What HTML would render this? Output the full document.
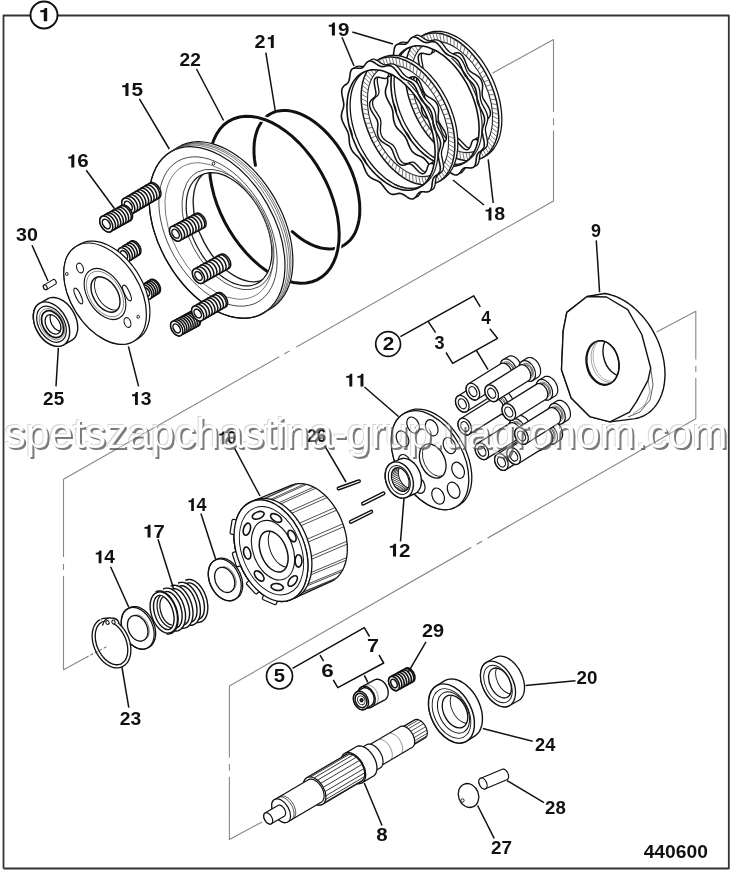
<!DOCTYPE html>
<html><head><meta charset="utf-8"><style>
html,body{margin:0;padding:0;background:#fff;width:736px;height:873px;overflow:hidden}
svg{position:absolute;left:0;top:0;display:block;filter:grayscale(1)}
.lb{font-family:"Liberation Sans",sans-serif;font-weight:bold;fill:#111}
.wm{font-family:"Liberation Sans",sans-serif;font-size:42.5px}
</style></head><body>
<svg width="736" height="873" viewBox="0 0 736 873">
<path d="M398.4,733.3 L398.4,732.5 L398.4,731.8 L398.6,731.1 L398.8,730.5 L399.0,729.9 L399.3,729.4 L399.7,728.9 L400.1,728.5 L400.5,728.1 L414.3,720.0 L414.8,719.8 L415.3,719.6 L415.9,719.4 L416.5,719.4 L417.1,719.4 L417.7,719.5 L418.4,719.7 L419.0,720.0 L419.7,720.3 L420.4,720.7 L421.1,721.1 L421.7,721.7 L422.4,722.2 L423.0,722.9 L423.6,723.5 L424.1,724.3 L424.7,725.0 L425.2,725.8 L425.6,726.6 L426.0,727.4 L426.4,728.3 L426.7,729.1 L426.9,730.0 L427.1,730.8 L427.2,731.6 L427.3,732.4 L427.3,733.2 L427.3,734.0 L427.2,734.7 L427.0,735.3 L426.8,735.9 L426.5,736.5 L426.2,737.0 L425.8,737.4 L425.4,737.8 L424.9,738.1 L411.2,746.2 L410.7,746.5 L410.1,746.6 L409.5,746.7 L408.9,746.7 L408.3,746.6 L407.6,746.5 L407.0,746.3 L406.3,746.0 L405.6,745.6 L405.0,745.2 L404.3,744.7 L403.7,744.2 L403.0,743.6 L402.4,742.9 L401.8,742.2 L401.3,741.5 L400.8,740.7 L400.3,739.9 L399.9,739.1 L399.5,738.3 L399.2,737.4 L398.9,736.6 L398.7,735.7 L398.5,734.9 L398.4,734.1 Z" stroke="#111" stroke-width="1.2" fill="#fff" stroke-linejoin="round"/>
<ellipse cx="406.0" cy="737.1" rx="6.3" ry="10.5" transform="rotate(-30.5 406.0 737.1)" stroke="#111" stroke-width="1.2" fill="#fff" />
<path d="M402.3,727.5 L416.1,719.4 M404.8,727.9 L418.6,719.8 M407.4,729.4 L421.2,721.2 M409.9,731.8 L423.7,723.7 M411.9,734.8 L425.7,726.7 M413.2,738.2 L426.9,730.0 M413.6,741.4 L427.3,733.3 M413.0,744.1 L426.8,735.9 M411.7,745.9 L425.4,737.8 " stroke="#222" stroke-width="0.8" fill="none"/>
<path d="M364.6,752.0 L364.6,751.2 L364.6,750.3 L364.8,749.5 L365.0,748.8 L365.3,748.1 L365.6,747.5 L366.0,747.0 L366.5,746.6 L367.0,746.2 L399.7,726.9 L400.3,726.6 L400.9,726.3 L401.5,726.2 L402.2,726.2 L402.9,726.2 L403.7,726.3 L404.4,726.5 L405.2,726.8 L405.9,727.2 L406.7,727.6 L407.5,728.1 L408.2,728.7 L409.0,729.4 L409.7,730.1 L410.3,730.9 L411.0,731.7 L411.6,732.6 L412.2,733.5 L412.7,734.4 L413.1,735.3 L413.5,736.3 L413.9,737.3 L414.2,738.2 L414.4,739.2 L414.5,740.1 L414.6,741.1 L414.7,742.0 L414.6,742.8 L414.5,743.6 L414.3,744.4 L414.1,745.1 L413.7,745.7 L413.4,746.3 L412.9,746.8 L412.4,747.2 L411.9,747.5 L379.2,766.8 L378.6,767.1 L378.0,767.3 L377.3,767.4 L376.6,767.4 L375.9,767.3 L375.2,767.1 L374.4,766.9 L373.6,766.6 L372.9,766.2 L372.1,765.7 L371.3,765.1 L370.6,764.5 L369.9,763.8 L369.2,763.1 L368.5,762.3 L367.9,761.4 L367.3,760.5 L366.8,759.6 L366.3,758.7 L365.9,757.7 L365.5,756.8 L365.2,755.8 L364.9,754.8 L364.7,753.9 L364.6,752.9 Z" stroke="#111" stroke-width="1.2" fill="#fff" stroke-linejoin="round"/>
<ellipse cx="373.2" cy="756.4" rx="7.2" ry="12.0" transform="rotate(-30.5 373.2 756.4)" stroke="#111" stroke-width="1.2" fill="#fff" />
<path d="M377.5,740.0 L377.8,739.8 L378.2,739.7 L378.5,739.5 L378.9,739.4 L379.3,739.4 L379.7,739.4 L380.2,739.4 L380.6,739.4 L381.0,739.5 L381.5,739.6 L381.9,739.7 L382.4,739.8 L382.8,740.0 L383.3,740.3 L383.8,740.5 L384.2,740.8 L384.7,741.1 L385.1,741.4 L385.6,741.7 L386.0,742.1 L386.5,742.5 L386.9,742.9 L387.3,743.4 L387.8,743.8 L388.2,744.3 L388.5,744.8 L388.9,745.3 L389.3,745.9 L389.6,746.4 L389.9,747.0 L390.2,747.5 L390.5,748.1 L390.8,748.7 L391.0,749.2 L391.3,749.8 L391.5,750.4 L391.7,751.0 L391.8,751.6 L392.0,752.1 L392.1,752.7 L392.2,753.3 L392.2,753.8 L392.3,754.4 L392.3,754.9 L392.3,755.4 L392.2,756.0 L392.2,756.4 L392.1,756.9 L392.0,757.4 L391.8,757.8 L391.7,758.2 L391.5,758.6 L391.3,759.0 L391.1,759.3 L390.8,759.7 L390.6,760.0 L390.3,760.2 L390.0,760.5 L389.7,760.7" stroke="#555" stroke-width="0.7" fill="none" stroke-linecap="round"/>
<path d="M387.8,733.9 L388.2,733.7 L388.5,733.6 L388.9,733.4 L389.3,733.4 L389.7,733.3 L390.1,733.3 L390.5,733.3 L390.9,733.3 L391.4,733.4 L391.8,733.5 L392.3,733.6 L392.7,733.8 L393.2,733.9 L393.6,734.2 L394.1,734.4 L394.6,734.7 L395.0,735.0 L395.5,735.3 L395.9,735.6 L396.4,736.0 L396.8,736.4 L397.3,736.8 L397.7,737.3 L398.1,737.7 L398.5,738.2 L398.9,738.7 L399.2,739.2 L399.6,739.8 L399.9,740.3 L400.3,740.9 L400.6,741.4 L400.9,742.0 L401.1,742.6 L401.4,743.1 L401.6,743.7 L401.8,744.3 L402.0,744.9 L402.1,745.5 L402.3,746.0 L402.4,746.6 L402.5,747.2 L402.5,747.7 L402.6,748.3 L402.6,748.8 L402.6,749.4 L402.6,749.9 L402.5,750.4 L402.4,750.8 L402.3,751.3 L402.2,751.7 L402.0,752.1 L401.8,752.5 L401.6,752.9 L401.4,753.2 L401.2,753.6 L400.9,753.9 L400.6,754.1 L400.3,754.4 L400.0,754.6" stroke="#555" stroke-width="0.7" fill="none" stroke-linecap="round"/>
<path d="M354.9,756.6 L354.9,755.6 L355.0,754.6 L355.1,753.8 L355.4,752.9 L355.7,752.2 L356.1,751.5 L356.5,750.9 L357.1,750.4 L357.6,750.0 L366.2,744.9 L366.9,744.5 L367.5,744.3 L368.3,744.1 L369.0,744.1 L369.8,744.1 L370.7,744.3 L371.5,744.5 L372.4,744.8 L373.2,745.2 L374.1,745.7 L374.9,746.3 L375.8,747.0 L376.6,747.7 L377.4,748.5 L378.2,749.4 L378.9,750.3 L379.6,751.3 L380.2,752.3 L380.8,753.4 L381.3,754.4 L381.8,755.5 L382.2,756.6 L382.5,757.7 L382.7,758.8 L382.9,759.8 L383.0,760.9 L383.0,761.9 L383.0,762.8 L382.8,763.7 L382.6,764.6 L382.3,765.4 L382.0,766.1 L381.6,766.7 L381.1,767.3 L380.5,767.8 L379.9,768.1 L371.3,773.2 L370.7,773.5 L370.0,773.7 L369.2,773.8 L368.4,773.8 L367.6,773.7 L366.8,773.6 L365.9,773.3 L365.1,772.9 L364.2,772.5 L363.4,771.9 L362.5,771.3 L361.7,770.6 L360.9,769.8 L360.1,769.0 L359.3,768.1 L358.6,767.1 L358.0,766.1 L357.4,765.1 L356.8,764.0 L356.3,763.0 L355.9,761.9 L355.5,760.8 L355.3,759.7 L355.0,758.6 L354.9,757.6 Z" stroke="#111" stroke-width="1.2" fill="#fff" stroke-linejoin="round"/>
<ellipse cx="364.6" cy="761.5" rx="8.1" ry="13.5" transform="rotate(-30.5 364.6 761.5)" stroke="#111" stroke-width="1.2" fill="#fff" />
<path d="M341.1,761.9 L341.1,760.6 L341.3,759.5 L341.5,758.4 L341.8,757.3 L342.2,756.4 L342.7,755.5 L343.2,754.8 L343.9,754.1 L344.6,753.6 L355.8,747.0 L356.6,746.5 L357.5,746.2 L358.4,746.0 L359.3,746.0 L360.3,746.0 L361.4,746.2 L362.4,746.5 L363.5,746.9 L364.6,747.4 L365.7,748.0 L366.8,748.8 L367.8,749.6 L368.9,750.6 L369.9,751.6 L370.8,752.7 L371.8,753.8 L372.6,755.1 L373.4,756.3 L374.1,757.6 L374.8,759.0 L375.4,760.4 L375.9,761.7 L376.3,763.1 L376.6,764.5 L376.8,765.8 L376.9,767.1 L376.9,768.4 L376.9,769.6 L376.7,770.7 L376.4,771.8 L376.1,772.8 L375.7,773.7 L375.1,774.5 L374.5,775.2 L373.8,775.8 L373.1,776.3 L361.9,782.9 L361.0,783.2 L360.2,783.5 L359.2,783.6 L358.2,783.6 L357.2,783.5 L356.2,783.3 L355.1,782.9 L354.0,782.5 L352.9,781.9 L351.8,781.2 L350.8,780.4 L349.7,779.5 L348.7,778.6 L347.7,777.5 L346.8,776.4 L345.9,775.2 L345.0,773.9 L344.3,772.6 L343.6,771.3 L343.0,769.9 L342.4,768.6 L342.0,767.2 L341.6,765.8 L341.4,764.5 L341.2,763.2 Z" stroke="#111" stroke-width="1.3" fill="#fff" stroke-linejoin="round"/>
<ellipse cx="353.4" cy="768.1" rx="10.2" ry="17.0" transform="rotate(-30.5 353.4 768.1)" stroke="#111" stroke-width="1.3" fill="#fff" />
<ellipse cx="353.4" cy="768.1" rx="8.4" ry="14.0" transform="rotate(-30.5 353.4 768.1)" stroke="#111" stroke-width="0.8" fill="none" />
<path d="M303.5,785.3 L303.5,784.2 L303.6,783.1 L303.8,782.1 L304.1,781.1 L304.4,780.3 L304.9,779.5 L305.4,778.8 L306.0,778.2 L306.7,777.7 L345.4,754.9 L346.1,754.5 L346.9,754.2 L347.7,754.0 L348.6,753.9 L349.5,754.0 L350.5,754.1 L351.4,754.4 L352.4,754.8 L353.4,755.3 L354.4,755.8 L355.4,756.5 L356.4,757.3 L357.3,758.1 L358.2,759.1 L359.1,760.0 L359.9,761.1 L360.7,762.2 L361.5,763.4 L362.1,764.6 L362.7,765.8 L363.2,767.1 L363.7,768.3 L364.0,769.6 L364.3,770.8 L364.5,772.0 L364.6,773.2 L364.7,774.4 L364.6,775.5 L364.5,776.5 L364.2,777.5 L363.9,778.4 L363.5,779.2 L363.0,779.9 L362.4,780.6 L361.8,781.1 L361.1,781.6 L322.4,804.4 L321.6,804.8 L320.8,805.0 L320.0,805.1 L319.1,805.1 L318.1,805.0 L317.2,804.8 L316.2,804.5 L315.2,804.1 L314.2,803.5 L313.2,802.9 L312.3,802.2 L311.3,801.4 L310.4,800.5 L309.5,799.5 L308.6,798.5 L307.8,797.4 L307.0,796.3 L306.3,795.1 L305.7,793.9 L305.1,792.6 L304.7,791.4 L304.3,790.1 L303.9,788.9 L303.7,787.7 L303.5,786.5 Z" stroke="#111" stroke-width="1.2" fill="#fff" stroke-linejoin="round"/>
<ellipse cx="314.7" cy="791.0" rx="9.3" ry="15.5" transform="rotate(-30.5 314.7 791.0)" stroke="#111" stroke-width="1.2" fill="#fff" />
<path d="M307.9,777.1 L346.6,754.3 M310.8,776.9 L349.6,754.0 M314.2,777.9 L352.9,755.0 M317.6,780.1 L356.3,757.2 M320.7,783.3 L359.4,760.5 M323.3,787.3 L362.0,764.4 M325.1,791.5 L363.8,768.7 M325.9,795.8 L364.6,772.9 M325.7,799.5 L364.4,776.7 M324.4,802.5 L363.2,779.7 M322.3,804.5 L361.1,781.6 " stroke="#222" stroke-width="0.9" fill="none"/>
<path d="M271.7,806.0 L271.7,805.1 L271.8,804.2 L272.0,803.3 L272.2,802.5 L272.5,801.8 L272.9,801.2 L273.3,800.6 L273.8,800.1 L274.4,799.7 L307.9,779.9 L308.6,779.5 L309.2,779.3 L309.9,779.1 L310.6,779.1 L311.4,779.1 L312.2,779.3 L313.0,779.5 L313.8,779.8 L314.7,780.2 L315.5,780.7 L316.3,781.2 L317.1,781.9 L317.9,782.6 L318.7,783.4 L319.4,784.2 L320.1,785.1 L320.8,786.0 L321.4,787.0 L322.0,788.0 L322.5,789.0 L322.9,790.1 L323.3,791.1 L323.6,792.2 L323.8,793.2 L324.0,794.2 L324.1,795.2 L324.1,796.2 L324.1,797.1 L323.9,798.0 L323.7,798.8 L323.5,799.6 L323.1,800.3 L322.7,800.9 L322.2,801.4 L321.7,801.9 L321.1,802.3 L287.6,822.1 L286.9,822.3 L286.3,822.5 L285.5,822.6 L284.8,822.7 L284.0,822.6 L283.2,822.4 L282.4,822.1 L281.5,821.8 L280.7,821.3 L279.9,820.8 L279.1,820.2 L278.3,819.5 L277.5,818.8 L276.7,818.0 L276.0,817.1 L275.3,816.2 L274.7,815.2 L274.1,814.2 L273.6,813.2 L273.1,812.2 L272.7,811.1 L272.4,810.1 L272.1,809.0 L271.9,808.0 L271.8,807.0 Z" stroke="#111" stroke-width="1.2" fill="#fff" stroke-linejoin="round"/>
<ellipse cx="281.1" cy="810.8" rx="7.8" ry="13.0" transform="rotate(-30.5 281.1 810.8)" stroke="#111" stroke-width="1.2" fill="#fff" />
<path d="M278.0,797.5 L278.3,797.4 L278.7,797.2 L279.1,797.1 L279.5,797.0 L280.0,796.9 L280.4,796.9 L280.9,796.9 L281.3,796.9 L281.8,797.0 L282.3,797.1 L282.8,797.2 L283.3,797.4 L283.8,797.6 L284.3,797.8 L284.8,798.1 L285.3,798.4 L285.8,798.7 L286.3,799.1 L286.8,799.5 L287.2,799.9 L287.7,800.3 L288.2,800.7 L288.6,801.2 L289.1,801.7 L289.5,802.2 L289.9,802.8 L290.3,803.3 L290.7,803.9 L291.1,804.5 L291.5,805.1 L291.8,805.7 L292.1,806.3 L292.4,806.9 L292.7,807.6 L292.9,808.2 L293.1,808.8 L293.3,809.5 L293.5,810.1 L293.6,810.7 L293.8,811.3 L293.9,811.9 L293.9,812.6 L294.0,813.1 L294.0,813.7 L294.0,814.3 L293.9,814.8 L293.9,815.4 L293.8,815.9 L293.7,816.4 L293.5,816.9 L293.3,817.3 L293.2,817.7 L292.9,818.1 L292.7,818.5 L292.4,818.9 L292.1,819.2 L291.8,819.5 L291.5,819.7 L291.2,819.9" stroke="#111" stroke-width="0.8" fill="none" stroke-linecap="round"/>
<path d="M279.7,796.5 L280.1,796.3 L280.4,796.2 L280.8,796.0 L281.3,795.9 L281.7,795.9 L282.1,795.9 L282.6,795.9 L283.0,795.9 L283.5,796.0 L284.0,796.1 L284.5,796.2 L285.0,796.4 L285.5,796.6 L286.0,796.8 L286.5,797.1 L287.0,797.4 L287.5,797.7 L288.0,798.1 L288.5,798.4 L289.0,798.8 L289.4,799.3 L289.9,799.7 L290.4,800.2 L290.8,800.7 L291.2,801.2 L291.7,801.8 L292.1,802.3 L292.5,802.9 L292.8,803.5 L293.2,804.1 L293.5,804.7 L293.8,805.3 L294.1,805.9 L294.4,806.5 L294.6,807.2 L294.8,807.8 L295.0,808.4 L295.2,809.1 L295.4,809.7 L295.5,810.3 L295.6,810.9 L295.6,811.5 L295.7,812.1 L295.7,812.7 L295.7,813.3 L295.6,813.8 L295.6,814.4 L295.5,814.9 L295.4,815.4 L295.2,815.8 L295.1,816.3 L294.9,816.7 L294.7,817.1 L294.4,817.5 L294.2,817.8 L293.9,818.2 L293.6,818.4 L293.2,818.7 L292.9,818.9" stroke="#111" stroke-width="0.8" fill="none" stroke-linecap="round"/>
<path d="M263.7,816.1 L263.7,815.7 L263.8,815.3 L263.8,814.8 L264.0,814.5 L264.1,814.1 L264.3,813.8 L264.5,813.5 L264.7,813.3 L265.0,813.1 L277.9,805.5 L278.2,805.3 L278.5,805.2 L278.8,805.1 L279.2,805.1 L279.6,805.1 L279.9,805.2 L280.3,805.3 L280.7,805.5 L281.1,805.6 L281.5,805.9 L281.9,806.1 L282.3,806.4 L282.7,806.8 L283.0,807.2 L283.4,807.6 L283.7,808.0 L284.0,808.4 L284.3,808.9 L284.6,809.4 L284.8,809.9 L285.0,810.4 L285.2,810.9 L285.4,811.4 L285.5,811.9 L285.6,812.3 L285.6,812.8 L285.6,813.3 L285.6,813.7 L285.5,814.1 L285.4,814.5 L285.3,814.9 L285.1,815.2 L284.9,815.5 L284.7,815.8 L284.5,816.0 L284.2,816.2 L271.3,823.8 L271.0,823.9 L270.7,824.0 L270.3,824.1 L269.9,824.1 L269.6,824.0 L269.2,823.9 L268.8,823.8 L268.4,823.6 L268.0,823.4 L267.6,823.2 L267.2,822.9 L266.8,822.6 L266.5,822.2 L266.1,821.8 L265.8,821.4 L265.4,821.0 L265.1,820.5 L264.9,820.0 L264.6,819.6 L264.4,819.1 L264.2,818.6 L264.0,818.1 L263.9,817.6 L263.8,817.1 L263.7,816.6 Z" stroke="#111" stroke-width="1.2" fill="#fff" stroke-linejoin="round"/>
<ellipse cx="268.2" cy="818.4" rx="3.7" ry="6.2" transform="rotate(-30.5 268.2 818.4)" stroke="#111" stroke-width="1.2" fill="#fff" />
<path d="M357.8,694.3 L357.8,693.4 L357.9,692.6 L358.1,691.7 L358.3,690.9 L358.6,690.2 L359.0,689.5 L359.4,688.8 L359.9,688.2 L360.4,687.7 L361.0,687.3 L361.6,686.9 L374.6,679.9 L375.3,679.6 L376.0,679.4 L376.7,679.3 L377.4,679.3 L378.2,679.3 L378.9,679.5 L379.7,679.7 L380.5,680.0 L381.2,680.4 L382.0,680.8 L382.7,681.3 L383.4,681.9 L384.1,682.6 L384.7,683.3 L385.3,684.0 L385.9,684.9 L386.4,685.7 L386.8,686.6 L387.2,687.5 L387.5,688.4 L387.8,689.4 L388.0,690.3 L388.1,691.3 L388.2,692.2 L388.2,693.1 L388.1,694.0 L388.0,694.9 L387.8,695.7 L387.5,696.5 L387.2,697.2 L386.8,697.9 L386.4,698.5 L385.9,699.0 L385.3,699.5 L384.7,699.9 L371.7,706.9 L371.1,707.2 L370.4,707.5 L369.7,707.6 L369.0,707.7 L368.2,707.7 L367.5,707.6 L366.7,707.4 L365.9,707.2 L365.2,706.8 L364.4,706.4 L363.7,705.9 L362.9,705.4 L362.3,704.8 L361.6,704.1 L361.0,703.3 L360.4,702.6 L359.9,701.7 L359.4,700.9 L359.0,700.0 L358.6,699.0 L358.3,698.1 L358.1,697.2 L357.9,696.2 L357.8,695.3 Z" stroke="#111" stroke-width="1.4" fill="#fff" stroke-linejoin="round"/>
<ellipse cx="366.5" cy="697.0" rx="8.1" ry="11.2" transform="rotate(-25 366.5 697.0)" stroke="#111" stroke-width="1.4" fill="#fff" />
<path d="M364.8,685.3 L365.2,685.2 L365.6,685.0 L366.0,684.9 L366.4,684.9 L366.9,684.8 L367.3,684.8 L367.8,684.8 L368.2,684.8 L368.7,684.9 L369.1,685.0 L369.6,685.2 L370.1,685.3 L370.5,685.5 L371.0,685.7 L371.4,686.0 L371.9,686.3 L372.3,686.6 L372.8,686.9 L373.2,687.2 L373.6,687.6 L374.0,688.0 L374.4,688.4 L374.8,688.9 L375.1,689.3 L375.5,689.8 L375.8,690.3 L376.1,690.8 L376.4,691.3 L376.7,691.8 L376.9,692.4 L377.2,692.9 L377.4,693.5 L377.6,694.0 L377.7,694.6 L377.9,695.2 L378.0,695.7 L378.1,696.3 L378.1,696.9 L378.2,697.4 L378.2,698.0 L378.2,698.5 L378.2,699.1 L378.1,699.6 L378.0,700.1 L377.9,700.6 L377.8,701.1 L377.7,701.6 L377.5,702.1 L377.3,702.5 L377.1,702.9 L376.8,703.3 L376.6,703.7 L376.3,704.1 L376.0,704.4 L375.7,704.7 L375.3,705.0 L375.0,705.2 L374.6,705.5 L374.2,705.7" stroke="#555" stroke-width="0.7" fill="none" stroke-linecap="round"/>
<path d="M353.4,698.3 L353.4,697.5 L353.5,696.7 L353.7,696.0 L353.9,695.3 L354.2,694.7 L354.5,694.1 L354.9,693.5 L355.3,693.0 L355.7,692.6 L356.3,692.2 L361.8,688.7 L362.3,688.4 L362.9,688.1 L363.5,687.9 L364.1,687.8 L364.8,687.8 L365.4,687.8 L366.1,687.9 L366.8,688.1 L367.4,688.4 L368.1,688.7 L368.8,689.1 L369.4,689.5 L370.0,690.0 L370.6,690.6 L371.1,691.2 L371.6,691.8 L372.1,692.5 L372.6,693.2 L372.9,694.0 L373.3,694.8 L373.6,695.6 L373.8,696.4 L373.9,697.2 L374.1,698.0 L374.1,698.8 L374.1,699.6 L374.0,700.4 L373.9,701.1 L373.7,701.8 L373.5,702.5 L373.2,703.1 L372.8,703.7 L372.4,704.2 L372.0,704.7 L371.5,705.1 L371.0,705.5 L365.5,709.0 L364.9,709.3 L364.3,709.5 L363.7,709.6 L363.1,709.7 L362.4,709.7 L361.7,709.6 L361.1,709.5 L360.4,709.3 L359.7,709.0 L359.1,708.6 L358.4,708.2 L357.8,707.8 L357.2,707.2 L356.6,706.6 L356.1,706.0 L355.6,705.3 L355.2,704.6 L354.7,703.9 L354.4,703.1 L354.1,702.3 L353.8,701.5 L353.6,700.7 L353.5,699.9 L353.4,699.1 Z" stroke="#111" stroke-width="1.4" fill="#fff" stroke-linejoin="round"/>
<ellipse cx="361.0" cy="700.5" rx="7.1" ry="9.6" transform="rotate(-25 361.0 700.5)" stroke="#111" stroke-width="1.4" fill="#fff" />
<ellipse cx="361.0" cy="700.5" rx="5.6" ry="7.4" transform="rotate(-25 361.0 700.5)" stroke="#111" stroke-width="1.5" fill="none" />
<ellipse cx="361.3" cy="700.3" rx="3.6" ry="4.6" transform="rotate(-25 361.3 700.3)" stroke="#111" stroke-width="0.9" fill="none" />
<ellipse cx="361.5" cy="700.2" rx="1.4" ry="1.6" transform="rotate(-25 361.5 700.2)" stroke="#111" stroke-width="1.3" fill="#333" />
<path d="M388.6,681.0 L388.6,680.4 L388.6,679.9 L388.7,679.4 L388.9,678.9 L389.0,678.4 L389.2,678.0 L389.5,677.6 L389.8,677.3 L390.1,677.0 L390.5,676.8 L406.0,668.3 L406.3,668.1 L406.7,668.0 L407.2,667.9 L407.6,667.9 L408.1,667.9 L408.5,668.0 L409.0,668.2 L409.5,668.4 L410.0,668.7 L410.4,669.0 L410.9,669.3 L411.4,669.7 L411.8,670.2 L412.2,670.6 L412.6,671.2 L413.0,671.7 L413.4,672.3 L413.7,672.9 L414.0,673.5 L414.2,674.1 L414.5,674.7 L414.6,675.3 L414.8,676.0 L414.9,676.6 L414.9,677.2 L414.9,677.8 L414.9,678.3 L414.8,678.9 L414.7,679.4 L414.6,679.9 L414.4,680.3 L414.1,680.7 L413.9,681.1 L413.6,681.4 L413.2,681.6 L412.9,681.8 L397.4,690.3 L397.0,690.5 L396.6,690.6 L396.1,690.6 L395.7,690.6 L395.2,690.5 L394.7,690.4 L394.3,690.2 L393.8,690.0 L393.3,689.7 L392.8,689.4 L392.4,689.0 L391.9,688.6 L391.5,688.1 L391.1,687.6 L390.7,687.1 L390.3,686.5 L390.0,685.9 L389.7,685.3 L389.4,684.7 L389.1,684.1 L388.9,683.5 L388.8,682.8 L388.7,682.2 L388.6,681.6 Z" stroke="#111" stroke-width="1.6" fill="#fff" stroke-linejoin="round"/>
<path d="M392.9,675.4 L393.4,675.2 L393.9,675.1 L394.5,675.1 L395.0,675.1 L395.6,675.3 L396.2,675.5 L396.8,675.8 L397.4,676.2 L397.9,676.6 L398.5,677.1 L399.0,677.7 L399.5,678.3 L400.0,679.0 L400.4,679.7 L400.8,680.4 L401.1,681.2 L401.4,681.9 L401.6,682.7 L401.7,683.5 L401.8,684.2 L401.8,684.9 L401.8,685.6 L401.7,686.3 L401.5,686.9 L401.3,687.4 L401.0,687.9 L400.7,688.3 L400.3,688.7 L399.8,689.0" stroke="#111" stroke-width="1.6" fill="none"/>
<path d="M395.3,674.1 L395.8,673.9 L396.3,673.8 L396.8,673.8 L397.4,673.8 L398.0,674.0 L398.6,674.2 L399.2,674.5 L399.7,674.9 L400.3,675.3 L400.9,675.8 L401.4,676.4 L401.9,677.0 L402.4,677.7 L402.8,678.4 L403.1,679.1 L403.5,679.9 L403.7,680.6 L403.9,681.4 L404.1,682.2 L404.2,682.9 L404.2,683.6 L404.2,684.3 L404.1,685.0 L403.9,685.6 L403.7,686.1 L403.4,686.6 L403.0,687.0 L402.7,687.4 L402.2,687.7" stroke="#111" stroke-width="1.6" fill="none"/>
<path d="M397.7,672.8 L398.2,672.6 L398.7,672.5 L399.2,672.5 L399.8,672.5 L400.4,672.7 L400.9,672.9 L401.5,673.2 L402.1,673.6 L402.7,674.0 L403.2,674.5 L403.8,675.1 L404.3,675.7 L404.7,676.4 L405.2,677.1 L405.5,677.8 L405.9,678.6 L406.1,679.3 L406.3,680.1 L406.5,680.9 L406.6,681.6 L406.6,682.3 L406.5,683.0 L406.4,683.7 L406.3,684.3 L406.0,684.8 L405.8,685.3 L405.4,685.7 L405.0,686.1 L404.6,686.3" stroke="#111" stroke-width="1.6" fill="none"/>
<path d="M400.1,671.5 L400.6,671.3 L401.1,671.2 L401.6,671.2 L402.2,671.2 L402.7,671.4 L403.3,671.6 L403.9,671.9 L404.5,672.3 L405.1,672.7 L405.6,673.2 L406.2,673.8 L406.7,674.4 L407.1,675.1 L407.5,675.8 L407.9,676.5 L408.2,677.3 L408.5,678.0 L408.7,678.8 L408.9,679.6 L408.9,680.3 L409.0,681.0 L408.9,681.7 L408.8,682.4 L408.7,683.0 L408.4,683.5 L408.1,684.0 L407.8,684.4 L407.4,684.8 L407.0,685.0" stroke="#111" stroke-width="1.6" fill="none"/>
<path d="M402.5,670.2 L402.9,670.0 L403.5,669.9 L404.0,669.9 L404.6,669.9 L405.1,670.1 L405.7,670.3 L406.3,670.6 L406.9,670.9 L407.5,671.4 L408.0,671.9 L408.5,672.5 L409.0,673.1 L409.5,673.8 L409.9,674.5 L410.3,675.2 L410.6,675.9 L410.9,676.7 L411.1,677.5 L411.2,678.2 L411.3,679.0 L411.4,679.7 L411.3,680.4 L411.2,681.1 L411.0,681.7 L410.8,682.2 L410.5,682.7 L410.2,683.1 L409.8,683.5 L409.4,683.7" stroke="#111" stroke-width="1.6" fill="none"/>
<path d="M404.9,668.9 L405.3,668.7 L405.8,668.6 L406.4,668.6 L406.9,668.6 L407.5,668.7 L408.1,669.0 L408.7,669.3 L409.3,669.6 L409.8,670.1 L410.4,670.6 L410.9,671.2 L411.4,671.8 L411.9,672.4 L412.3,673.2 L412.7,673.9 L413.0,674.6 L413.3,675.4 L413.5,676.2 L413.6,676.9 L413.7,677.7 L413.7,678.4 L413.7,679.1 L413.6,679.8 L413.4,680.4 L413.2,680.9 L412.9,681.4 L412.6,681.8 L412.2,682.2 L411.8,682.4" stroke="#111" stroke-width="1.6" fill="none"/>
<ellipse cx="394.0" cy="683.5" rx="4.7" ry="7.6" transform="rotate(-27 394.0 683.5)" stroke="#111" stroke-width="1.6" fill="#fff" />
<ellipse cx="394.0" cy="683.5" rx="2.8" ry="4.6" transform="rotate(-27 394.0 683.5)" stroke="#111" stroke-width="1.6" fill="none" />
<path d="M428.5,703.4 L428.6,701.0 L428.9,698.7 L429.3,696.5 L429.9,694.4 L430.7,692.5 L431.6,690.8 L432.7,689.2 L433.9,687.8 L435.3,686.6 L436.8,685.6 L444.8,680.6 L446.4,679.9 L448.1,679.4 L449.9,679.1 L451.8,679.0 L453.8,679.1 L455.8,679.5 L457.8,680.1 L459.8,681.0 L461.8,682.0 L463.8,683.3 L465.8,684.8 L467.7,686.4 L469.6,688.2 L471.4,690.2 L473.1,692.3 L474.7,694.5 L476.1,696.9 L477.5,699.3 L478.7,701.9 L479.7,704.4 L480.6,707.0 L481.3,709.6 L481.9,712.2 L482.2,714.8 L482.4,717.3 L482.4,719.8 L482.3,722.2 L481.9,724.4 L481.4,726.6 L480.7,728.6 L479.9,730.4 L478.9,732.1 L477.7,733.5 L476.4,734.8 L475.0,735.9 L467.0,740.9 L465.4,741.8 L463.7,742.4 L462.0,742.8 L460.1,743.0 L458.2,743.0 L456.2,742.7 L454.2,742.2 L452.2,741.5 L450.2,740.5 L448.2,739.4 L446.2,738.0 L444.2,736.4 L442.3,734.7 L440.5,732.8 L438.8,730.8 L437.1,728.6 L435.6,726.3 L434.2,723.9 L432.9,721.4 L431.8,718.9 L430.8,716.3 L430.0,713.7 L429.4,711.1 L428.9,708.5 L428.6,705.9 Z" stroke="#111" stroke-width="1.4" fill="#fff" stroke-linejoin="round"/>
<ellipse cx="451.5" cy="713.5" rx="20.2" ry="31.5" transform="rotate(-27 451.5 713.5)" stroke="#111" stroke-width="1.4" fill="#fff" />
<ellipse cx="451.5" cy="713.5" rx="17.0" ry="26.5" transform="rotate(-27 451.5 713.5)" stroke="#111" stroke-width="0.9" fill="none" />
<ellipse cx="453.5" cy="712.5" rx="14.1" ry="22.0" transform="rotate(-27 453.5 712.5)" stroke="#111" stroke-width="1.0" fill="none" />
<clipPath id="c1"><ellipse cx="455.0" cy="711.5" rx="11.2" ry="17.5" transform="rotate(-27 455.0 711.5)"/></clipPath>
<g clip-path="url(#c1)">
<ellipse cx="463.0" cy="707.0" rx="11.2" ry="17.5" transform="rotate(-27 463.0 707.0)" stroke="#111" stroke-width="0.9" fill="none" />
</g>
<ellipse cx="455.0" cy="711.5" rx="11.2" ry="17.5" transform="rotate(-27 455.0 711.5)" stroke="#111" stroke-width="1.3" fill="none" />
<path d="M480.5,676.0 L480.5,674.1 L480.7,672.3 L481.0,670.6 L481.4,669.0 L482.0,667.6 L482.7,666.2 L483.5,665.0 L484.4,664.0 L485.5,663.1 L486.6,662.3 L495.6,657.3 L496.8,656.8 L498.1,656.4 L499.5,656.2 L500.9,656.1 L502.4,656.3 L503.9,656.6 L505.4,657.1 L507.0,657.7 L508.5,658.6 L510.0,659.6 L511.6,660.7 L513.0,662.0 L514.5,663.4 L515.8,665.0 L517.1,666.6 L518.4,668.4 L519.5,670.2 L520.5,672.1 L521.5,674.1 L522.3,676.1 L523.0,678.1 L523.6,680.1 L524.0,682.1 L524.3,684.1 L524.5,686.1 L524.5,688.0 L524.4,689.8 L524.2,691.5 L523.8,693.2 L523.3,694.7 L522.7,696.1 L521.9,697.4 L521.1,698.5 L520.1,699.5 L519.0,700.3 L510.0,705.3 L508.8,706.0 L507.6,706.5 L506.2,706.8 L504.8,706.9 L503.4,706.8 L501.9,706.6 L500.4,706.2 L498.8,705.6 L497.3,704.9 L495.7,704.0 L494.2,702.9 L492.7,701.7 L491.2,700.3 L489.8,698.8 L488.5,697.2 L487.2,695.5 L486.1,693.7 L485.0,691.9 L484.0,689.9 L483.1,687.9 L482.4,685.9 L481.7,683.9 L481.2,681.9 L480.8,679.9 L480.6,677.9 Z" stroke="#111" stroke-width="1.3" fill="#fff" stroke-linejoin="round"/>
<ellipse cx="498.0" cy="684.0" rx="15.2" ry="24.5" transform="rotate(-27 498.0 684.0)" stroke="#111" stroke-width="1.3" fill="#fff" />
<ellipse cx="498.0" cy="684.0" rx="12.4" ry="20.0" transform="rotate(-27 498.0 684.0)" stroke="#111" stroke-width="0.9" fill="none" />
<clipPath id="c2"><ellipse cx="500.0" cy="683.0" rx="9.9" ry="16.0" transform="rotate(-27 500.0 683.0)"/></clipPath>
<g clip-path="url(#c2)">
<ellipse cx="507.0" cy="679.0" rx="9.9" ry="16.0" transform="rotate(-27 507.0 679.0)" stroke="#111" stroke-width="0.9" fill="none" />
</g>
<ellipse cx="500.0" cy="683.0" rx="9.9" ry="16.0" transform="rotate(-27 500.0 683.0)" stroke="#111" stroke-width="1.3" fill="none" />
<ellipse cx="468.5" cy="795.5" rx="10.0" ry="12.2" transform="rotate(-20 468.5 795.5)" stroke="#111" stroke-width="1.3" fill="#fff" />
<ellipse cx="462.5" cy="800.5" rx="1.6" ry="1.8" transform="rotate(0 462.5 800.5)" stroke="#111" stroke-width="0.9" fill="none" />
<path d="M478.9,781.5 L478.9,781.0 L479.0,780.6 L479.1,780.2 L479.2,779.8 L479.3,779.5 L479.5,779.2 L479.7,778.9 L480.0,778.6 L480.2,778.4 L480.5,778.3 L480.8,778.2 L502.3,769.2 L502.6,769.1 L502.9,769.0 L503.2,769.0 L503.6,769.1 L503.9,769.2 L504.3,769.3 L504.7,769.5 L505.0,769.7 L505.4,769.9 L505.7,770.2 L506.1,770.5 L506.4,770.9 L506.7,771.3 L507.0,771.7 L507.3,772.1 L507.5,772.5 L507.8,773.0 L508.0,773.5 L508.1,773.9 L508.3,774.4 L508.4,774.9 L508.5,775.4 L508.6,775.9 L508.6,776.3 L508.6,776.8 L508.5,777.2 L508.5,777.6 L508.4,778.0 L508.2,778.4 L508.1,778.7 L507.9,779.0 L507.7,779.2 L507.4,779.5 L507.2,779.6 L506.9,779.8 L485.4,788.8 L485.1,788.9 L484.8,789.0 L484.4,789.0 L484.1,788.9 L483.7,788.9 L483.4,788.8 L483.0,788.6 L482.7,788.4 L482.3,788.2 L481.9,787.9 L481.6,787.6 L481.3,787.3 L480.9,786.9 L480.6,786.5 L480.4,786.1 L480.1,785.7 L479.9,785.3 L479.6,784.8 L479.4,784.3 L479.3,783.8 L479.1,783.3 L479.0,782.9 L479.0,782.4 L478.9,781.9 Z" stroke="#111" stroke-width="1.2" fill="#fff" stroke-linejoin="round"/>
<ellipse cx="483.0" cy="783.5" rx="3.6" ry="5.8" transform="rotate(-25 483.0 783.5)" stroke="#111" stroke-width="1.2" fill="#fff" />
<path d="M208.3,573.8 L208.3,572.5 L208.4,571.3 L208.6,570.1 L208.8,569.0 L209.1,567.9 L209.4,566.8 L209.9,565.8 L210.3,564.8 L210.9,564.0 L211.5,563.1 L212.1,562.4 L212.8,561.7 L213.6,561.1 L214.4,560.5 L215.2,560.1 L216.7,559.3 L217.6,558.9 L218.5,558.6 L219.4,558.4 L220.4,558.2 L221.3,558.2 L222.4,558.2 L223.4,558.3 L224.4,558.5 L225.4,558.8 L226.5,559.2 L227.5,559.6 L228.6,560.2 L229.6,560.8 L230.6,561.4 L231.6,562.2 L232.6,563.0 L233.5,563.9 L234.4,564.8 L235.3,565.8 L236.2,566.9 L237.0,568.0 L237.8,569.1 L238.5,570.3 L239.1,571.5 L239.8,572.8 L240.3,574.1 L240.8,575.4 L241.3,576.7 L241.7,578.0 L242.0,579.3 L242.2,580.6 L242.4,582.0 L242.6,583.3 L242.6,584.6 L242.6,585.8 L242.6,587.1 L242.4,588.3 L242.2,589.5 L242.0,590.6 L241.6,591.7 L241.2,592.7 L240.8,593.7 L240.3,594.6 L239.7,595.5 L239.1,596.3 L238.4,597.0 L237.7,597.6 L236.9,598.2 L236.1,598.7 L234.6,599.5 L233.8,599.9 L232.9,600.3 L232.0,600.5 L231.0,600.7 L230.0,600.8 L229.1,600.8 L228.0,600.7 L227.0,600.6 L226.0,600.3 L224.9,600.0 L223.9,599.6 L222.8,599.1 L221.8,598.5 L220.8,597.9 L219.8,597.2 L218.8,596.4 L217.8,595.6 L216.9,594.7 L216.0,593.7 L215.1,592.7 L214.3,591.6 L213.5,590.5 L212.8,589.3 L212.1,588.1 L211.4,586.9 L210.9,585.6 L210.3,584.3 L209.8,583.0 L209.4,581.7 L209.1,580.3 L208.8,579.0 L208.6,577.7 L208.4,576.4 L208.3,575.1 Z M233.1,576.0 L233.4,576.8 L233.7,577.5 L234.0,578.3 L234.2,579.1 L234.4,579.9 L234.6,580.7 L234.7,581.5 L234.7,582.3 L234.8,583.1 L234.8,583.8 L234.7,584.6 L234.6,585.3 L234.5,586.0 L234.3,586.7 L234.1,587.4 L233.9,588.0 L233.6,588.6 L233.3,589.2 L232.9,589.7 L232.5,590.2 L232.1,590.6 L231.6,591.0 L231.2,591.4 L230.7,591.7 L230.1,591.9 L229.6,592.1 L229.0,592.3 L228.4,592.4 L227.8,592.5 L227.2,592.5 L226.6,592.4 L226.0,592.4 L225.3,592.2 L224.7,592.0 L224.1,591.8 L223.4,591.5 L222.8,591.2 L222.2,590.8 L221.6,590.4 L221.0,589.9 L220.4,589.4 L219.8,588.9 L219.3,588.3 L218.7,587.7 L218.2,587.0 L217.8,586.3 L217.3,585.6 L216.9,584.9 L216.5,584.2 L216.1,583.4 L215.8,582.7 L215.5,581.9 L215.3,581.1 L215.1,580.3 L214.9,579.5 L214.8,578.7 L214.7,577.9 L214.6,577.1 L214.6,576.3 L214.7,575.6 L214.7,574.8 L214.8,574.1 L215.0,573.4 L215.2,572.7 L215.4,572.1 L215.7,571.5 L216.0,570.9 L216.3,570.4 L216.7,569.9 L217.1,569.4 L217.5,569.0 L218.0,568.6 L218.5,568.3 L219.0,568.0 L219.5,567.8 L220.1,567.6 L220.7,567.4 L221.3,567.4 L221.9,567.3 L222.5,567.3 L223.1,567.4 L223.7,567.5 L224.4,567.7 L225.0,567.9 L225.7,568.2 L226.3,568.5 L226.9,568.8 L227.5,569.2 L228.1,569.7 L228.7,570.1 L229.3,570.7 L229.9,571.2 L230.4,571.8 L230.9,572.5 L231.4,573.1 L231.9,573.8 L232.3,574.5 L232.7,575.2 L233.1,576.0 Z" fill="#fff" fill-rule="evenodd" stroke="#111" stroke-width="1.3"/>
<ellipse cx="224.7" cy="579.9" rx="15.0" ry="22.0" transform="rotate(-25 224.7 579.9)" stroke="#111" stroke-width="1.2" fill="none" />
<path d="M223.7,566.7 L224.2,566.8 L224.6,566.8 L225.0,566.9 L225.4,567.0 L225.9,567.2 L226.3,567.3 L226.7,567.5 L227.1,567.7 L227.6,567.9 L228.0,568.1 L228.4,568.4 L228.8,568.7 L229.2,569.0 L229.6,569.3 L230.0,569.6 L230.4,569.9 L230.8,570.3 L231.1,570.7 L231.5,571.1 L231.8,571.5 L232.2,571.9 L232.5,572.4 L232.8,572.8 L233.1,573.3 L233.4,573.8 L233.7,574.2 L234.0,574.7 L234.2,575.2 L234.4,575.7 L234.7,576.3 L234.9,576.8 L235.0,577.3 L235.2,577.8 L235.4,578.4 L235.5,578.9 L235.6,579.4 L235.7,580.0 L235.8,580.5 L235.9,581.0 L235.9,581.5 L236.0,582.1 L236.0,582.6 L236.0,583.1 L235.9,583.6 L235.9,584.1 L235.8,584.6 L235.8,585.1 L235.7,585.5 L235.5,586.0 L235.4,586.4 L235.3,586.9 L235.1,587.3 L234.9,587.7 L234.7,588.1 L234.5,588.5 L234.3,588.8 L234.0,589.2 L233.8,589.5 L233.5,589.8" stroke="#333" stroke-width="0.8" fill="none" stroke-linecap="round"/>
<path d="M186.1,582.0 L186.9,581.6 L187.7,581.4 L188.5,581.2 L189.3,581.2 L190.2,581.2 L191.1,581.4 L192.0,581.7 L192.9,582.1 L193.8,582.5 L194.7,583.1 L195.6,583.8 L196.5,584.5 L197.4,585.3 L198.3,586.3 L199.1,587.3 L199.9,588.3 L200.7,589.5 L201.4,590.6 L202.1,591.9 L202.7,593.2 L203.3,594.5 L203.9,595.9 L204.4,597.3 L204.8,598.7 L205.2,600.1 L205.5,601.6 L205.7,603.0 L205.9,604.4 L206.1,605.8 L206.1,607.2 L206.1,608.5 L206.0,609.8 L205.9,611.1 L205.7,612.3 L205.4,613.4 L205.1,614.5 L204.7,615.5 L204.3,616.5 L203.8,617.3 L203.2,618.1 L202.6,618.8 L201.9,619.4 L201.2,619.8 L200.5,620.2 L199.7,620.5 L198.9,620.7 L198.1,620.8 L197.2,620.8 L196.3,620.7" stroke="#111" stroke-width="4.8" fill="none"/>
<path d="M186.1,582.0 L186.9,581.6 L187.7,581.4 L188.5,581.2 L189.3,581.2 L190.2,581.2 L191.1,581.4 L192.0,581.7 L192.9,582.1 L193.8,582.5 L194.7,583.1 L195.6,583.8 L196.5,584.5 L197.4,585.3 L198.3,586.3 L199.1,587.3 L199.9,588.3 L200.7,589.5 L201.4,590.6 L202.1,591.9 L202.7,593.2 L203.3,594.5 L203.9,595.9 L204.4,597.3 L204.8,598.7 L205.2,600.1 L205.5,601.6 L205.7,603.0 L205.9,604.4 L206.1,605.8 L206.1,607.2 L206.1,608.5 L206.0,609.8 L205.9,611.1 L205.7,612.3 L205.4,613.4 L205.1,614.5 L204.7,615.5 L204.3,616.5 L203.8,617.3 L203.2,618.1 L202.6,618.8 L201.9,619.4 L201.2,619.8 L200.5,620.2 L199.7,620.5 L198.9,620.7 L198.1,620.8 L197.2,620.8 L196.3,620.7" stroke="#fff" stroke-width="2.0" fill="none"/>
<path d="M178.7,584.8 L179.4,584.5 L180.2,584.2 L181.1,584.1 L181.9,584.1 L182.8,584.1 L183.7,584.3 L184.6,584.6 L185.5,584.9 L186.4,585.4 L187.3,586.0 L188.2,586.6 L189.1,587.4 L190.0,588.2 L190.8,589.1 L191.7,590.1 L192.5,591.2 L193.2,592.3 L194.0,593.5 L194.7,594.8 L195.3,596.1 L195.9,597.4 L196.4,598.8 L196.9,600.2 L197.4,601.6 L197.8,603.0 L198.1,604.4 L198.3,605.9 L198.5,607.3 L198.6,608.7 L198.7,610.1 L198.7,611.4 L198.6,612.7 L198.5,614.0 L198.3,615.2 L198.0,616.3 L197.7,617.4 L197.3,618.4 L196.8,619.3 L196.3,620.2 L195.8,621.0 L195.2,621.6 L194.5,622.2 L193.8,622.7 L193.1,623.1 L192.3,623.4 L191.5,623.6 L190.6,623.7 L189.8,623.7 L188.9,623.5" stroke="#111" stroke-width="4.8" fill="none"/>
<path d="M178.7,584.8 L179.4,584.5 L180.2,584.2 L181.1,584.1 L181.9,584.1 L182.8,584.1 L183.7,584.3 L184.6,584.6 L185.5,584.9 L186.4,585.4 L187.3,586.0 L188.2,586.6 L189.1,587.4 L190.0,588.2 L190.8,589.1 L191.7,590.1 L192.5,591.2 L193.2,592.3 L194.0,593.5 L194.7,594.8 L195.3,596.1 L195.9,597.4 L196.4,598.8 L196.9,600.2 L197.4,601.6 L197.8,603.0 L198.1,604.4 L198.3,605.9 L198.5,607.3 L198.6,608.7 L198.7,610.1 L198.7,611.4 L198.6,612.7 L198.5,614.0 L198.3,615.2 L198.0,616.3 L197.7,617.4 L197.3,618.4 L196.8,619.3 L196.3,620.2 L195.8,621.0 L195.2,621.6 L194.5,622.2 L193.8,622.7 L193.1,623.1 L192.3,623.4 L191.5,623.6 L190.6,623.7 L189.8,623.7 L188.9,623.5" stroke="#fff" stroke-width="2.0" fill="none"/>
<path d="M171.3,587.7 L172.0,587.4 L172.8,587.1 L173.6,587.0 L174.5,586.9 L175.4,587.0 L176.2,587.2 L177.1,587.4 L178.1,587.8 L179.0,588.3 L179.9,588.8 L180.8,589.5 L181.7,590.3 L182.5,591.1 L183.4,592.0 L184.2,593.0 L185.0,594.1 L185.8,595.2 L186.5,596.4 L187.2,597.6 L187.9,598.9 L188.5,600.3 L189.0,601.6 L189.5,603.0 L190.0,604.5 L190.3,605.9 L190.6,607.3 L190.9,608.7 L191.1,610.2 L191.2,611.6 L191.3,612.9 L191.3,614.3 L191.2,615.6 L191.0,616.8 L190.8,618.0 L190.6,619.2 L190.2,620.3 L189.9,621.3 L189.4,622.2 L188.9,623.1 L188.3,623.8 L187.7,624.5 L187.1,625.1 L186.4,625.6 L185.6,626.0 L184.9,626.3 L184.1,626.5 L183.2,626.6 L182.4,626.5 L181.5,626.4" stroke="#111" stroke-width="4.8" fill="none"/>
<path d="M171.3,587.7 L172.0,587.4 L172.8,587.1 L173.6,587.0 L174.5,586.9 L175.4,587.0 L176.2,587.2 L177.1,587.4 L178.1,587.8 L179.0,588.3 L179.9,588.8 L180.8,589.5 L181.7,590.3 L182.5,591.1 L183.4,592.0 L184.2,593.0 L185.0,594.1 L185.8,595.2 L186.5,596.4 L187.2,597.6 L187.9,598.9 L188.5,600.3 L189.0,601.6 L189.5,603.0 L190.0,604.5 L190.3,605.9 L190.6,607.3 L190.9,608.7 L191.1,610.2 L191.2,611.6 L191.3,612.9 L191.3,614.3 L191.2,615.6 L191.0,616.8 L190.8,618.0 L190.6,619.2 L190.2,620.3 L189.9,621.3 L189.4,622.2 L188.9,623.1 L188.3,623.8 L187.7,624.5 L187.1,625.1 L186.4,625.6 L185.6,626.0 L184.9,626.3 L184.1,626.5 L183.2,626.6 L182.4,626.5 L181.5,626.4" stroke="#fff" stroke-width="2.0" fill="none"/>
<path d="M163.8,590.6 L164.6,590.2 L165.4,590.0 L166.2,589.8 L167.1,589.8 L167.9,589.9 L168.8,590.0 L169.7,590.3 L170.6,590.7 L171.5,591.2 L172.4,591.7 L173.4,592.4 L174.2,593.1 L175.1,594.0 L176.0,594.9 L176.8,595.9 L177.6,596.9 L178.4,598.1 L179.1,599.3 L179.8,600.5 L180.5,601.8 L181.1,603.1 L181.6,604.5 L182.1,605.9 L182.5,607.3 L182.9,608.8 L183.2,610.2 L183.5,611.6 L183.7,613.0 L183.8,614.4 L183.8,615.8 L183.8,617.2 L183.8,618.5 L183.6,619.7 L183.4,620.9 L183.2,622.1 L182.8,623.2 L182.4,624.2 L182.0,625.1 L181.5,625.9 L180.9,626.7 L180.3,627.4 L179.7,628.0 L179.0,628.5 L178.2,628.9 L177.4,629.2 L176.6,629.3 L175.8,629.4 L174.9,629.4 L174.1,629.3" stroke="#111" stroke-width="4.8" fill="none"/>
<path d="M163.8,590.6 L164.6,590.2 L165.4,590.0 L166.2,589.8 L167.1,589.8 L167.9,589.9 L168.8,590.0 L169.7,590.3 L170.6,590.7 L171.5,591.2 L172.4,591.7 L173.4,592.4 L174.2,593.1 L175.1,594.0 L176.0,594.9 L176.8,595.9 L177.6,596.9 L178.4,598.1 L179.1,599.3 L179.8,600.5 L180.5,601.8 L181.1,603.1 L181.6,604.5 L182.1,605.9 L182.5,607.3 L182.9,608.8 L183.2,610.2 L183.5,611.6 L183.7,613.0 L183.8,614.4 L183.8,615.8 L183.8,617.2 L183.8,618.5 L183.6,619.7 L183.4,620.9 L183.2,622.1 L182.8,623.2 L182.4,624.2 L182.0,625.1 L181.5,625.9 L180.9,626.7 L180.3,627.4 L179.7,628.0 L179.0,628.5 L178.2,628.9 L177.4,629.2 L176.6,629.3 L175.8,629.4 L174.9,629.4 L174.1,629.3" stroke="#fff" stroke-width="2.0" fill="none"/>
<path d="M156.4,593.5 L157.2,593.1 L158.0,592.9 L158.8,592.7 L159.6,592.7 L160.5,592.7 L161.4,592.9 L162.3,593.2 L163.2,593.6 L164.1,594.0 L165.0,594.6 L165.9,595.3 L166.8,596.0 L167.7,596.8 L168.6,597.8 L169.4,598.8 L170.2,599.8 L171.0,601.0 L171.7,602.1 L172.4,603.4 L173.0,604.7 L173.6,606.0 L174.2,607.4 L174.7,608.8 L175.1,610.2 L175.5,611.6 L175.8,613.1 L176.0,614.5 L176.2,615.9 L176.4,617.3 L176.4,618.7 L176.4,620.0 L176.3,621.3 L176.2,622.6 L176.0,623.8 L175.7,624.9 L175.4,626.0 L175.0,627.0 L174.6,628.0 L174.1,628.8 L173.5,629.6 L172.9,630.3 L172.2,630.9 L171.5,631.3 L170.8,631.7 L170.0,632.0 L169.2,632.2 L168.4,632.3 L167.5,632.3 L166.6,632.2" stroke="#111" stroke-width="4.8" fill="none"/>
<path d="M156.4,593.5 L157.2,593.1 L158.0,592.9 L158.8,592.7 L159.6,592.7 L160.5,592.7 L161.4,592.9 L162.3,593.2 L163.2,593.6 L164.1,594.0 L165.0,594.6 L165.9,595.3 L166.8,596.0 L167.7,596.8 L168.6,597.8 L169.4,598.8 L170.2,599.8 L171.0,601.0 L171.7,602.1 L172.4,603.4 L173.0,604.7 L173.6,606.0 L174.2,607.4 L174.7,608.8 L175.1,610.2 L175.5,611.6 L175.8,613.1 L176.0,614.5 L176.2,615.9 L176.4,617.3 L176.4,618.7 L176.4,620.0 L176.3,621.3 L176.2,622.6 L176.0,623.8 L175.7,624.9 L175.4,626.0 L175.0,627.0 L174.6,628.0 L174.1,628.8 L173.5,629.6 L172.9,630.3 L172.2,630.9 L171.5,631.3 L170.8,631.7 L170.0,632.0 L169.2,632.2 L168.4,632.3 L167.5,632.3 L166.6,632.2" stroke="#fff" stroke-width="2.0" fill="none"/>
<ellipse cx="163.8" cy="612.5" rx="10.9" ry="19.5" transform="rotate(-18 163.8 612.5)" stroke="#111" stroke-width="4.8" fill="none"/>
<ellipse cx="163.8" cy="612.5" rx="10.9" ry="19.5" transform="rotate(-18 163.8 612.5)" stroke="#fff" stroke-width="2.0" fill="none"/>
<path d="M171.5,626.2 L170.8,626.1 L170.1,626.0 L169.4,625.7 L168.7,625.5 L168.0,625.1 L167.4,624.7 L166.7,624.2 L166.0,623.6 L165.3,623.0 L164.7,622.3 L164.0,621.5 L163.4,620.7 L162.8,619.9 L162.3,619.0 L161.7,618.1 L161.2,617.1 L160.8,616.1 L160.4,615.1 L160.0,614.0 L159.6,612.9 L159.3,611.9 L159.1,610.8 L158.8,609.7 L158.7,608.6 L158.5,607.5 L158.5,606.5 L158.5,605.4 L158.5,604.4 L158.6,603.5 L158.7,602.5 L158.8,601.6 L159.1,600.8 L159.3,600.0 L159.6,599.2 L160.0,598.5 L160.4,597.9 L160.8,597.3 L161.3,596.8 L161.8,596.3" stroke="#111" stroke-width="4.0" fill="none"/>
<path d="M171.5,626.2 L170.8,626.1 L170.1,626.0 L169.4,625.7 L168.7,625.5 L168.0,625.1 L167.4,624.7 L166.7,624.2 L166.0,623.6 L165.3,623.0 L164.7,622.3 L164.0,621.5 L163.4,620.7 L162.8,619.9 L162.3,619.0 L161.7,618.1 L161.2,617.1 L160.8,616.1 L160.4,615.1 L160.0,614.0 L159.6,612.9 L159.3,611.9 L159.1,610.8 L158.8,609.7 L158.7,608.6 L158.5,607.5 L158.5,606.5 L158.5,605.4 L158.5,604.4 L158.6,603.5 L158.7,602.5 L158.8,601.6 L159.1,600.8 L159.3,600.0 L159.6,599.2 L160.0,598.5 L160.4,597.9 L160.8,597.3 L161.3,596.8 L161.8,596.3" stroke="#fff" stroke-width="1.6" fill="none"/>
<path d="M121.3,622.2 L121.3,620.9 L121.4,619.7 L121.6,618.5 L121.8,617.4 L122.1,616.3 L122.4,615.2 L122.9,614.2 L123.3,613.2 L123.9,612.4 L124.5,611.5 L125.1,610.8 L125.8,610.1 L126.6,609.5 L127.4,608.9 L128.2,608.5 L129.7,607.7 L130.6,607.3 L131.5,607.0 L132.4,606.8 L133.4,606.6 L134.3,606.6 L135.4,606.6 L136.4,606.7 L137.4,606.9 L138.4,607.2 L139.5,607.6 L140.5,608.0 L141.6,608.6 L142.6,609.2 L143.6,609.8 L144.6,610.6 L145.6,611.4 L146.5,612.3 L147.4,613.2 L148.3,614.2 L149.2,615.3 L150.0,616.4 L150.8,617.5 L151.5,618.7 L152.1,619.9 L152.8,621.2 L153.3,622.5 L153.8,623.8 L154.3,625.1 L154.7,626.4 L155.0,627.7 L155.2,629.0 L155.4,630.4 L155.6,631.7 L155.6,633.0 L155.6,634.2 L155.6,635.5 L155.4,636.7 L155.2,637.9 L155.0,639.0 L154.6,640.1 L154.2,641.1 L153.8,642.1 L153.3,643.0 L152.7,643.9 L152.1,644.7 L151.4,645.4 L150.7,646.0 L149.9,646.6 L149.1,647.1 L147.6,647.9 L146.8,648.3 L145.9,648.7 L145.0,648.9 L144.0,649.1 L143.0,649.2 L142.1,649.2 L141.0,649.1 L140.0,649.0 L139.0,648.7 L137.9,648.4 L136.9,648.0 L135.8,647.5 L134.8,646.9 L133.8,646.3 L132.8,645.6 L131.8,644.8 L130.8,644.0 L129.9,643.1 L129.0,642.1 L128.1,641.1 L127.3,640.0 L126.5,638.9 L125.8,637.7 L125.1,636.5 L124.4,635.3 L123.9,634.0 L123.3,632.7 L122.8,631.4 L122.4,630.1 L122.1,628.7 L121.8,627.4 L121.6,626.1 L121.4,624.8 L121.3,623.5 Z M146.2,624.3 L146.5,625.1 L146.9,625.9 L147.1,626.7 L147.4,627.5 L147.5,628.3 L147.7,629.1 L147.8,629.9 L147.9,630.7 L147.9,631.5 L147.9,632.3 L147.9,633.1 L147.8,633.8 L147.6,634.5 L147.5,635.2 L147.2,635.9 L147.0,636.5 L146.7,637.1 L146.4,637.7 L146.0,638.2 L145.6,638.7 L145.2,639.2 L144.8,639.6 L144.3,639.9 L143.8,640.2 L143.2,640.5 L142.7,640.7 L142.1,640.9 L141.5,641.0 L140.9,641.1 L140.3,641.1 L139.6,641.0 L139.0,640.9 L138.4,640.8 L137.7,640.6 L137.1,640.4 L136.4,640.1 L135.8,639.7 L135.1,639.4 L134.5,638.9 L133.9,638.5 L133.3,637.9 L132.7,637.4 L132.2,636.8 L131.6,636.2 L131.1,635.5 L130.7,634.8 L130.2,634.1 L129.8,633.4 L129.4,632.6 L129.0,631.9 L128.7,631.1 L128.4,630.3 L128.2,629.5 L127.9,628.7 L127.8,627.9 L127.6,627.1 L127.5,626.3 L127.5,625.5 L127.5,624.7 L127.5,623.9 L127.6,623.2 L127.7,622.4 L127.8,621.7 L128.0,621.0 L128.3,620.4 L128.5,619.8 L128.8,619.2 L129.2,618.6 L129.6,618.1 L130.0,617.7 L130.4,617.2 L130.9,616.8 L131.4,616.5 L131.9,616.2 L132.4,616.0 L133.0,615.8 L133.6,615.7 L134.2,615.6 L134.8,615.5 L135.4,615.5 L136.1,615.6 L136.7,615.7 L137.4,615.9 L138.0,616.1 L138.7,616.4 L139.3,616.7 L139.9,617.0 L140.6,617.5 L141.2,617.9 L141.8,618.4 L142.4,618.9 L142.9,619.5 L143.5,620.1 L144.0,620.7 L144.5,621.4 L145.0,622.1 L145.4,622.8 L145.8,623.6 L146.2,624.3 Z" fill="#fff" fill-rule="evenodd" stroke="#111" stroke-width="1.3"/>
<ellipse cx="137.7" cy="628.3" rx="15.0" ry="22.0" transform="rotate(-25 137.7 628.3)" stroke="#111" stroke-width="1.2" fill="none" />
<path d="M136.7,614.9 L137.1,615.0 L137.6,615.0 L138.0,615.1 L138.4,615.2 L138.9,615.4 L139.3,615.5 L139.7,615.7 L140.1,615.9 L140.6,616.1 L141.0,616.4 L141.4,616.6 L141.8,616.9 L142.3,617.2 L142.7,617.5 L143.1,617.9 L143.4,618.2 L143.8,618.6 L144.2,619.0 L144.6,619.4 L144.9,619.8 L145.3,620.2 L145.6,620.7 L145.9,621.1 L146.2,621.6 L146.5,622.1 L146.8,622.6 L147.1,623.1 L147.3,623.6 L147.6,624.1 L147.8,624.6 L148.0,625.1 L148.2,625.7 L148.4,626.2 L148.5,626.7 L148.6,627.3 L148.8,627.8 L148.9,628.4 L149.0,628.9 L149.0,629.4 L149.1,630.0 L149.1,630.5 L149.1,631.0 L149.1,631.6 L149.1,632.1 L149.0,632.6 L149.0,633.1 L148.9,633.6 L148.8,634.0 L148.7,634.5 L148.6,634.9 L148.4,635.4 L148.2,635.8 L148.1,636.2 L147.9,636.6 L147.6,637.0 L147.4,637.4 L147.2,637.7 L146.9,638.0 L146.6,638.3" stroke="#333" stroke-width="0.8" fill="none" stroke-linecap="round"/>
<path d="M101.8,620.5 L102.6,620.2 L103.5,620.0 L104.3,619.8 L105.2,619.7 L106.0,619.7 L106.9,619.7 L107.9,619.8 L108.8,619.9 L109.7,620.2 L110.6,620.4 L111.6,620.8 L112.5,621.2 L113.4,621.7 L114.4,622.2 L115.3,622.8 L116.2,623.4 L117.1,624.1 L118.0,624.8 L118.8,625.6 L119.7,626.5 L120.5,627.4 L121.3,628.3 L122.0,629.3 L122.8,630.3 L123.5,631.3 L124.2,632.4 L124.8,633.5 L125.4,634.6 L126.0,635.8 L126.5,636.9 L127.0,638.1 L127.4,639.3 L127.8,640.5 L128.2,641.8 L128.5,643.0 L128.7,644.2 L129.0,645.4 L129.1,646.6 L129.2,647.9 L129.3,649.0 L129.3,650.2 L129.3,651.4 L129.2,652.5 L129.1,653.6 L128.9,654.7 L128.7,655.7 L128.4,656.7 L128.1,657.7 L127.7,658.6 L127.3,659.5 L126.9,660.4 L126.4,661.1 L125.8,661.9 L125.3,662.6 L124.6,663.2 L124.0,663.8 L123.3,664.3 L122.6,664.8 L121.8,665.2 L121.1,665.5 L120.3,665.8 L119.4,666.0 L118.6,666.2 L117.7,666.3 L116.8,666.3 L116.0,666.3 L115.0,666.2 L114.1,666.0 L113.2,665.8 L112.3,665.5 L111.3,665.2 L110.4,664.7 L109.5,664.3 L108.5,663.7 L107.6,663.2 L106.7,662.5 L105.8,661.8 L104.9,661.1 L104.1,660.3 L103.2,659.4 L102.4,658.5 L101.6,657.6 L100.9,656.6 L100.1,655.6 L99.4,654.6 L98.8,653.5 L98.1,652.4 L97.5,651.2 L97.0,650.1 L96.4,648.9 L96.0,647.7 L95.5,646.5 L95.1,645.3 L94.8,644.1 L94.5,642.9 L94.2,641.6 L94.0,640.4 L93.9,639.2 L93.8,638.0 L93.7,636.8 L93.7,635.6 L93.7,634.5 L93.8,633.4 L93.9,632.3 L94.1,631.2 L94.4,630.2 L94.6,629.2 L95.0,628.2 L95.3,627.3 L95.7,626.4 L96.2,625.5 L96.7,624.8 L97.2,624.0 L97.8,623.3 L98.4,622.7 L99.1,622.1 L99.8,621.6 L100.5,621.2 L101.2,620.8" stroke="#111" stroke-width="4.4" fill="none"/>
<path d="M101.8,620.5 L102.6,620.2 L103.5,620.0 L104.3,619.8 L105.2,619.7 L106.0,619.7 L106.9,619.7 L107.9,619.8 L108.8,619.9 L109.7,620.2 L110.6,620.4 L111.6,620.8 L112.5,621.2 L113.4,621.7 L114.4,622.2 L115.3,622.8 L116.2,623.4 L117.1,624.1 L118.0,624.8 L118.8,625.6 L119.7,626.5 L120.5,627.4 L121.3,628.3 L122.0,629.3 L122.8,630.3 L123.5,631.3 L124.2,632.4 L124.8,633.5 L125.4,634.6 L126.0,635.8 L126.5,636.9 L127.0,638.1 L127.4,639.3 L127.8,640.5 L128.2,641.8 L128.5,643.0 L128.7,644.2 L129.0,645.4 L129.1,646.6 L129.2,647.9 L129.3,649.0 L129.3,650.2 L129.3,651.4 L129.2,652.5 L129.1,653.6 L128.9,654.7 L128.7,655.7 L128.4,656.7 L128.1,657.7 L127.7,658.6 L127.3,659.5 L126.9,660.4 L126.4,661.1 L125.8,661.9 L125.3,662.6 L124.6,663.2 L124.0,663.8 L123.3,664.3 L122.6,664.8 L121.8,665.2 L121.1,665.5 L120.3,665.8 L119.4,666.0 L118.6,666.2 L117.7,666.3 L116.8,666.3 L116.0,666.3 L115.0,666.2 L114.1,666.0 L113.2,665.8 L112.3,665.5 L111.3,665.2 L110.4,664.7 L109.5,664.3 L108.5,663.7 L107.6,663.2 L106.7,662.5 L105.8,661.8 L104.9,661.1 L104.1,660.3 L103.2,659.4 L102.4,658.5 L101.6,657.6 L100.9,656.6 L100.1,655.6 L99.4,654.6 L98.8,653.5 L98.1,652.4 L97.5,651.2 L97.0,650.1 L96.4,648.9 L96.0,647.7 L95.5,646.5 L95.1,645.3 L94.8,644.1 L94.5,642.9 L94.2,641.6 L94.0,640.4 L93.9,639.2 L93.8,638.0 L93.7,636.8 L93.7,635.6 L93.7,634.5 L93.8,633.4 L93.9,632.3 L94.1,631.2 L94.4,630.2 L94.6,629.2 L95.0,628.2 L95.3,627.3 L95.7,626.4 L96.2,625.5 L96.7,624.8 L97.2,624.0 L97.8,623.3 L98.4,622.7 L99.1,622.1 L99.8,621.6 L100.5,621.2 L101.2,620.8" stroke="#fff" stroke-width="1.8" fill="none"/>
<path d="M102.5,625.5 Q105,617 111,618 Q117.5,618 119,623" stroke="#111" stroke-width="1.3" fill="#fff"/>
<ellipse cx="107.5" cy="622.5" rx="1.6" ry="2.0" transform="rotate(-24 107.5 622.5)" stroke="#111" stroke-width="1.1" fill="#fff" />
<ellipse cx="113.5" cy="622.0" rx="1.6" ry="2.0" transform="rotate(-24 113.5 622.0)" stroke="#111" stroke-width="1.1" fill="#fff" />
<path d="M86,657.5 L107,646.5" stroke="#444" stroke-width="0.9" stroke-dasharray="3,2" fill="none"/>
<line x1="200.9" y1="513.5" x2="215.7" y2="559.2" stroke="#111" stroke-width="1.5"/>
<line x1="158.0" y1="539.3" x2="173.4" y2="588.0" stroke="#111" stroke-width="1.5"/>
<line x1="110.6" y1="566.8" x2="128.8" y2="607.3" stroke="#111" stroke-width="1.5"/>
<line x1="128.8" y1="707.6" x2="121.9" y2="667.0" stroke="#111" stroke-width="1.5"/>
<path d="M234.1,535.3 L234.2,532.8 L234.3,530.3 L234.6,527.9 L235.0,525.5 L235.4,523.2 L236.0,521.0 L236.7,518.9 L237.4,516.9 L238.3,514.9 L239.2,513.1 L240.3,511.3 L241.4,509.7 L242.6,508.2 L243.9,506.8 L245.2,505.5 L246.6,504.4 L248.1,503.3 L249.7,502.5 L251.3,501.7 L291.6,485.2 L293.3,484.6 L295.0,484.2 L296.7,483.8 L298.5,483.6 L300.3,483.6 L302.2,483.7 L304.0,483.9 L305.9,484.3 L307.8,484.7 L309.7,485.4 L311.7,486.1 L313.6,487.0 L315.5,488.1 L317.4,489.2 L319.3,490.5 L321.1,491.9 L322.9,493.4 L324.7,495.0 L326.5,496.8 L328.2,498.6 L329.9,500.6 L331.5,502.6 L333.0,504.7 L334.5,506.9 L336.0,509.1 L337.3,511.5 L338.6,513.9 L339.8,516.3 L340.9,518.8 L342.0,521.4 L342.9,523.9 L343.8,526.5 L344.6,529.1 L345.3,531.8 L345.9,534.4 L346.4,537.0 L346.7,539.7 L347.0,542.3 L347.2,544.9 L347.3,547.4 L347.3,549.9 L347.2,552.4 L347.0,554.8 L346.7,557.1 L346.3,559.4 L345.8,561.6 L345.2,563.8 L344.5,565.8 L343.7,567.8 L342.8,569.7 L341.8,571.4 L340.7,573.1 L339.6,574.6 L338.4,576.1 L337.1,577.4 L335.7,578.6 L334.3,579.6 L332.8,580.6 L331.2,581.4 L291.5,599.3 L289.8,600.0 L288.1,600.6 L286.4,601.0 L284.6,601.2 L282.8,601.4 L280.9,601.4 L279.0,601.2 L277.1,600.9 L275.2,600.5 L273.3,599.9 L271.3,599.2 L269.4,598.3 L267.4,597.4 L265.5,596.3 L263.6,595.0 L261.7,593.7 L259.8,592.2 L258.0,590.6 L256.2,588.9 L254.4,587.1 L252.7,585.1 L251.0,583.1 L249.4,581.0 L247.9,578.9 L246.4,576.6 L245.0,574.3 L243.6,571.9 L242.3,569.4 L241.2,566.9 L240.1,564.3 L239.0,561.7 L238.1,559.1 L237.3,556.5 L236.5,553.8 L235.9,551.1 L235.3,548.4 L234.9,545.8 L234.5,543.1 L234.3,540.5 L234.2,537.9 Z" fill="#fff" stroke="#111" stroke-width="1.3"/>
<path d="M260.1,500.2 L295.9,484.0 M262.1,500.0 L297.9,483.7 M268.6,500.2 L304.5,484.0 M270.8,500.7 L306.7,484.4 M277.6,503.3 L313.6,487.1 M279.7,504.4 L315.8,488.2 M289.0,511.6 L325.2,495.5 M291.0,513.6 L327.2,497.5 M298.7,523.5 L335.0,507.6 M300.2,526.1 L336.6,510.2 M306.5,539.5 L342.9,523.8 M307.4,542.4 L343.9,526.7 M310.4,556.7 L346.9,541.2 M310.7,559.6 L347.2,544.1 M310.1,572.9 L346.6,557.6 M309.6,575.4 L346.1,560.2 M306.4,584.6 L342.9,569.5 M305.4,586.6 L341.8,571.5 M300.0,593.1 L336.3,578.1 M298.4,594.3 L334.7,579.3 " stroke="#222" stroke-width="0.8" fill="none"/>
<path d="M234.1,534.3 L234.3,530.1 L234.9,526.1 L235.7,522.3 L236.7,518.7 L238.1,515.3 L239.7,512.3 L241.5,509.5 L243.6,507.1 L245.9,505.0 L248.4,503.2 L251.0,501.8 L255.0,500.2 L257.9,499.2 L260.8,498.6 L263.9,498.4 L267.0,498.6 L270.3,499.2 L273.5,500.2 L276.8,501.5 L280.0,503.2 L283.2,505.3 L286.4,507.8 L289.4,510.5 L292.4,513.6 L295.2,516.9 L297.8,520.5 L300.3,524.3 L302.6,528.3 L304.6,532.5 L306.5,536.8 L308.0,541.2 L309.4,545.6 L310.4,550.1 L311.2,554.6 L311.7,559.0 L311.9,563.4 L311.8,567.6 L311.4,571.7 L310.8,575.6 L309.8,579.3 L308.6,582.8 L307.2,586.0 L305.4,588.9 L303.5,591.6 L301.3,593.8 L298.9,595.8 L296.3,597.3 L293.6,598.5 L289.6,600.1 L286.7,600.9 L283.7,601.3 L280.5,601.3 L277.4,601.0 L274.1,600.2 L270.9,599.0 L267.6,597.5 L264.4,595.6 L261.2,593.3 L258.1,590.7 L255.1,587.8 L252.2,584.6 L249.5,581.1 L246.9,577.4 L244.5,573.5 L242.4,569.4 L240.4,565.2 L238.7,560.8 L237.3,556.4 L236.1,551.9 L235.2,547.5 L234.5,543.0 L234.2,538.6 Z" stroke="#111" stroke-width="1.3" fill="#fff" stroke-linejoin="round"/>
<ellipse cx="271.0" cy="550.7" rx="33.8" ry="52.8" transform="rotate(-21.4 271.0 550.7)" stroke="#111" stroke-width="1.3" fill="#fff" />
<rect x="-7.5" y="-4.5" width="15" height="9" rx="1.5" transform="translate(270.6,598.0) rotate(-157.0)" fill="#fff" stroke="#111" stroke-width="1.2"/>
<rect x="-7.5" y="-4.5" width="15" height="9" rx="1.5" transform="translate(254.3,585.9) rotate(-132.5)" fill="#fff" stroke="#111" stroke-width="1.2"/>
<rect x="-7.5" y="-4.5" width="15" height="9" rx="1.5" transform="translate(238.6,558.5) rotate(-108.2)" fill="#fff" stroke="#111" stroke-width="1.2"/>
<rect x="-7.5" y="-4.5" width="15" height="9" rx="1.5" transform="translate(235.5,527.2) rotate(-81.2)" fill="#fff" stroke="#111" stroke-width="1.2"/>
<ellipse cx="271.0" cy="550.7" rx="33.8" ry="52.8" transform="rotate(-21.4 271.0 550.7)" stroke="#111" stroke-width="1.3" fill="#fff" />
<ellipse cx="271.5" cy="550.7" rx="29.4" ry="46.0" transform="rotate(-21.4 271.5 550.7)" stroke="#111" stroke-width="0.9" fill="none" />
<ellipse cx="292.0" cy="536.0" rx="6.2" ry="3.4" transform="rotate(62.33060641053103 292.0 536.0)" stroke="#111" stroke-width="1.6" fill="#fff" />
<ellipse cx="298.5" cy="560.9" rx="6.2" ry="3.4" transform="rotate(89.07474914281639 298.5 560.9)" stroke="#111" stroke-width="1.6" fill="#fff" />
<ellipse cx="292.7" cy="581.0" rx="6.2" ry="3.4" transform="rotate(129.32083906505468 292.7 581.0)" stroke="#111" stroke-width="1.6" fill="#fff" />
<ellipse cx="277.2" cy="587.0" rx="6.2" ry="3.4" transform="rotate(-171.42632709055394 277.2 587.0)" stroke="#111" stroke-width="1.6" fill="#fff" />
<ellipse cx="259.2" cy="576.0" rx="6.2" ry="3.4" transform="rotate(-131.48474446692163 259.2 576.0)" stroke="#111" stroke-width="1.6" fill="#fff" />
<ellipse cx="247.2" cy="553.1" rx="6.2" ry="3.4" transform="rotate(-104.792141039785 247.2 553.1)" stroke="#111" stroke-width="1.6" fill="#fff" />
<ellipse cx="246.9" cy="529.2" rx="6.2" ry="3.4" transform="rotate(-73.81157529009946 246.9 529.2)" stroke="#111" stroke-width="1.6" fill="#fff" />
<ellipse cx="258.2" cy="515.3" rx="6.2" ry="3.4" transform="rotate(-20.994195439374813 258.2 515.3)" stroke="#111" stroke-width="1.6" fill="#fff" />
<ellipse cx="276.1" cy="518.0" rx="6.2" ry="3.4" transform="rotate(31.52025157943393 276.1 518.0)" stroke="#111" stroke-width="1.6" fill="#fff" />
<ellipse cx="273.0" cy="550.2" rx="19.8" ry="31.0" transform="rotate(-21.4 273.0 550.2)" stroke="#111" stroke-width="1.1" fill="none" />
<clipPath id="c3"><ellipse cx="273.7" cy="551.5" rx="12.9" ry="21.5" transform="rotate(-22 273.7 551.5)"/></clipPath>
<g clip-path="url(#c3)">
<ellipse cx="282.7" cy="547.0" rx="12.9" ry="21.5" transform="rotate(-22 282.7 547.0)" stroke="#111" stroke-width="1.0" fill="none" />
</g>
<ellipse cx="273.7" cy="551.5" rx="12.9" ry="21.5" transform="rotate(-22 273.7 551.5)" stroke="#111" stroke-width="1.5" fill="none" />
<path d="M561.5,369.8 L563.2,330.9 L566.8,312.4 L587.1,296.5 L604.6,293.5 L606.5,293.8 L608.5,294.2 L610.4,294.7 L612.4,295.3 L614.4,296.0 L616.4,296.7 L618.3,297.6 L620.3,298.5 L622.2,299.6 L624.2,300.7 L626.1,301.9 L628.0,303.2 L629.9,304.5 L631.8,305.9 L633.6,307.4 L635.4,309.0 L637.2,310.7 L638.9,312.4 L640.6,314.2 L642.3,316.0 L643.9,317.9 L645.5,319.9 L647.0,321.9 L648.5,323.9 L649.9,326.0 L651.3,328.2 L652.6,330.4 L653.8,332.6 L655.0,334.9 L656.2,337.2 L657.3,339.5 L658.3,341.9 L659.2,344.3 L660.1,346.7 L660.9,349.1 L661.6,351.5 L662.3,353.9 L662.9,356.3 L663.4,358.8 L663.9,361.2 L664.2,363.6 L664.5,366.0 L664.8,368.4 L664.9,370.8 L665.0,373.1 L665.0,375.5 L664.9,377.8 L664.7,380.0 L664.5,382.3 L664.2,384.5 L663.8,386.6 L663.4,388.7 L662.8,390.8 L662.2,392.8 L661.6,394.7 L660.8,396.6 L660.0,398.5 L659.1,400.2 L658.2,401.9 L657.1,403.6 L656.1,405.1 L654.9,406.6 L653.7,408.1 L652.5,409.4 L651.1,410.7 L649.8,411.9 L648.3,413.0 L646.8,414.0 L645.3,414.9 L643.7,415.8 L642.1,416.5 L640.4,417.2 L638.7,417.8 L637.0,418.2 L635.2,418.6 L633.4,418.9 L610.0,421.9 L589.7,416.6 L571.2,398.0 Z" fill="#fff" stroke="#111" stroke-width="1.4" stroke-linejoin="round"/>
<path d="M587.1,296.5 L606.5,297.0 L627.7,309.7 L641.8,334.5 L650.7,368.0 L648.0,380.4 L636.5,401.6 L629.5,412.2 L610.0,421.9 L589.7,416.6 L571.2,398.0 L561.5,369.8 L563.2,330.9 L566.8,312.4 Z" stroke="#111" stroke-width="1.4" fill="#fff" stroke-linejoin="round"/>
<path d="M650.7,368.0 L653.0,385.0 L650.0,400.0 L640.0,412.0 L628.0,417.0" stroke="#333" stroke-width="0.8" fill="none" stroke-linejoin="round"/>
<path d="M648.0,380.4 L650.0,392.0 L645.0,405.0 L633.0,414.0" stroke="#555" stroke-width="0.6" fill="none" stroke-linejoin="round"/>
<ellipse cx="603.0" cy="362.7" rx="15.8" ry="22.0" transform="rotate(-12 603.0 362.7)" stroke="#111" stroke-width="1.4" fill="#fff" />
<clipPath id="c4"><ellipse cx="602.5" cy="362.9" rx="16.2" ry="22.5" transform="rotate(-12 602.5 362.9)"/></clipPath>
<g clip-path="url(#c4)">
<ellipse cx="619.5" cy="353.9" rx="16.2" ry="22.5" transform="rotate(-12 619.5 353.9)" stroke="#111" stroke-width="1.4" fill="none" />
<ellipse cx="607.6" cy="360.2" rx="16.2" ry="22.5" transform="rotate(-12 607.6 360.2)" stroke="#888" stroke-width="0.7" fill="none" />
<ellipse cx="609.6" cy="359.1" rx="16.2" ry="22.5" transform="rotate(-12 609.6 359.1)" stroke="#999" stroke-width="0.7" fill="none" />
</g>
<ellipse cx="602.5" cy="362.9" rx="16.2" ry="22.5" transform="rotate(-12 602.5 362.9)" stroke="#111" stroke-width="1.4" fill="none" />
<path d="M492.2,401.0 L492.2,400.2 L492.3,399.4 L492.4,398.6 L492.7,397.9 L492.9,397.2 L493.3,396.6 L493.6,396.0 L494.1,395.5 L494.6,395.1 L495.1,394.7 L500.2,391.5 L500.8,391.2 L501.4,391.0 L502.0,390.9 L502.7,390.9 L503.4,390.9 L504.1,391.0 L504.8,391.2 L505.6,391.5 L506.3,391.8 L507.0,392.3 L507.7,392.7 L508.4,393.3 L509.1,393.9 L509.7,394.6 L510.3,395.3 L510.9,396.1 L511.4,396.9 L511.9,397.8 L512.3,398.6 L512.7,399.5 L513.0,400.4 L513.3,401.3 L513.5,402.2 L513.6,403.1 L513.7,404.0 L513.7,404.9 L513.7,405.7 L513.6,406.5 L513.4,407.3 L513.1,408.0 L512.8,408.6 L512.5,409.2 L512.1,409.8 L511.6,410.2 L511.1,410.6 L506.0,413.8 L505.4,414.1 L504.8,414.4 L504.2,414.5 L503.5,414.6 L502.9,414.6 L502.2,414.6 L501.4,414.4 L500.7,414.2 L500.0,413.9 L499.3,413.5 L498.5,413.0 L497.8,412.5 L497.2,411.9 L496.5,411.2 L495.9,410.5 L495.3,409.8 L494.7,409.0 L494.2,408.2 L493.8,407.3 L493.4,406.4 L493.0,405.5 L492.7,404.6 L492.5,403.7 L492.3,402.8 L492.2,401.9 Z" stroke="#111" stroke-width="1.2" fill="#fff" stroke-linejoin="round"/>
<ellipse cx="500.4" cy="404.3" rx="7.3" ry="11.0" transform="rotate(-28 500.4 404.3)" stroke="#111" stroke-width="1.2" fill="#fff" />
<ellipse cx="500.4" cy="404.3" rx="5.4" ry="8.2" transform="rotate(-28 500.4 404.3)" stroke="#444" stroke-width="0.7" fill="none" />
<path d="M491.3,405.0 L491.3,404.5 L491.4,404.1 L491.5,403.6 L491.6,403.2 L491.8,402.8 L491.9,402.4 L492.2,402.1 L492.4,401.8 L492.7,401.5 L493.0,401.3 L497.3,398.6 L497.6,398.5 L498.0,398.4 L498.4,398.3 L498.8,398.3 L499.2,398.3 L499.6,398.3 L500.0,398.5 L500.5,398.6 L500.9,398.8 L501.3,399.1 L501.7,399.4 L502.1,399.7 L502.5,400.1 L502.9,400.5 L503.3,400.9 L503.6,401.3 L503.9,401.8 L504.2,402.3 L504.5,402.8 L504.7,403.4 L504.9,403.9 L505.0,404.4 L505.1,405.0 L505.2,405.5 L505.3,406.0 L505.3,406.5 L505.2,407.0 L505.2,407.5 L505.1,408.0 L504.9,408.4 L504.7,408.8 L504.5,409.1 L504.3,409.4 L504.0,409.7 L503.7,409.9 L499.5,412.6 L499.1,412.8 L498.8,412.9 L498.4,413.0 L498.0,413.1 L497.6,413.1 L497.2,413.0 L496.8,412.9 L496.4,412.8 L495.9,412.6 L495.5,412.4 L495.1,412.1 L494.7,411.8 L494.3,411.5 L493.9,411.1 L493.5,410.7 L493.2,410.2 L492.8,409.7 L492.5,409.3 L492.3,408.7 L492.0,408.2 L491.8,407.7 L491.6,407.2 L491.5,406.6 L491.4,406.1 L491.3,405.6 Z" stroke="#111" stroke-width="1.0" fill="#fff" stroke-linejoin="round"/>
<ellipse cx="496.2" cy="407.0" rx="4.3" ry="6.5" transform="rotate(-28 496.2 407.0)" stroke="#111" stroke-width="1.0" fill="#fff" />
<path d="M458.0,424.0 L458.0,423.3 L458.1,422.6 L458.3,422.0 L458.4,421.4 L458.7,420.8 L459.0,420.3 L459.3,419.9 L459.6,419.5 L460.1,419.1 L460.5,418.8 L492.7,398.7 L493.2,398.4 L493.7,398.3 L494.3,398.1 L494.8,398.1 L495.4,398.1 L496.0,398.2 L496.6,398.4 L497.2,398.6 L497.8,398.9 L498.4,399.2 L498.9,399.6 L499.5,400.0 L500.1,400.5 L500.6,401.1 L501.1,401.7 L501.5,402.3 L502.0,402.9 L502.4,403.6 L502.7,404.3 L503.0,405.0 L503.3,405.8 L503.5,406.5 L503.6,407.3 L503.7,408.0 L503.8,408.7 L503.8,409.4 L503.7,410.1 L503.6,410.7 L503.5,411.4 L503.3,411.9 L503.0,412.5 L502.7,413.0 L502.4,413.4 L502.0,413.8 L501.5,414.1 L469.3,434.3 L468.9,434.5 L468.4,434.7 L467.8,434.9 L467.3,434.9 L466.7,435.0 L466.1,434.9 L465.5,434.8 L464.9,434.6 L464.3,434.4 L463.8,434.0 L463.2,433.7 L462.6,433.3 L462.0,432.8 L461.5,432.3 L461.0,431.7 L460.5,431.1 L460.1,430.5 L459.6,429.8 L459.3,429.1 L459.0,428.4 L458.7,427.6 L458.4,426.9 L458.3,426.2 L458.1,425.4 L458.0,424.7 Z" stroke="#111" stroke-width="1.3" fill="#fff" stroke-linejoin="round"/>
<ellipse cx="464.8" cy="426.6" rx="6.1" ry="8.9" transform="rotate(-28 464.8 426.6)" stroke="#111" stroke-width="1.3" fill="#fff" />
<ellipse cx="464.8" cy="426.6" rx="3.6" ry="5.3" transform="rotate(-28 464.8 426.6)" stroke="#111" stroke-width="1.2" fill="none" />
<path d="M509.3,425.6 L509.3,424.8 L509.4,424.0 L509.5,423.2 L509.8,422.5 L510.0,421.8 L510.4,421.2 L510.7,420.6 L511.2,420.1 L511.7,419.7 L512.2,419.3 L517.3,416.1 L517.9,415.8 L518.5,415.6 L519.1,415.5 L519.8,415.5 L520.5,415.5 L521.2,415.6 L521.9,415.8 L522.7,416.1 L523.4,416.4 L524.1,416.9 L524.8,417.3 L525.5,417.9 L526.2,418.5 L526.8,419.2 L527.4,419.9 L528.0,420.7 L528.5,421.5 L529.0,422.4 L529.4,423.2 L529.8,424.1 L530.1,425.0 L530.4,425.9 L530.6,426.8 L530.7,427.7 L530.8,428.6 L530.8,429.5 L530.8,430.3 L530.7,431.1 L530.5,431.9 L530.2,432.6 L529.9,433.2 L529.6,433.8 L529.2,434.4 L528.7,434.8 L528.2,435.2 L523.1,438.4 L522.5,438.7 L521.9,439.0 L521.3,439.1 L520.6,439.2 L520.0,439.2 L519.3,439.2 L518.5,439.0 L517.8,438.8 L517.1,438.5 L516.4,438.1 L515.6,437.6 L514.9,437.1 L514.3,436.5 L513.6,435.8 L513.0,435.1 L512.4,434.4 L511.8,433.6 L511.3,432.8 L510.9,431.9 L510.5,431.0 L510.1,430.1 L509.8,429.2 L509.6,428.3 L509.4,427.4 L509.3,426.5 Z" stroke="#111" stroke-width="1.2" fill="#fff" stroke-linejoin="round"/>
<ellipse cx="517.5" cy="428.9" rx="7.3" ry="11.0" transform="rotate(-28 517.5 428.9)" stroke="#111" stroke-width="1.2" fill="#fff" />
<ellipse cx="517.5" cy="428.9" rx="5.4" ry="8.2" transform="rotate(-28 517.5 428.9)" stroke="#444" stroke-width="0.7" fill="none" />
<path d="M508.4,429.6 L508.4,429.1 L508.5,428.7 L508.6,428.2 L508.7,427.8 L508.9,427.4 L509.0,427.0 L509.3,426.7 L509.5,426.4 L509.8,426.1 L510.1,425.9 L514.4,423.2 L514.7,423.1 L515.1,423.0 L515.5,422.9 L515.9,422.9 L516.3,422.9 L516.7,422.9 L517.1,423.1 L517.6,423.2 L518.0,423.4 L518.4,423.7 L518.8,424.0 L519.2,424.3 L519.6,424.7 L520.0,425.1 L520.4,425.5 L520.7,425.9 L521.0,426.4 L521.3,426.9 L521.6,427.4 L521.8,428.0 L522.0,428.5 L522.1,429.0 L522.2,429.6 L522.3,430.1 L522.4,430.6 L522.4,431.1 L522.3,431.6 L522.3,432.1 L522.2,432.6 L522.0,433.0 L521.8,433.4 L521.6,433.7 L521.4,434.0 L521.1,434.3 L520.8,434.5 L516.6,437.2 L516.2,437.4 L515.9,437.5 L515.5,437.6 L515.1,437.7 L514.7,437.7 L514.3,437.6 L513.9,437.5 L513.5,437.4 L513.0,437.2 L512.6,437.0 L512.2,436.7 L511.8,436.4 L511.4,436.1 L511.0,435.7 L510.6,435.3 L510.3,434.8 L509.9,434.3 L509.6,433.9 L509.4,433.3 L509.1,432.8 L508.9,432.3 L508.7,431.8 L508.6,431.2 L508.5,430.7 L508.4,430.2 Z" stroke="#111" stroke-width="1.0" fill="#fff" stroke-linejoin="round"/>
<ellipse cx="513.3" cy="431.6" rx="4.3" ry="6.5" transform="rotate(-28 513.3 431.6)" stroke="#111" stroke-width="1.0" fill="#fff" />
<path d="M475.1,448.6 L475.1,447.9 L475.2,447.2 L475.4,446.6 L475.5,446.0 L475.8,445.4 L476.1,444.9 L476.4,444.5 L476.7,444.1 L477.2,443.7 L477.6,443.4 L509.8,423.3 L510.3,423.0 L510.8,422.9 L511.4,422.7 L511.9,422.7 L512.5,422.7 L513.1,422.8 L513.7,423.0 L514.3,423.2 L514.9,423.5 L515.5,423.8 L516.0,424.2 L516.6,424.6 L517.2,425.1 L517.7,425.7 L518.2,426.3 L518.6,426.9 L519.1,427.5 L519.5,428.2 L519.8,428.9 L520.1,429.6 L520.4,430.4 L520.6,431.1 L520.7,431.9 L520.8,432.6 L520.9,433.3 L520.9,434.0 L520.8,434.7 L520.7,435.3 L520.6,436.0 L520.4,436.5 L520.1,437.1 L519.8,437.6 L519.5,438.0 L519.1,438.4 L518.6,438.7 L486.4,458.9 L486.0,459.1 L485.5,459.3 L484.9,459.5 L484.4,459.5 L483.8,459.6 L483.2,459.5 L482.6,459.4 L482.0,459.2 L481.4,459.0 L480.9,458.6 L480.3,458.3 L479.7,457.9 L479.1,457.4 L478.6,456.9 L478.1,456.3 L477.6,455.7 L477.2,455.1 L476.7,454.4 L476.4,453.7 L476.1,453.0 L475.8,452.2 L475.5,451.5 L475.4,450.8 L475.2,450.0 L475.1,449.3 Z" stroke="#111" stroke-width="1.3" fill="#fff" stroke-linejoin="round"/>
<ellipse cx="481.9" cy="451.2" rx="6.1" ry="8.9" transform="rotate(-28 481.9 451.2)" stroke="#111" stroke-width="1.3" fill="#fff" />
<ellipse cx="481.9" cy="451.2" rx="3.6" ry="5.3" transform="rotate(-28 481.9 451.2)" stroke="#111" stroke-width="1.2" fill="none" />
<path d="M489.7,378.2 L489.7,377.4 L489.8,376.6 L489.9,375.8 L490.2,375.1 L490.4,374.4 L490.8,373.8 L491.1,373.2 L491.6,372.7 L492.1,372.3 L492.6,371.9 L497.7,368.7 L498.3,368.4 L498.9,368.2 L499.5,368.1 L500.2,368.1 L500.9,368.1 L501.6,368.2 L502.3,368.4 L503.1,368.7 L503.8,369.0 L504.5,369.5 L505.2,369.9 L505.9,370.5 L506.6,371.1 L507.2,371.8 L507.8,372.5 L508.4,373.3 L508.9,374.1 L509.4,375.0 L509.8,375.8 L510.2,376.7 L510.5,377.6 L510.8,378.5 L511.0,379.4 L511.1,380.3 L511.2,381.2 L511.2,382.1 L511.2,382.9 L511.1,383.7 L510.9,384.5 L510.6,385.2 L510.3,385.8 L510.0,386.4 L509.6,387.0 L509.1,387.4 L508.6,387.8 L503.5,391.0 L502.9,391.3 L502.3,391.6 L501.7,391.7 L501.0,391.8 L500.4,391.8 L499.7,391.8 L498.9,391.6 L498.2,391.4 L497.5,391.1 L496.8,390.7 L496.0,390.2 L495.3,389.7 L494.7,389.1 L494.0,388.4 L493.4,387.7 L492.8,387.0 L492.2,386.2 L491.7,385.4 L491.3,384.5 L490.9,383.6 L490.5,382.7 L490.2,381.8 L490.0,380.9 L489.8,380.0 L489.7,379.1 Z" stroke="#111" stroke-width="1.2" fill="#fff" stroke-linejoin="round"/>
<ellipse cx="497.9" cy="381.5" rx="7.3" ry="11.0" transform="rotate(-28 497.9 381.5)" stroke="#111" stroke-width="1.2" fill="#fff" />
<ellipse cx="497.9" cy="381.5" rx="5.4" ry="8.2" transform="rotate(-28 497.9 381.5)" stroke="#444" stroke-width="0.7" fill="none" />
<path d="M488.8,382.2 L488.8,381.7 L488.9,381.3 L489.0,380.8 L489.1,380.4 L489.3,380.0 L489.4,379.6 L489.7,379.3 L489.9,379.0 L490.2,378.7 L490.5,378.5 L494.8,375.8 L495.1,375.7 L495.5,375.6 L495.9,375.5 L496.3,375.5 L496.7,375.5 L497.1,375.5 L497.5,375.7 L498.0,375.8 L498.4,376.0 L498.8,376.3 L499.2,376.6 L499.6,376.9 L500.0,377.3 L500.4,377.7 L500.8,378.1 L501.1,378.5 L501.4,379.0 L501.7,379.5 L502.0,380.0 L502.2,380.6 L502.4,381.1 L502.5,381.6 L502.6,382.2 L502.7,382.7 L502.8,383.2 L502.8,383.7 L502.7,384.2 L502.7,384.7 L502.6,385.2 L502.4,385.6 L502.2,386.0 L502.0,386.3 L501.8,386.6 L501.5,386.9 L501.2,387.1 L497.0,389.8 L496.6,390.0 L496.3,390.1 L495.9,390.2 L495.5,390.3 L495.1,390.3 L494.7,390.2 L494.3,390.1 L493.9,390.0 L493.4,389.8 L493.0,389.6 L492.6,389.3 L492.2,389.0 L491.8,388.7 L491.4,388.3 L491.0,387.9 L490.7,387.4 L490.3,386.9 L490.0,386.5 L489.8,385.9 L489.5,385.4 L489.3,384.9 L489.1,384.4 L489.0,383.8 L488.9,383.3 L488.8,382.8 Z" stroke="#111" stroke-width="1.0" fill="#fff" stroke-linejoin="round"/>
<ellipse cx="493.7" cy="384.2" rx="4.3" ry="6.5" transform="rotate(-28 493.7 384.2)" stroke="#111" stroke-width="1.0" fill="#fff" />
<path d="M455.5,401.2 L455.5,400.5 L455.6,399.8 L455.8,399.2 L455.9,398.6 L456.2,398.0 L456.5,397.5 L456.8,397.1 L457.1,396.7 L457.6,396.3 L458.0,396.0 L490.2,375.9 L490.7,375.6 L491.2,375.5 L491.8,375.3 L492.3,375.3 L492.9,375.3 L493.5,375.4 L494.1,375.6 L494.7,375.8 L495.3,376.1 L495.9,376.4 L496.4,376.8 L497.0,377.2 L497.6,377.7 L498.1,378.3 L498.6,378.9 L499.0,379.5 L499.5,380.1 L499.9,380.8 L500.2,381.5 L500.5,382.2 L500.8,383.0 L501.0,383.7 L501.1,384.5 L501.2,385.2 L501.3,385.9 L501.3,386.6 L501.2,387.3 L501.1,387.9 L501.0,388.6 L500.8,389.1 L500.5,389.7 L500.2,390.2 L499.9,390.6 L499.5,391.0 L499.0,391.3 L466.8,411.5 L466.4,411.7 L465.9,411.9 L465.3,412.1 L464.8,412.1 L464.2,412.2 L463.6,412.1 L463.0,412.0 L462.4,411.8 L461.8,411.6 L461.3,411.2 L460.7,410.9 L460.1,410.5 L459.5,410.0 L459.0,409.5 L458.5,408.9 L458.0,408.3 L457.6,407.7 L457.1,407.0 L456.8,406.3 L456.5,405.6 L456.2,404.8 L455.9,404.1 L455.8,403.4 L455.6,402.6 L455.5,401.9 Z" stroke="#111" stroke-width="1.3" fill="#fff" stroke-linejoin="round"/>
<ellipse cx="462.3" cy="403.8" rx="6.1" ry="8.9" transform="rotate(-28 462.3 403.8)" stroke="#111" stroke-width="1.3" fill="#fff" />
<ellipse cx="462.3" cy="403.8" rx="3.6" ry="5.3" transform="rotate(-28 462.3 403.8)" stroke="#111" stroke-width="1.2" fill="none" />
<path d="M528.8,436.4 L528.8,435.6 L528.9,434.8 L529.0,434.0 L529.3,433.3 L529.5,432.6 L529.9,432.0 L530.2,431.4 L530.7,430.9 L531.2,430.5 L531.7,430.1 L536.8,426.9 L537.4,426.6 L538.0,426.4 L538.6,426.3 L539.3,426.3 L540.0,426.3 L540.7,426.4 L541.4,426.6 L542.2,426.9 L542.9,427.2 L543.6,427.7 L544.3,428.1 L545.0,428.7 L545.7,429.3 L546.3,430.0 L546.9,430.7 L547.5,431.5 L548.0,432.3 L548.5,433.2 L548.9,434.0 L549.3,434.9 L549.6,435.8 L549.9,436.7 L550.1,437.6 L550.2,438.5 L550.3,439.4 L550.3,440.3 L550.3,441.1 L550.2,441.9 L550.0,442.7 L549.7,443.4 L549.4,444.0 L549.1,444.6 L548.7,445.2 L548.2,445.6 L547.7,446.0 L542.6,449.2 L542.0,449.5 L541.4,449.8 L540.8,449.9 L540.1,450.0 L539.5,450.0 L538.8,450.0 L538.0,449.8 L537.3,449.6 L536.6,449.3 L535.9,448.9 L535.1,448.4 L534.4,447.9 L533.8,447.3 L533.1,446.6 L532.5,445.9 L531.9,445.2 L531.3,444.4 L530.8,443.6 L530.4,442.7 L530.0,441.8 L529.6,440.9 L529.3,440.0 L529.1,439.1 L528.9,438.2 L528.8,437.3 Z" stroke="#111" stroke-width="1.2" fill="#fff" stroke-linejoin="round"/>
<ellipse cx="537.0" cy="439.7" rx="7.3" ry="11.0" transform="rotate(-28 537.0 439.7)" stroke="#111" stroke-width="1.2" fill="#fff" />
<ellipse cx="537.0" cy="439.7" rx="5.4" ry="8.2" transform="rotate(-28 537.0 439.7)" stroke="#444" stroke-width="0.7" fill="none" />
<path d="M527.9,440.4 L527.9,439.9 L528.0,439.5 L528.1,439.0 L528.2,438.6 L528.4,438.2 L528.5,437.8 L528.8,437.5 L529.0,437.2 L529.3,436.9 L529.6,436.7 L533.9,434.0 L534.2,433.9 L534.6,433.8 L535.0,433.7 L535.4,433.7 L535.8,433.7 L536.2,433.7 L536.6,433.9 L537.1,434.0 L537.5,434.2 L537.9,434.5 L538.3,434.8 L538.7,435.1 L539.1,435.5 L539.5,435.9 L539.9,436.3 L540.2,436.7 L540.5,437.2 L540.8,437.7 L541.1,438.2 L541.3,438.8 L541.5,439.3 L541.6,439.8 L541.7,440.4 L541.8,440.9 L541.9,441.4 L541.9,441.9 L541.8,442.4 L541.8,442.9 L541.7,443.4 L541.5,443.8 L541.3,444.2 L541.1,444.5 L540.9,444.8 L540.6,445.1 L540.3,445.3 L536.1,448.0 L535.7,448.2 L535.4,448.3 L535.0,448.4 L534.6,448.5 L534.2,448.5 L533.8,448.4 L533.4,448.3 L533.0,448.2 L532.5,448.0 L532.1,447.8 L531.7,447.5 L531.3,447.2 L530.9,446.9 L530.5,446.5 L530.1,446.1 L529.8,445.6 L529.4,445.1 L529.1,444.7 L528.9,444.1 L528.6,443.6 L528.4,443.1 L528.2,442.6 L528.1,442.0 L528.0,441.5 L527.9,441.0 Z" stroke="#111" stroke-width="1.0" fill="#fff" stroke-linejoin="round"/>
<ellipse cx="532.8" cy="442.4" rx="4.3" ry="6.5" transform="rotate(-28 532.8 442.4)" stroke="#111" stroke-width="1.0" fill="#fff" />
<path d="M494.6,459.4 L494.6,458.7 L494.7,458.0 L494.9,457.4 L495.0,456.8 L495.3,456.2 L495.6,455.7 L495.9,455.3 L496.2,454.9 L496.7,454.5 L497.1,454.2 L529.3,434.1 L529.8,433.8 L530.3,433.7 L530.9,433.5 L531.4,433.5 L532.0,433.5 L532.6,433.6 L533.2,433.8 L533.8,434.0 L534.4,434.3 L535.0,434.6 L535.5,435.0 L536.1,435.4 L536.7,435.9 L537.2,436.5 L537.7,437.1 L538.1,437.7 L538.6,438.3 L539.0,439.0 L539.3,439.7 L539.6,440.4 L539.9,441.2 L540.1,441.9 L540.2,442.7 L540.3,443.4 L540.4,444.1 L540.4,444.8 L540.3,445.5 L540.2,446.1 L540.1,446.8 L539.9,447.3 L539.6,447.9 L539.3,448.4 L539.0,448.8 L538.6,449.2 L538.1,449.5 L505.9,469.7 L505.5,469.9 L505.0,470.1 L504.4,470.3 L503.9,470.3 L503.3,470.4 L502.7,470.3 L502.1,470.2 L501.5,470.0 L500.9,469.8 L500.4,469.4 L499.8,469.1 L499.2,468.7 L498.6,468.2 L498.1,467.7 L497.6,467.1 L497.1,466.5 L496.7,465.9 L496.2,465.2 L495.9,464.5 L495.6,463.8 L495.3,463.0 L495.0,462.3 L494.9,461.6 L494.7,460.8 L494.6,460.1 Z" stroke="#111" stroke-width="1.3" fill="#fff" stroke-linejoin="round"/>
<ellipse cx="501.4" cy="462.0" rx="6.1" ry="8.9" transform="rotate(-28 501.4 462.0)" stroke="#111" stroke-width="1.3" fill="#fff" />
<ellipse cx="501.4" cy="462.0" rx="3.6" ry="5.3" transform="rotate(-28 501.4 462.0)" stroke="#111" stroke-width="1.2" fill="none" />
<path d="M500.3,366.0 L500.3,365.2 L500.4,364.4 L500.5,363.6 L500.8,362.9 L501.0,362.2 L501.4,361.6 L501.7,361.0 L502.2,360.5 L502.7,360.1 L503.2,359.7 L508.3,356.5 L508.9,356.2 L509.5,356.0 L510.1,355.9 L510.8,355.9 L511.5,355.9 L512.2,356.0 L512.9,356.2 L513.7,356.5 L514.4,356.8 L515.1,357.3 L515.8,357.7 L516.5,358.3 L517.2,358.9 L517.8,359.6 L518.4,360.3 L519.0,361.1 L519.5,361.9 L520.0,362.8 L520.4,363.6 L520.8,364.5 L521.1,365.4 L521.4,366.3 L521.6,367.2 L521.7,368.1 L521.8,369.0 L521.8,369.9 L521.8,370.7 L521.7,371.5 L521.5,372.3 L521.2,373.0 L520.9,373.6 L520.6,374.2 L520.2,374.8 L519.7,375.2 L519.2,375.6 L514.1,378.8 L513.5,379.1 L512.9,379.4 L512.3,379.5 L511.6,379.6 L511.0,379.6 L510.3,379.6 L509.5,379.4 L508.8,379.2 L508.1,378.9 L507.4,378.5 L506.6,378.0 L505.9,377.5 L505.3,376.9 L504.6,376.2 L504.0,375.5 L503.4,374.8 L502.8,374.0 L502.3,373.2 L501.9,372.3 L501.5,371.4 L501.1,370.5 L500.8,369.6 L500.6,368.7 L500.4,367.8 L500.3,366.9 Z" stroke="#111" stroke-width="1.2" fill="#fff" stroke-linejoin="round"/>
<ellipse cx="508.5" cy="369.3" rx="7.3" ry="11.0" transform="rotate(-28 508.5 369.3)" stroke="#111" stroke-width="1.2" fill="#fff" />
<ellipse cx="508.5" cy="369.3" rx="5.4" ry="8.2" transform="rotate(-28 508.5 369.3)" stroke="#444" stroke-width="0.7" fill="none" />
<path d="M499.4,370.0 L499.4,369.5 L499.5,369.1 L499.6,368.6 L499.7,368.2 L499.9,367.8 L500.0,367.4 L500.3,367.1 L500.5,366.8 L500.8,366.5 L501.1,366.3 L505.4,363.6 L505.7,363.5 L506.1,363.4 L506.5,363.3 L506.9,363.3 L507.3,363.3 L507.7,363.3 L508.1,363.5 L508.6,363.6 L509.0,363.8 L509.4,364.1 L509.8,364.4 L510.2,364.7 L510.6,365.1 L511.0,365.5 L511.4,365.9 L511.7,366.3 L512.0,366.8 L512.3,367.3 L512.6,367.8 L512.8,368.4 L513.0,368.9 L513.1,369.4 L513.2,370.0 L513.3,370.5 L513.4,371.0 L513.4,371.5 L513.3,372.0 L513.3,372.5 L513.2,373.0 L513.0,373.4 L512.8,373.8 L512.6,374.1 L512.4,374.4 L512.1,374.7 L511.8,374.9 L507.6,377.6 L507.2,377.8 L506.9,377.9 L506.5,378.0 L506.1,378.1 L505.7,378.1 L505.3,378.0 L504.9,377.9 L504.5,377.8 L504.0,377.6 L503.6,377.4 L503.2,377.1 L502.8,376.8 L502.4,376.5 L502.0,376.1 L501.6,375.7 L501.3,375.2 L500.9,374.7 L500.6,374.3 L500.4,373.7 L500.1,373.2 L499.9,372.7 L499.7,372.2 L499.6,371.6 L499.5,371.1 L499.4,370.6 Z" stroke="#111" stroke-width="1.0" fill="#fff" stroke-linejoin="round"/>
<ellipse cx="504.3" cy="372.0" rx="4.3" ry="6.5" transform="rotate(-28 504.3 372.0)" stroke="#111" stroke-width="1.0" fill="#fff" />
<path d="M466.1,389.0 L466.1,388.3 L466.2,387.6 L466.4,387.0 L466.5,386.4 L466.8,385.8 L467.1,385.3 L467.4,384.9 L467.7,384.5 L468.2,384.1 L468.6,383.8 L500.8,363.7 L501.3,363.4 L501.8,363.3 L502.4,363.1 L502.9,363.1 L503.5,363.1 L504.1,363.2 L504.7,363.4 L505.3,363.6 L505.9,363.9 L506.5,364.2 L507.0,364.6 L507.6,365.0 L508.2,365.5 L508.7,366.1 L509.2,366.7 L509.6,367.3 L510.1,367.9 L510.5,368.6 L510.8,369.3 L511.1,370.0 L511.4,370.8 L511.6,371.5 L511.7,372.3 L511.8,373.0 L511.9,373.7 L511.9,374.4 L511.8,375.1 L511.7,375.7 L511.6,376.4 L511.4,376.9 L511.1,377.5 L510.8,378.0 L510.5,378.4 L510.1,378.8 L509.6,379.1 L477.4,399.3 L477.0,399.5 L476.5,399.7 L475.9,399.9 L475.4,399.9 L474.8,400.0 L474.2,399.9 L473.6,399.8 L473.0,399.6 L472.4,399.4 L471.9,399.0 L471.3,398.7 L470.7,398.3 L470.1,397.8 L469.6,397.3 L469.1,396.7 L468.6,396.1 L468.2,395.5 L467.7,394.8 L467.4,394.1 L467.1,393.4 L466.8,392.6 L466.5,391.9 L466.4,391.2 L466.2,390.4 L466.1,389.7 Z" stroke="#111" stroke-width="1.3" fill="#fff" stroke-linejoin="round"/>
<ellipse cx="472.9" cy="391.6" rx="6.1" ry="8.9" transform="rotate(-28 472.9 391.6)" stroke="#111" stroke-width="1.3" fill="#fff" />
<ellipse cx="472.9" cy="391.6" rx="3.6" ry="5.3" transform="rotate(-28 472.9 391.6)" stroke="#111" stroke-width="1.2" fill="none" />
<path d="M541.1,430.5 L541.1,429.7 L541.2,428.9 L541.3,428.1 L541.6,427.4 L541.8,426.7 L542.2,426.1 L542.5,425.5 L543.0,425.0 L543.5,424.6 L544.0,424.2 L549.1,421.0 L549.7,420.7 L550.3,420.5 L550.9,420.4 L551.6,420.4 L552.3,420.4 L553.0,420.5 L553.7,420.7 L554.5,421.0 L555.2,421.3 L555.9,421.8 L556.6,422.2 L557.3,422.8 L558.0,423.4 L558.6,424.1 L559.2,424.8 L559.8,425.6 L560.3,426.4 L560.8,427.3 L561.2,428.1 L561.6,429.0 L561.9,429.9 L562.2,430.8 L562.4,431.7 L562.5,432.6 L562.6,433.5 L562.6,434.4 L562.6,435.2 L562.5,436.0 L562.3,436.8 L562.0,437.5 L561.7,438.1 L561.4,438.7 L561.0,439.3 L560.5,439.7 L560.0,440.1 L554.9,443.3 L554.3,443.6 L553.7,443.9 L553.1,444.0 L552.4,444.1 L551.8,444.1 L551.1,444.1 L550.3,443.9 L549.6,443.7 L548.9,443.4 L548.2,443.0 L547.4,442.5 L546.7,442.0 L546.1,441.4 L545.4,440.7 L544.8,440.0 L544.2,439.3 L543.6,438.5 L543.1,437.7 L542.7,436.8 L542.3,435.9 L541.9,435.0 L541.6,434.1 L541.4,433.2 L541.2,432.3 L541.1,431.4 Z" stroke="#111" stroke-width="1.2" fill="#fff" stroke-linejoin="round"/>
<ellipse cx="549.3" cy="433.8" rx="7.3" ry="11.0" transform="rotate(-28 549.3 433.8)" stroke="#111" stroke-width="1.2" fill="#fff" />
<ellipse cx="549.3" cy="433.8" rx="5.4" ry="8.2" transform="rotate(-28 549.3 433.8)" stroke="#444" stroke-width="0.7" fill="none" />
<path d="M540.2,434.5 L540.2,434.0 L540.3,433.6 L540.4,433.1 L540.5,432.7 L540.7,432.3 L540.8,431.9 L541.1,431.6 L541.3,431.3 L541.6,431.0 L541.9,430.8 L546.2,428.1 L546.5,428.0 L546.9,427.9 L547.3,427.8 L547.7,427.8 L548.1,427.8 L548.5,427.8 L548.9,428.0 L549.4,428.1 L549.8,428.3 L550.2,428.6 L550.6,428.9 L551.0,429.2 L551.4,429.6 L551.8,430.0 L552.2,430.4 L552.5,430.8 L552.8,431.3 L553.1,431.8 L553.4,432.3 L553.6,432.9 L553.8,433.4 L553.9,433.9 L554.0,434.5 L554.1,435.0 L554.2,435.5 L554.2,436.0 L554.1,436.5 L554.1,437.0 L554.0,437.5 L553.8,437.9 L553.6,438.3 L553.4,438.6 L553.2,438.9 L552.9,439.2 L552.6,439.4 L548.4,442.1 L548.0,442.3 L547.7,442.4 L547.3,442.5 L546.9,442.6 L546.5,442.6 L546.1,442.5 L545.7,442.4 L545.3,442.3 L544.8,442.1 L544.4,441.9 L544.0,441.6 L543.6,441.3 L543.2,441.0 L542.8,440.6 L542.4,440.2 L542.1,439.7 L541.7,439.2 L541.4,438.8 L541.2,438.2 L540.9,437.7 L540.7,437.2 L540.5,436.7 L540.4,436.1 L540.3,435.6 L540.2,435.1 Z" stroke="#111" stroke-width="1.0" fill="#fff" stroke-linejoin="round"/>
<ellipse cx="545.1" cy="436.5" rx="4.3" ry="6.5" transform="rotate(-28 545.1 436.5)" stroke="#111" stroke-width="1.0" fill="#fff" />
<path d="M506.9,453.5 L506.9,452.8 L507.0,452.1 L507.2,451.5 L507.3,450.9 L507.6,450.3 L507.9,449.8 L508.2,449.4 L508.5,449.0 L509.0,448.6 L509.4,448.3 L541.6,428.2 L542.1,427.9 L542.6,427.8 L543.2,427.6 L543.7,427.6 L544.3,427.6 L544.9,427.7 L545.5,427.9 L546.1,428.1 L546.7,428.4 L547.3,428.7 L547.8,429.1 L548.4,429.5 L549.0,430.0 L549.5,430.6 L550.0,431.2 L550.4,431.8 L550.9,432.4 L551.3,433.1 L551.6,433.8 L551.9,434.5 L552.2,435.3 L552.4,436.0 L552.5,436.8 L552.6,437.5 L552.7,438.2 L552.7,438.9 L552.6,439.6 L552.5,440.2 L552.4,440.9 L552.2,441.4 L551.9,442.0 L551.6,442.5 L551.3,442.9 L550.9,443.3 L550.4,443.6 L518.2,463.8 L517.8,464.0 L517.3,464.2 L516.7,464.4 L516.2,464.4 L515.6,464.5 L515.0,464.4 L514.4,464.3 L513.8,464.1 L513.2,463.9 L512.7,463.5 L512.1,463.2 L511.5,462.8 L510.9,462.3 L510.4,461.8 L509.9,461.2 L509.4,460.6 L509.0,460.0 L508.5,459.3 L508.2,458.6 L507.9,457.9 L507.6,457.1 L507.3,456.4 L507.2,455.7 L507.0,454.9 L506.9,454.2 Z" stroke="#111" stroke-width="1.3" fill="#fff" stroke-linejoin="round"/>
<ellipse cx="513.7" cy="456.1" rx="6.1" ry="8.9" transform="rotate(-28 513.7 456.1)" stroke="#111" stroke-width="1.3" fill="#fff" />
<ellipse cx="513.7" cy="456.1" rx="3.6" ry="5.3" transform="rotate(-28 513.7 456.1)" stroke="#111" stroke-width="1.2" fill="none" />
<path d="M519.1,367.6 L519.1,366.8 L519.2,366.0 L519.3,365.2 L519.6,364.5 L519.8,363.8 L520.2,363.2 L520.5,362.6 L521.0,362.1 L521.5,361.7 L522.0,361.3 L527.1,358.1 L527.7,357.8 L528.3,357.6 L528.9,357.5 L529.6,357.5 L530.3,357.5 L531.0,357.6 L531.7,357.8 L532.5,358.1 L533.2,358.4 L533.9,358.9 L534.6,359.3 L535.3,359.9 L536.0,360.5 L536.6,361.2 L537.2,361.9 L537.8,362.7 L538.3,363.5 L538.8,364.4 L539.2,365.2 L539.6,366.1 L539.9,367.0 L540.2,367.9 L540.4,368.8 L540.5,369.7 L540.6,370.6 L540.6,371.5 L540.6,372.3 L540.5,373.1 L540.3,373.9 L540.0,374.6 L539.7,375.2 L539.4,375.8 L539.0,376.4 L538.5,376.8 L538.0,377.2 L532.9,380.4 L532.3,380.7 L531.7,381.0 L531.1,381.1 L530.4,381.2 L529.8,381.2 L529.1,381.2 L528.3,381.0 L527.6,380.8 L526.9,380.5 L526.2,380.1 L525.4,379.6 L524.7,379.1 L524.1,378.5 L523.4,377.8 L522.8,377.1 L522.2,376.4 L521.6,375.6 L521.1,374.8 L520.7,373.9 L520.3,373.0 L519.9,372.1 L519.6,371.2 L519.4,370.3 L519.2,369.4 L519.1,368.5 Z" stroke="#111" stroke-width="1.2" fill="#fff" stroke-linejoin="round"/>
<ellipse cx="527.3" cy="370.9" rx="7.3" ry="11.0" transform="rotate(-28 527.3 370.9)" stroke="#111" stroke-width="1.2" fill="#fff" />
<ellipse cx="527.3" cy="370.9" rx="5.4" ry="8.2" transform="rotate(-28 527.3 370.9)" stroke="#444" stroke-width="0.7" fill="none" />
<path d="M518.2,371.6 L518.2,371.1 L518.3,370.7 L518.4,370.2 L518.5,369.8 L518.7,369.4 L518.8,369.0 L519.1,368.7 L519.3,368.4 L519.6,368.1 L519.9,367.9 L524.2,365.2 L524.5,365.1 L524.9,365.0 L525.3,364.9 L525.7,364.9 L526.1,364.9 L526.5,364.9 L526.9,365.1 L527.4,365.2 L527.8,365.4 L528.2,365.7 L528.6,366.0 L529.0,366.3 L529.4,366.7 L529.8,367.1 L530.2,367.5 L530.5,367.9 L530.8,368.4 L531.1,368.9 L531.4,369.4 L531.6,370.0 L531.8,370.5 L531.9,371.0 L532.0,371.6 L532.1,372.1 L532.2,372.6 L532.2,373.1 L532.1,373.6 L532.1,374.1 L532.0,374.6 L531.8,375.0 L531.6,375.4 L531.4,375.7 L531.2,376.0 L530.9,376.3 L530.6,376.5 L526.4,379.2 L526.0,379.4 L525.7,379.5 L525.3,379.6 L524.9,379.7 L524.5,379.7 L524.1,379.6 L523.7,379.5 L523.3,379.4 L522.8,379.2 L522.4,379.0 L522.0,378.7 L521.6,378.4 L521.2,378.1 L520.8,377.7 L520.4,377.3 L520.1,376.8 L519.7,376.3 L519.4,375.9 L519.2,375.3 L518.9,374.8 L518.7,374.3 L518.5,373.8 L518.4,373.2 L518.3,372.7 L518.2,372.2 Z" stroke="#111" stroke-width="1.0" fill="#fff" stroke-linejoin="round"/>
<ellipse cx="523.1" cy="373.6" rx="4.3" ry="6.5" transform="rotate(-28 523.1 373.6)" stroke="#111" stroke-width="1.0" fill="#fff" />
<path d="M484.9,390.6 L484.9,389.9 L485.0,389.2 L485.2,388.6 L485.3,388.0 L485.6,387.4 L485.9,386.9 L486.2,386.5 L486.5,386.1 L487.0,385.7 L487.4,385.4 L519.6,365.3 L520.1,365.0 L520.6,364.9 L521.2,364.7 L521.7,364.7 L522.3,364.7 L522.9,364.8 L523.5,365.0 L524.1,365.2 L524.7,365.5 L525.3,365.8 L525.8,366.2 L526.4,366.6 L527.0,367.1 L527.5,367.7 L528.0,368.3 L528.4,368.9 L528.9,369.5 L529.3,370.2 L529.6,370.9 L529.9,371.6 L530.2,372.4 L530.4,373.1 L530.5,373.9 L530.6,374.6 L530.7,375.3 L530.7,376.0 L530.6,376.7 L530.5,377.3 L530.4,378.0 L530.2,378.5 L529.9,379.1 L529.6,379.6 L529.3,380.0 L528.9,380.4 L528.4,380.7 L496.2,400.9 L495.8,401.1 L495.3,401.3 L494.7,401.5 L494.2,401.5 L493.6,401.6 L493.0,401.5 L492.4,401.4 L491.8,401.2 L491.2,401.0 L490.7,400.6 L490.1,400.3 L489.5,399.9 L488.9,399.4 L488.4,398.9 L487.9,398.3 L487.4,397.7 L487.0,397.1 L486.5,396.4 L486.2,395.7 L485.9,395.0 L485.6,394.2 L485.3,393.5 L485.2,392.8 L485.0,392.0 L484.9,391.3 Z" stroke="#111" stroke-width="1.3" fill="#fff" stroke-linejoin="round"/>
<ellipse cx="491.7" cy="393.2" rx="6.1" ry="8.9" transform="rotate(-28 491.7 393.2)" stroke="#111" stroke-width="1.3" fill="#fff" />
<ellipse cx="491.7" cy="393.2" rx="3.6" ry="5.3" transform="rotate(-28 491.7 393.2)" stroke="#111" stroke-width="1.2" fill="none" />
<path d="M548.9,410.4 L548.9,409.6 L549.0,408.8 L549.1,408.0 L549.4,407.3 L549.6,406.6 L550.0,406.0 L550.3,405.4 L550.8,404.9 L551.3,404.5 L551.8,404.1 L556.9,400.9 L557.5,400.6 L558.1,400.4 L558.7,400.3 L559.4,400.3 L560.1,400.3 L560.8,400.4 L561.5,400.6 L562.3,400.9 L563.0,401.2 L563.7,401.7 L564.4,402.1 L565.1,402.7 L565.8,403.3 L566.4,404.0 L567.0,404.7 L567.6,405.5 L568.1,406.3 L568.6,407.2 L569.0,408.0 L569.4,408.9 L569.7,409.8 L570.0,410.7 L570.2,411.6 L570.3,412.5 L570.4,413.4 L570.4,414.3 L570.4,415.1 L570.3,415.9 L570.1,416.7 L569.8,417.4 L569.5,418.0 L569.2,418.6 L568.8,419.2 L568.3,419.6 L567.8,420.0 L562.7,423.2 L562.1,423.5 L561.5,423.8 L560.9,423.9 L560.2,424.0 L559.6,424.0 L558.9,424.0 L558.1,423.8 L557.4,423.6 L556.7,423.3 L556.0,422.9 L555.2,422.4 L554.5,421.9 L553.9,421.3 L553.2,420.6 L552.6,419.9 L552.0,419.2 L551.4,418.4 L550.9,417.6 L550.5,416.7 L550.1,415.8 L549.7,414.9 L549.4,414.0 L549.2,413.1 L549.0,412.2 L548.9,411.3 Z" stroke="#111" stroke-width="1.2" fill="#fff" stroke-linejoin="round"/>
<ellipse cx="557.1" cy="413.7" rx="7.3" ry="11.0" transform="rotate(-28 557.1 413.7)" stroke="#111" stroke-width="1.2" fill="#fff" />
<ellipse cx="557.1" cy="413.7" rx="5.4" ry="8.2" transform="rotate(-28 557.1 413.7)" stroke="#444" stroke-width="0.7" fill="none" />
<path d="M548.0,414.4 L548.0,413.9 L548.1,413.5 L548.2,413.0 L548.3,412.6 L548.5,412.2 L548.6,411.8 L548.9,411.5 L549.1,411.2 L549.4,410.9 L549.7,410.7 L554.0,408.0 L554.3,407.9 L554.7,407.8 L555.1,407.7 L555.5,407.7 L555.9,407.7 L556.3,407.7 L556.7,407.9 L557.2,408.0 L557.6,408.2 L558.0,408.5 L558.4,408.8 L558.8,409.1 L559.2,409.5 L559.6,409.9 L560.0,410.3 L560.3,410.7 L560.6,411.2 L560.9,411.7 L561.2,412.2 L561.4,412.8 L561.6,413.3 L561.7,413.8 L561.8,414.4 L561.9,414.9 L562.0,415.4 L562.0,415.9 L561.9,416.4 L561.9,416.9 L561.8,417.4 L561.6,417.8 L561.4,418.2 L561.2,418.5 L561.0,418.8 L560.7,419.1 L560.4,419.3 L556.2,422.0 L555.8,422.2 L555.5,422.3 L555.1,422.4 L554.7,422.5 L554.3,422.5 L553.9,422.4 L553.5,422.3 L553.1,422.2 L552.6,422.0 L552.2,421.8 L551.8,421.5 L551.4,421.2 L551.0,420.9 L550.6,420.5 L550.2,420.1 L549.9,419.6 L549.5,419.1 L549.2,418.7 L549.0,418.1 L548.7,417.6 L548.5,417.1 L548.3,416.6 L548.2,416.0 L548.1,415.5 L548.0,415.0 Z" stroke="#111" stroke-width="1.0" fill="#fff" stroke-linejoin="round"/>
<ellipse cx="552.9" cy="416.4" rx="4.3" ry="6.5" transform="rotate(-28 552.9 416.4)" stroke="#111" stroke-width="1.0" fill="#fff" />
<path d="M514.7,433.4 L514.7,432.7 L514.8,432.0 L515.0,431.4 L515.1,430.8 L515.4,430.2 L515.7,429.7 L516.0,429.3 L516.3,428.9 L516.8,428.5 L517.2,428.2 L549.4,408.1 L549.9,407.8 L550.4,407.7 L551.0,407.5 L551.5,407.5 L552.1,407.5 L552.7,407.6 L553.3,407.8 L553.9,408.0 L554.5,408.3 L555.1,408.6 L555.6,409.0 L556.2,409.4 L556.8,409.9 L557.3,410.5 L557.8,411.1 L558.2,411.7 L558.7,412.3 L559.1,413.0 L559.4,413.7 L559.7,414.4 L560.0,415.2 L560.2,415.9 L560.3,416.7 L560.4,417.4 L560.5,418.1 L560.5,418.8 L560.4,419.5 L560.3,420.1 L560.2,420.8 L560.0,421.3 L559.7,421.9 L559.4,422.4 L559.1,422.8 L558.7,423.2 L558.2,423.5 L526.0,443.7 L525.6,443.9 L525.1,444.1 L524.5,444.3 L524.0,444.3 L523.4,444.4 L522.8,444.3 L522.2,444.2 L521.6,444.0 L521.0,443.8 L520.5,443.4 L519.9,443.1 L519.3,442.7 L518.7,442.2 L518.2,441.7 L517.7,441.1 L517.2,440.5 L516.8,439.9 L516.3,439.2 L516.0,438.5 L515.7,437.8 L515.4,437.0 L515.1,436.3 L515.0,435.6 L514.8,434.8 L514.7,434.1 Z" stroke="#111" stroke-width="1.3" fill="#fff" stroke-linejoin="round"/>
<ellipse cx="521.5" cy="436.0" rx="6.1" ry="8.9" transform="rotate(-28 521.5 436.0)" stroke="#111" stroke-width="1.3" fill="#fff" />
<ellipse cx="521.5" cy="436.0" rx="3.6" ry="5.3" transform="rotate(-28 521.5 436.0)" stroke="#111" stroke-width="1.2" fill="none" />
<path d="M536.2,386.4 L536.2,385.6 L536.3,384.8 L536.4,384.0 L536.7,383.3 L536.9,382.6 L537.3,382.0 L537.6,381.4 L538.1,380.9 L538.6,380.5 L539.1,380.1 L544.2,376.9 L544.8,376.6 L545.4,376.4 L546.0,376.3 L546.7,376.3 L547.4,376.3 L548.1,376.4 L548.8,376.6 L549.6,376.9 L550.3,377.2 L551.0,377.7 L551.7,378.1 L552.4,378.7 L553.1,379.3 L553.7,380.0 L554.3,380.7 L554.9,381.5 L555.4,382.3 L555.9,383.2 L556.3,384.0 L556.7,384.9 L557.0,385.8 L557.3,386.7 L557.5,387.6 L557.6,388.5 L557.7,389.4 L557.7,390.3 L557.7,391.1 L557.6,391.9 L557.4,392.7 L557.1,393.4 L556.8,394.0 L556.5,394.6 L556.1,395.2 L555.6,395.6 L555.1,396.0 L550.0,399.2 L549.4,399.5 L548.8,399.8 L548.2,399.9 L547.5,400.0 L546.9,400.0 L546.2,400.0 L545.4,399.8 L544.7,399.6 L544.0,399.3 L543.3,398.9 L542.5,398.4 L541.8,397.9 L541.2,397.3 L540.5,396.6 L539.9,395.9 L539.3,395.2 L538.7,394.4 L538.2,393.6 L537.8,392.7 L537.4,391.8 L537.0,390.9 L536.7,390.0 L536.5,389.1 L536.3,388.2 L536.2,387.3 Z" stroke="#111" stroke-width="1.2" fill="#fff" stroke-linejoin="round"/>
<ellipse cx="544.4" cy="389.7" rx="7.3" ry="11.0" transform="rotate(-28 544.4 389.7)" stroke="#111" stroke-width="1.2" fill="#fff" />
<ellipse cx="544.4" cy="389.7" rx="5.4" ry="8.2" transform="rotate(-28 544.4 389.7)" stroke="#444" stroke-width="0.7" fill="none" />
<path d="M535.3,390.4 L535.3,389.9 L535.4,389.5 L535.5,389.0 L535.6,388.6 L535.8,388.2 L535.9,387.8 L536.2,387.5 L536.4,387.2 L536.7,386.9 L537.0,386.7 L541.3,384.0 L541.6,383.9 L542.0,383.8 L542.4,383.7 L542.8,383.7 L543.2,383.7 L543.6,383.7 L544.0,383.9 L544.5,384.0 L544.9,384.2 L545.3,384.5 L545.7,384.8 L546.1,385.1 L546.5,385.5 L546.9,385.9 L547.3,386.3 L547.6,386.7 L547.9,387.2 L548.2,387.7 L548.5,388.2 L548.7,388.8 L548.9,389.3 L549.0,389.8 L549.1,390.4 L549.2,390.9 L549.3,391.4 L549.3,391.9 L549.2,392.4 L549.2,392.9 L549.1,393.4 L548.9,393.8 L548.7,394.2 L548.5,394.5 L548.3,394.8 L548.0,395.1 L547.7,395.3 L543.5,398.0 L543.1,398.2 L542.8,398.3 L542.4,398.4 L542.0,398.5 L541.6,398.5 L541.2,398.4 L540.8,398.3 L540.4,398.2 L539.9,398.0 L539.5,397.8 L539.1,397.5 L538.7,397.2 L538.3,396.9 L537.9,396.5 L537.5,396.1 L537.2,395.6 L536.8,395.1 L536.5,394.7 L536.3,394.1 L536.0,393.6 L535.8,393.1 L535.6,392.6 L535.5,392.0 L535.4,391.5 L535.3,391.0 Z" stroke="#111" stroke-width="1.0" fill="#fff" stroke-linejoin="round"/>
<ellipse cx="540.2" cy="392.4" rx="4.3" ry="6.5" transform="rotate(-28 540.2 392.4)" stroke="#111" stroke-width="1.0" fill="#fff" />
<path d="M502.0,409.4 L502.0,408.7 L502.1,408.0 L502.3,407.4 L502.4,406.8 L502.7,406.2 L503.0,405.7 L503.3,405.3 L503.6,404.9 L504.1,404.5 L504.5,404.2 L536.7,384.1 L537.2,383.8 L537.7,383.7 L538.3,383.5 L538.8,383.5 L539.4,383.5 L540.0,383.6 L540.6,383.8 L541.2,384.0 L541.8,384.3 L542.4,384.6 L542.9,385.0 L543.5,385.4 L544.1,385.9 L544.6,386.5 L545.1,387.1 L545.5,387.7 L546.0,388.3 L546.4,389.0 L546.7,389.7 L547.0,390.4 L547.3,391.2 L547.5,391.9 L547.6,392.7 L547.7,393.4 L547.8,394.1 L547.8,394.8 L547.7,395.5 L547.6,396.1 L547.5,396.8 L547.3,397.3 L547.0,397.9 L546.7,398.4 L546.4,398.8 L546.0,399.2 L545.5,399.5 L513.3,419.7 L512.9,419.9 L512.4,420.1 L511.8,420.3 L511.3,420.3 L510.7,420.4 L510.1,420.3 L509.5,420.2 L508.9,420.0 L508.3,419.8 L507.8,419.4 L507.2,419.1 L506.6,418.7 L506.0,418.2 L505.5,417.7 L505.0,417.1 L504.5,416.5 L504.1,415.9 L503.6,415.2 L503.3,414.5 L503.0,413.8 L502.7,413.0 L502.4,412.3 L502.3,411.6 L502.1,410.8 L502.0,410.1 Z" stroke="#111" stroke-width="1.3" fill="#fff" stroke-linejoin="round"/>
<ellipse cx="508.8" cy="412.0" rx="6.1" ry="8.9" transform="rotate(-28 508.8 412.0)" stroke="#111" stroke-width="1.3" fill="#fff" />
<ellipse cx="508.8" cy="412.0" rx="3.6" ry="5.3" transform="rotate(-28 508.8 412.0)" stroke="#111" stroke-width="1.2" fill="none" />
<path d="M391.2,439.9 L391.5,436.0 L392.0,432.3 L392.9,428.8 L394.0,425.5 L395.4,422.5 L397.1,419.9 L399.0,417.5 L401.2,415.5 L403.6,413.8 L406.6,412.1 L409.3,410.8 L412.1,409.8 L415.0,409.2 L418.1,409.1 L421.4,409.3 L424.7,409.9 L428.0,410.8 L431.5,412.2 L434.9,413.9 L438.3,416.0 L441.7,418.3 L445.0,421.1 L448.2,424.0 L451.3,427.3 L454.2,430.8 L457.0,434.6 L459.6,438.5 L462.0,442.6 L464.2,446.7 L466.1,451.0 L467.7,455.4 L469.1,459.8 L470.2,464.1 L471.0,468.4 L471.6,472.7 L471.8,476.8 L471.7,480.8 L471.3,484.6 L470.6,488.2 L469.6,491.6 L468.3,494.7 L466.8,497.5 L465.0,500.1 L462.9,502.3 L460.6,504.1 L458.1,505.6 L455.1,507.3 L452.4,508.5 L449.5,509.2 L446.4,509.6 L443.3,509.6 L440.0,509.2 L436.6,508.4 L433.2,507.2 L429.8,505.7 L426.4,503.8 L423.0,501.6 L419.7,499.0 L416.4,496.2 L413.2,493.0 L410.2,489.7 L407.3,486.0 L404.6,482.2 L402.2,478.2 L399.9,474.1 L397.8,469.8 L396.0,465.5 L394.5,461.1 L393.3,456.8 L392.3,452.4 L391.7,448.1 L391.3,443.9 Z" stroke="#111" stroke-width="1.3" fill="#fff" stroke-linejoin="round"/>
<ellipse cx="430.0" cy="460.2" rx="33.1" ry="53.4" transform="rotate(-28.8 430.0 460.2)" stroke="#111" stroke-width="1.3" fill="#fff" />
<clipPath id="c5"><ellipse cx="432.7" cy="461.0" rx="12.1" ry="18.0" transform="rotate(-25 432.7 461.0)"/></clipPath>
<g clip-path="url(#c5)">
<ellipse cx="435.7" cy="459.3" rx="12.1" ry="18.0" transform="rotate(-25 435.7 459.3)" stroke="#111" stroke-width="0.8" fill="none" />
</g>
<ellipse cx="432.7" cy="461.0" rx="12.1" ry="18.0" transform="rotate(-25 432.7 461.0)" stroke="#111" stroke-width="1.3" fill="none" />
<ellipse cx="449.5" cy="445.6" rx="5.8" ry="8.5" transform="rotate(-25 449.5 445.6)" stroke="#111" stroke-width="1.2" fill="#fff" />
<ellipse cx="458.1" cy="470.3" rx="5.8" ry="8.5" transform="rotate(-25 458.1 470.3)" stroke="#111" stroke-width="1.2" fill="#fff" />
<ellipse cx="453.6" cy="490.2" rx="5.8" ry="8.5" transform="rotate(-25 453.6 490.2)" stroke="#111" stroke-width="1.2" fill="#fff" />
<ellipse cx="438.1" cy="496.1" rx="5.8" ry="8.5" transform="rotate(-25 438.1 496.1)" stroke="#111" stroke-width="1.2" fill="#fff" />
<ellipse cx="418.7" cy="485.2" rx="5.8" ry="8.5" transform="rotate(-25 418.7 485.2)" stroke="#111" stroke-width="1.2" fill="#fff" />
<ellipse cx="404.7" cy="462.6" rx="5.8" ry="8.5" transform="rotate(-25 404.7 462.6)" stroke="#111" stroke-width="1.2" fill="#fff" />
<ellipse cx="402.5" cy="438.9" rx="5.8" ry="8.5" transform="rotate(-25 402.5 438.9)" stroke="#111" stroke-width="1.2" fill="#fff" />
<ellipse cx="413.1" cy="425.1" rx="5.8" ry="8.5" transform="rotate(-25 413.1 425.1)" stroke="#111" stroke-width="1.2" fill="#fff" />
<ellipse cx="431.7" cy="427.8" rx="5.8" ry="8.5" transform="rotate(-25 431.7 427.8)" stroke="#111" stroke-width="1.2" fill="#fff" />
<path d="M385.2,476.2 L385.2,474.7 L385.4,473.1 L385.6,471.7 L385.9,470.3 L386.4,469.0 L386.9,467.8 L387.5,466.6 L388.3,465.6 L389.1,464.7 L390.0,463.9 L391.0,463.2 L392.0,462.7 L400.0,459.2 L401.1,458.8 L402.2,458.5 L403.4,458.4 L404.6,458.4 L405.8,458.6 L407.1,458.9 L408.3,459.3 L409.6,459.9 L410.8,460.6 L412.0,461.4 L413.1,462.4 L414.3,463.4 L415.3,464.6 L416.3,465.8 L417.2,467.2 L418.1,468.6 L418.8,470.0 L419.5,471.6 L420.1,473.1 L420.6,474.7 L420.9,476.3 L421.2,477.9 L421.3,479.5 L421.4,481.1 L421.3,482.6 L421.1,484.1 L420.9,485.5 L420.5,486.9 L420.0,488.1 L419.4,489.3 L418.7,490.4 L417.9,491.4 L417.1,492.2 L416.1,493.0 L415.1,493.6 L414.1,494.0 L406.1,497.5 L405.0,497.9 L403.8,498.1 L402.6,498.1 L401.4,498.0 L400.1,497.8 L398.9,497.4 L397.6,496.9 L396.4,496.3 L395.2,495.5 L394.0,494.6 L392.9,493.6 L391.8,492.5 L390.8,491.3 L389.8,490.0 L388.9,488.6 L388.1,487.2 L387.4,485.7 L386.8,484.2 L386.3,482.6 L385.9,481.0 L385.5,479.4 L385.3,477.8 Z" stroke="#111" stroke-width="1.4" fill="#fff" stroke-linejoin="round"/>
<ellipse cx="399.3" cy="480.0" rx="13.2" ry="18.8" transform="rotate(-22 399.3 480.0)" stroke="#111" stroke-width="1.4" fill="#fff" />
<ellipse cx="399.3" cy="480.0" rx="10.2" ry="15.0" transform="rotate(-22 399.3 480.0)" stroke="#111" stroke-width="1.0" fill="none" />
<clipPath id="c6"><ellipse cx="400.3" cy="479.5" rx="8.2" ry="12.5" transform="rotate(-22 400.3 479.5)"/></clipPath>
<g clip-path="url(#c6)">
<ellipse cx="407.3" cy="476.0" rx="8.2" ry="12.5" transform="rotate(-22 407.3 476.0)" stroke="#111" stroke-width="1.0" fill="none" />
<path d="M405.0,491.1 L412.0,487.6 M403.8,491.4 L410.8,487.9 M402.5,491.5 L409.5,488.0 M401.2,491.3 L408.2,487.8 M399.9,490.8 L406.9,487.3 M398.5,490.1 L405.5,486.6 M397.2,489.1 L404.2,485.6 M396.0,488.0 L403.0,484.5 M394.9,486.6 L401.9,483.1 M393.9,485.1 L400.9,481.6 M393.0,483.4 L400.0,479.9 M392.3,481.7 L399.3,478.2 M391.8,479.9 L398.8,476.4 M391.5,478.1 L398.5,474.6 M391.3,476.4 L398.3,472.9 M391.4,474.7 L398.4,471.2 M391.7,473.1 L398.7,469.6 M392.1,471.7 L399.1,468.2 M392.8,470.4 L399.8,466.9 M393.6,469.3 L400.6,465.8 M394.5,468.5 L401.5,465.0 M395.6,467.9 L402.6,464.4 " stroke="#333" stroke-width="0.9" fill="none"/>
</g>
<ellipse cx="400.3" cy="479.5" rx="8.2" ry="12.5" transform="rotate(-22 400.3 479.5)" stroke="#111" stroke-width="1.2" fill="none" />
<line x1="338.6" y1="488.5" x2="359" y2="481.2" stroke="#111" stroke-width="4.0" stroke-linecap="round"/>
<line x1="338.6" y1="488.5" x2="359" y2="481.2" stroke="#fff" stroke-width="1.2" stroke-linecap="round"/>
<line x1="363" y1="503.6" x2="383.5" y2="493.4" stroke="#111" stroke-width="4.0" stroke-linecap="round"/>
<line x1="363" y1="503.6" x2="383.5" y2="493.4" stroke="#fff" stroke-width="1.2" stroke-linecap="round"/>
<line x1="350.8" y1="521.9" x2="371.2" y2="511.7" stroke="#111" stroke-width="4.0" stroke-linecap="round"/>
<line x1="350.8" y1="521.9" x2="371.2" y2="511.7" stroke="#fff" stroke-width="1.2" stroke-linecap="round"/>
<line x1="364.5" y1="387.0" x2="398.5" y2="416.5" stroke="#111" stroke-width="1.5"/>
<line x1="400.5" y1="541.5" x2="404.0" y2="498.5" stroke="#111" stroke-width="1.5"/>
<path d="M492.0,78.1 L493.4,81.3 L494.8,84.6 L496.0,88.0 L497.2,91.4 L498.2,94.7 L499.1,98.1 L499.9,101.5 L500.5,104.8 L501.0,108.2 L501.4,111.5 L501.7,114.7 L501.8,117.9 L501.8,121.0 L501.7,124.1 L501.4,127.1 L501.0,129.9 L500.5,132.7 L499.9,135.4 L499.1,138.0 L498.2,140.5 L497.2,142.8 L496.1,145.0 L494.8,147.0 L493.5,149.0 L492.0,150.7 L490.5,152.3 L488.8,153.8 L487.0,155.1 L485.2,156.2 L483.2,157.2 L481.2,157.9 L479.2,158.5 L477.0,159.0 L474.8,159.2 L472.5,159.3 L470.2,159.2 L467.8,158.9 L465.5,158.4 L463.0,157.8 L460.6,157.0 L458.1,156.0 L455.6,154.9 L453.2,153.6 L450.7,152.1 L448.3,150.4 L445.8,148.6 L443.4,146.7 L441.0,144.6 L438.7,142.4 L436.4,140.1 L434.2,137.6 L432.0,135.0 L429.8,132.3 L427.8,129.5 L425.8,126.6 L423.9,123.6 L422.1,120.5 L420.4,117.4 L418.8,114.2 L417.3,110.9 L415.9,107.6 L414.6,104.3 L413.4,100.9 L412.3,97.6 L411.3,94.2 L410.5,90.8 L409.8,87.4 L409.2,84.1 L408.8,80.8 L408.4,77.5 L408.2,74.3 L408.2,71.1 L408.2,68.0 L408.4,65.0 L408.7,62.1 L409.2,59.3 L409.8,56.5 L410.5,53.9 L411.3,51.4 L412.3,49.0 L413.3,46.7 L414.5,44.6 L415.8,42.6 L417.2,40.7 L418.8,39.1 L420.4,37.5 L422.1,36.1 L423.9,34.9 L425.8,33.9 L427.7,33.0 L429.8,32.3 L431.9,31.8 L434.1,31.5 L436.3,31.3 L438.6,31.3 L441.0,31.5 L443.3,31.9 L445.8,32.4 L448.2,33.2 L450.6,34.1 L453.1,35.1 L455.6,36.4 L458.1,37.8 L460.5,39.3 L463.0,41.0 L465.4,42.9 L467.8,44.9 L470.1,47.1 L472.5,49.4 L474.7,51.8 L476.9,54.3 L479.1,57.0 L481.2,59.7 L483.2,62.6 L485.1,65.5 L487.0,68.6 L488.7,71.7 L490.4,74.8 L492.0,78.1 Z M485.2,81.2 L485.4,82.2 L485.5,83.2 L485.6,84.2 L485.6,85.2 L485.5,86.1 L485.5,87.1 L485.4,88.0 L485.3,89.0 L485.2,89.9 L485.1,90.7 L485.1,91.6 L485.1,92.4 L485.2,93.2 L485.3,94.0 L485.5,94.8 L485.7,95.6 L486.0,96.4 L486.4,97.2 L486.9,98.0 L487.4,98.8 L487.9,99.7 L488.5,100.6 L489.1,101.5 L489.7,102.4 L490.3,103.4 L490.9,104.3 L491.5,105.3 L492.0,106.3 L492.4,107.3 L492.8,108.2 L493.1,109.2 L493.3,110.1 L493.4,111.0 L493.4,111.9 L493.4,112.7 L493.2,113.5 L493.0,114.2 L492.6,114.9 L492.2,115.5 L491.8,116.1 L491.3,116.6 L490.8,117.1 L490.3,117.5 L489.7,118.0 L489.2,118.4 L488.7,118.9 L488.3,119.3 L487.9,119.8 L487.6,120.3 L487.4,120.8 L487.2,121.4 L487.1,122.1 L487.0,122.8 L487.1,123.6 L487.2,124.5 L487.3,125.4 L487.5,126.3 L487.7,127.4 L487.9,128.4 L488.1,129.5 L488.3,130.5 L488.5,131.6 L488.6,132.6 L488.7,133.6 L488.7,134.6 L488.7,135.5 L488.5,136.3 L488.3,137.0 L488.0,137.6 L487.6,138.1 L487.2,138.5 L486.6,138.8 L486.0,139.0 L485.4,139.1 L484.7,139.1 L484.0,139.0 L483.2,138.9 L482.4,138.7 L481.7,138.5 L480.9,138.3 L480.2,138.1 L479.5,138.0 L478.8,137.9 L478.2,137.8 L477.6,137.8 L477.1,137.9 L476.6,138.1 L476.2,138.4 L475.8,138.8 L475.5,139.2 L475.2,139.8 L474.9,140.4 L474.6,141.1 L474.4,141.9 L474.1,142.7 L473.9,143.5 L473.6,144.2 L473.3,145.0 L472.9,145.7 L472.5,146.3 L472.1,146.9 L471.6,147.3 L471.1,147.7 L470.6,147.9 L470.0,148.0 L469.3,148.0 L468.7,147.8 L468.0,147.5 L467.3,147.1 L466.5,146.6 L465.8,146.0 L465.1,145.3 L464.3,144.6 L463.6,143.8 L462.9,143.0 L462.2,142.3 L461.5,141.5 L460.8,140.8 L460.2,140.2 L459.6,139.6 L459.0,139.1 L458.4,138.7 L457.8,138.4 L457.2,138.2 L456.7,138.1 L456.1,138.1 L455.5,138.1 L454.9,138.3 L454.3,138.4 L453.7,138.6 L453.1,138.8 L452.4,139.1 L451.8,139.3 L451.1,139.4 L450.4,139.5 L449.7,139.6 L449.0,139.5 L448.3,139.3 L447.6,139.1 L446.9,138.7 L446.2,138.3 L445.6,137.7 L445.0,137.0 L444.4,136.3 L443.8,135.4 L443.3,134.5 L442.8,133.5 L442.3,132.5 L441.9,131.4 L441.5,130.3 L441.1,129.3 L440.7,128.2 L440.3,127.2 L440.0,126.2 L439.6,125.3 L439.2,124.5 L438.8,123.7 L438.4,122.9 L437.9,122.3 L437.4,121.6 L436.8,121.1 L436.3,120.6 L435.6,120.1 L434.9,119.7 L434.2,119.2 L433.5,118.8 L432.7,118.4 L432.0,118.0 L431.2,117.5 L430.4,117.0 L429.6,116.4 L428.9,115.9 L428.1,115.2 L427.5,114.5 L426.9,113.8 L426.3,113.0 L425.8,112.1 L425.4,111.2 L425.1,110.3 L424.8,109.4 L424.6,108.4 L424.5,107.4 L424.4,106.4 L424.4,105.4 L424.5,104.5 L424.5,103.5 L424.6,102.6 L424.7,101.6 L424.8,100.7 L424.9,99.9 L424.9,99.0 L424.9,98.2 L424.8,97.4 L424.7,96.6 L424.5,95.8 L424.3,95.0 L424.0,94.2 L423.6,93.4 L423.1,92.6 L422.6,91.8 L422.1,90.9 L421.5,90.0 L420.9,89.1 L420.3,88.2 L419.7,87.2 L419.1,86.3 L418.5,85.3 L418.0,84.3 L417.6,83.3 L417.2,82.4 L416.9,81.4 L416.7,80.5 L416.6,79.6 L416.6,78.7 L416.6,77.9 L416.8,77.1 L417.0,76.4 L417.4,75.7 L417.8,75.1 L418.2,74.5 L418.7,74.0 L419.2,73.5 L419.7,73.1 L420.3,72.6 L420.8,72.2 L421.3,71.7 L421.7,71.3 L422.1,70.8 L422.4,70.3 L422.6,69.8 L422.8,69.2 L422.9,68.5 L423.0,67.8 L422.9,67.0 L422.8,66.1 L422.7,65.2 L422.5,64.3 L422.3,63.2 L422.1,62.2 L421.9,61.1 L421.7,60.1 L421.5,59.0 L421.4,58.0 L421.3,57.0 L421.3,56.0 L421.3,55.1 L421.5,54.3 L421.7,53.6 L422.0,53.0 L422.4,52.5 L422.8,52.1 L423.4,51.8 L424.0,51.6 L424.6,51.5 L425.3,51.5 L426.0,51.6 L426.8,51.7 L427.6,51.9 L428.3,52.1 L429.1,52.3 L429.8,52.5 L430.5,52.6 L431.2,52.7 L431.8,52.8 L432.4,52.8 L432.9,52.7 L433.4,52.5 L433.8,52.2 L434.2,51.8 L434.5,51.4 L434.8,50.8 L435.1,50.2 L435.4,49.5 L435.6,48.7 L435.9,47.9 L436.1,47.1 L436.4,46.4 L436.7,45.6 L437.1,44.9 L437.5,44.3 L437.9,43.7 L438.4,43.3 L438.9,42.9 L439.4,42.7 L440.0,42.6 L440.7,42.6 L441.3,42.8 L442.0,43.1 L442.7,43.5 L443.5,44.0 L444.2,44.6 L444.9,45.3 L445.7,46.0 L446.4,46.8 L447.1,47.6 L447.8,48.3 L448.5,49.1 L449.2,49.8 L449.8,50.4 L450.4,51.0 L451.0,51.5 L451.6,51.9 L452.2,52.2 L452.8,52.4 L453.3,52.5 L453.9,52.5 L454.5,52.5 L455.1,52.3 L455.7,52.2 L456.3,52.0 L456.9,51.8 L457.6,51.5 L458.2,51.3 L458.9,51.2 L459.6,51.1 L460.3,51.0 L461.0,51.1 L461.7,51.3 L462.4,51.5 L463.1,51.9 L463.8,52.3 L464.4,52.9 L465.0,53.6 L465.6,54.3 L466.2,55.2 L466.7,56.1 L467.2,57.1 L467.7,58.1 L468.1,59.2 L468.5,60.3 L468.9,61.3 L469.3,62.4 L469.7,63.4 L470.0,64.4 L470.4,65.3 L470.8,66.1 L471.2,66.9 L471.6,67.7 L472.1,68.3 L472.6,69.0 L473.2,69.5 L473.7,70.0 L474.4,70.5 L475.1,70.9 L475.8,71.4 L476.5,71.8 L477.3,72.2 L478.0,72.6 L478.8,73.1 L479.6,73.6 L480.4,74.2 L481.1,74.7 L481.9,75.4 L482.5,76.1 L483.1,76.8 L483.7,77.6 L484.2,78.5 L484.6,79.4 L484.9,80.3 Z" fill="#fff" fill-rule="evenodd" stroke="#111" stroke-width="1.3"/>
<path d="M489.0,79.8 L490.4,83.0 L491.8,86.3 L493.0,89.7 L494.2,93.1 L495.2,96.4 L496.1,99.8 L496.9,103.2 L497.5,106.5 L498.0,109.9 L498.4,113.2 L498.7,116.4 L498.8,119.6 L498.8,122.7 L498.7,125.8 L498.4,128.8 L498.0,131.6 L497.5,134.4 L496.9,137.1 L496.1,139.7 L495.2,142.2 L494.2,144.5 L493.1,146.7 L491.8,148.7 L490.5,150.7 L489.0,152.4 L487.5,154.0 L485.8,155.5 L484.0,156.8 L482.2,157.9 L480.2,158.9 L478.2,159.6 L476.2,160.2 L474.0,160.7 L471.8,160.9 L469.5,161.0 L467.2,160.9 L464.8,160.6 L462.5,160.1 L460.0,159.5 L457.6,158.7 L455.1,157.7 L452.6,156.6 L450.2,155.3 L447.7,153.8 L445.3,152.1 L442.8,150.3 L440.4,148.4 L438.0,146.3 L435.7,144.1 L433.4,141.8 L431.2,139.3 L429.0,136.7 L426.8,134.0 L424.8,131.2 L422.8,128.3 L420.9,125.3 L419.1,122.2 L417.4,119.1 L415.8,115.9 L414.3,112.6 L412.9,109.3 L411.6,106.0 L410.4,102.6 L409.3,99.3 L408.3,95.9 L407.5,92.5 L406.8,89.1 L406.2,85.8 L405.8,82.5 L405.4,79.2 L405.2,76.0 L405.2,72.8 L405.2,69.7 L405.4,66.7 L405.7,63.8 L406.2,61.0 L406.8,58.2 L407.5,55.6 L408.3,53.1 L409.3,50.7 L410.3,48.4 L411.5,46.3 L412.8,44.3 L414.2,42.4 L415.8,40.8 L417.4,39.2 L419.1,37.8 L420.9,36.6 L422.8,35.6 L424.7,34.7 L426.8,34.0 L428.9,33.5 L431.1,33.2 L433.3,33.0 L435.6,33.0 L438.0,33.2 L440.3,33.6 L442.8,34.1 L445.2,34.9 L447.6,35.8 L450.1,36.8 L452.6,38.1 L455.1,39.5 L457.5,41.0 L460.0,42.7 L462.4,44.6 L464.8,46.6 L467.1,48.8 L469.5,51.1 L471.7,53.5 L473.9,56.0 L476.1,58.7 L478.2,61.4 L480.2,64.3 L482.1,67.2 L484.0,70.3 L485.7,73.4 L487.4,76.5 L489.0,79.8 Z M482.2,82.9 L482.4,83.9 L482.5,84.9 L482.6,85.9 L482.6,86.9 L482.5,87.8 L482.5,88.8 L482.4,89.7 L482.3,90.7 L482.2,91.6 L482.1,92.4 L482.1,93.3 L482.1,94.1 L482.2,94.9 L482.3,95.7 L482.5,96.5 L482.7,97.3 L483.0,98.1 L483.4,98.9 L483.9,99.7 L484.4,100.5 L484.9,101.4 L485.5,102.3 L486.1,103.2 L486.7,104.1 L487.3,105.1 L487.9,106.0 L488.5,107.0 L489.0,108.0 L489.4,109.0 L489.8,109.9 L490.1,110.9 L490.3,111.8 L490.4,112.7 L490.4,113.6 L490.4,114.4 L490.2,115.2 L490.0,115.9 L489.6,116.6 L489.2,117.2 L488.8,117.8 L488.3,118.3 L487.8,118.8 L487.3,119.2 L486.7,119.7 L486.2,120.1 L485.7,120.6 L485.3,121.0 L484.9,121.5 L484.6,122.0 L484.4,122.5 L484.2,123.1 L484.1,123.8 L484.0,124.5 L484.1,125.3 L484.2,126.2 L484.3,127.1 L484.5,128.0 L484.7,129.1 L484.9,130.1 L485.1,131.2 L485.3,132.2 L485.5,133.3 L485.6,134.3 L485.7,135.3 L485.7,136.3 L485.7,137.2 L485.5,138.0 L485.3,138.7 L485.0,139.3 L484.6,139.8 L484.2,140.2 L483.6,140.5 L483.0,140.7 L482.4,140.8 L481.7,140.8 L481.0,140.7 L480.2,140.6 L479.4,140.4 L478.7,140.2 L477.9,140.0 L477.2,139.8 L476.5,139.7 L475.8,139.6 L475.2,139.5 L474.6,139.5 L474.1,139.6 L473.6,139.8 L473.2,140.1 L472.8,140.5 L472.5,140.9 L472.2,141.5 L471.9,142.1 L471.6,142.8 L471.4,143.6 L471.1,144.4 L470.9,145.2 L470.6,145.9 L470.3,146.7 L469.9,147.4 L469.5,148.0 L469.1,148.6 L468.6,149.0 L468.1,149.4 L467.6,149.6 L467.0,149.7 L466.3,149.7 L465.7,149.5 L465.0,149.2 L464.3,148.8 L463.5,148.3 L462.8,147.7 L462.1,147.0 L461.3,146.3 L460.6,145.5 L459.9,144.7 L459.2,144.0 L458.5,143.2 L457.8,142.5 L457.2,141.9 L456.6,141.3 L456.0,140.8 L455.4,140.4 L454.8,140.1 L454.2,139.9 L453.7,139.8 L453.1,139.8 L452.5,139.8 L451.9,140.0 L451.3,140.1 L450.7,140.3 L450.1,140.5 L449.4,140.8 L448.8,141.0 L448.1,141.1 L447.4,141.2 L446.7,141.3 L446.0,141.2 L445.3,141.0 L444.6,140.8 L443.9,140.4 L443.2,140.0 L442.6,139.4 L442.0,138.7 L441.4,138.0 L440.8,137.1 L440.3,136.2 L439.8,135.2 L439.3,134.2 L438.9,133.1 L438.5,132.0 L438.1,131.0 L437.7,129.9 L437.3,128.9 L437.0,127.9 L436.6,127.0 L436.2,126.2 L435.8,125.4 L435.4,124.6 L434.9,124.0 L434.4,123.3 L433.8,122.8 L433.3,122.3 L432.6,121.8 L431.9,121.4 L431.2,120.9 L430.5,120.5 L429.7,120.1 L429.0,119.7 L428.2,119.2 L427.4,118.7 L426.6,118.1 L425.9,117.6 L425.1,116.9 L424.5,116.2 L423.9,115.5 L423.3,114.7 L422.8,113.8 L422.4,112.9 L422.1,112.0 L421.8,111.1 L421.6,110.1 L421.5,109.1 L421.4,108.1 L421.4,107.1 L421.5,106.2 L421.5,105.2 L421.6,104.3 L421.7,103.3 L421.8,102.4 L421.9,101.6 L421.9,100.7 L421.9,99.9 L421.8,99.1 L421.7,98.3 L421.5,97.5 L421.3,96.7 L421.0,95.9 L420.6,95.1 L420.1,94.3 L419.6,93.5 L419.1,92.6 L418.5,91.7 L417.9,90.8 L417.3,89.9 L416.7,88.9 L416.1,88.0 L415.5,87.0 L415.0,86.0 L414.6,85.0 L414.2,84.1 L413.9,83.1 L413.7,82.2 L413.6,81.3 L413.6,80.4 L413.6,79.6 L413.8,78.8 L414.0,78.1 L414.4,77.4 L414.8,76.8 L415.2,76.2 L415.7,75.7 L416.2,75.2 L416.7,74.8 L417.3,74.3 L417.8,73.9 L418.3,73.4 L418.7,73.0 L419.1,72.5 L419.4,72.0 L419.6,71.5 L419.8,70.9 L419.9,70.2 L420.0,69.5 L419.9,68.7 L419.8,67.8 L419.7,66.9 L419.5,66.0 L419.3,64.9 L419.1,63.9 L418.9,62.8 L418.7,61.8 L418.5,60.7 L418.4,59.7 L418.3,58.7 L418.3,57.7 L418.3,56.8 L418.5,56.0 L418.7,55.3 L419.0,54.7 L419.4,54.2 L419.8,53.8 L420.4,53.5 L421.0,53.3 L421.6,53.2 L422.3,53.2 L423.0,53.3 L423.8,53.4 L424.6,53.6 L425.3,53.8 L426.1,54.0 L426.8,54.2 L427.5,54.3 L428.2,54.4 L428.8,54.5 L429.4,54.5 L429.9,54.4 L430.4,54.2 L430.8,53.9 L431.2,53.5 L431.5,53.1 L431.8,52.5 L432.1,51.9 L432.4,51.2 L432.6,50.4 L432.9,49.6 L433.1,48.8 L433.4,48.1 L433.7,47.3 L434.1,46.6 L434.5,46.0 L434.9,45.4 L435.4,45.0 L435.9,44.6 L436.4,44.4 L437.0,44.3 L437.7,44.3 L438.3,44.5 L439.0,44.8 L439.7,45.2 L440.5,45.7 L441.2,46.3 L441.9,47.0 L442.7,47.7 L443.4,48.5 L444.1,49.3 L444.8,50.0 L445.5,50.8 L446.2,51.5 L446.8,52.1 L447.4,52.7 L448.0,53.2 L448.6,53.6 L449.2,53.9 L449.8,54.1 L450.3,54.2 L450.9,54.2 L451.5,54.2 L452.1,54.0 L452.7,53.9 L453.3,53.7 L453.9,53.5 L454.6,53.2 L455.2,53.0 L455.9,52.9 L456.6,52.8 L457.3,52.7 L458.0,52.8 L458.7,53.0 L459.4,53.2 L460.1,53.6 L460.8,54.0 L461.4,54.6 L462.0,55.3 L462.6,56.0 L463.2,56.9 L463.7,57.8 L464.2,58.8 L464.7,59.8 L465.1,60.9 L465.5,62.0 L465.9,63.0 L466.3,64.1 L466.7,65.1 L467.0,66.1 L467.4,67.0 L467.8,67.8 L468.2,68.6 L468.6,69.4 L469.1,70.0 L469.6,70.7 L470.2,71.2 L470.7,71.7 L471.4,72.2 L472.1,72.6 L472.8,73.1 L473.5,73.5 L474.3,73.9 L475.0,74.3 L475.8,74.8 L476.6,75.3 L477.4,75.9 L478.1,76.4 L478.9,77.1 L479.5,77.8 L480.1,78.5 L480.7,79.3 L481.2,80.2 L481.6,81.1 L481.9,82.0 Z" fill="#fff" fill-rule="evenodd" stroke="#111" stroke-width="1.5"/>
<ellipse cx="452.0" cy="97.0" rx="35.4" ry="59.0" transform="rotate(-25 452.0 97.0)" stroke="#222" stroke-width="1.1" fill="none" />
<path d="M484.1,82.0 L489.0,79.8 M485.9,86.3 L491.1,84.6 M487.6,90.6 L493.0,89.6 M489.0,94.9 L494.7,94.6 M490.2,99.3 L496.0,99.6 M491.2,103.6 L497.2,104.7 M491.9,107.9 L498.0,109.6 M492.4,112.2 L498.5,114.5 M492.6,116.3 L498.8,119.3 M492.6,120.4 L498.8,123.9 M492.3,124.2 L498.5,128.4 M491.8,127.9 L497.9,132.7 M491.0,131.5 L497.0,136.7 M490.0,134.8 L495.8,140.5 M488.8,137.9 L494.4,144.1 M487.3,140.7 L492.7,147.3 M485.6,143.2 L490.8,150.3 M483.7,145.5 L488.6,152.9 M481.6,147.5 L486.2,155.2 M479.4,149.1 L483.6,157.1 M476.9,150.5 L480.7,158.6 M474.3,151.5 L477.7,159.8 M471.6,152.2 L474.6,160.6 M468.8,152.5 L471.3,161.0 M465.8,152.5 L467.9,160.9 M462.8,152.1 L464.4,160.5 M459.7,151.4 L460.8,159.7 M456.5,150.4 L457.2,158.6 M453.3,149.1 L453.5,157.0 M450.1,147.4 L449.8,155.1 M446.9,145.4 L446.2,152.8 M443.8,143.1 L442.5,150.1 M440.7,140.5 L439.0,147.2 M437.7,137.7 L435.5,143.9 M434.7,134.6 L432.1,140.3 M431.9,131.3 L428.8,136.5 M429.2,127.8 L425.7,132.4 M426.6,124.0 L422.8,128.2 M424.2,120.1 L420.0,123.7 M422.0,116.1 L417.4,119.0 M419.9,112.0 L415.0,114.2 M418.1,107.7 L412.9,109.4 M416.4,103.4 L411.0,104.4 M415.0,99.1 L409.3,99.4 M413.8,94.7 L408.0,94.4 M412.8,90.4 L406.8,89.3 M412.1,86.1 L406.0,84.4 M411.6,81.8 L405.5,79.5 M411.4,77.7 L405.2,74.7 M411.4,73.6 L405.2,70.1 M411.7,69.8 L405.5,65.6 M412.2,66.1 L406.1,61.3 M413.0,62.5 L407.0,57.3 M414.0,59.2 L408.2,53.5 M415.2,56.1 L409.6,49.9 M416.7,53.3 L411.3,46.7 M418.4,50.8 L413.2,43.7 M420.3,48.5 L415.4,41.1 M422.4,46.5 L417.8,38.8 M424.6,44.9 L420.4,36.9 M427.1,43.5 L423.3,35.4 M429.7,42.5 L426.3,34.2 M432.4,41.8 L429.4,33.4 M435.2,41.5 L432.7,33.0 M438.2,41.5 L436.1,33.1 M441.2,41.9 L439.6,33.5 M444.3,42.6 L443.2,34.3 M447.5,43.6 L446.8,35.4 M450.7,44.9 L450.5,37.0 M453.9,46.6 L454.2,38.9 M457.1,48.6 L457.8,41.2 M460.2,50.9 L461.5,43.9 M463.3,53.5 L465.0,46.8 M466.3,56.3 L468.5,50.1 M469.3,59.4 L471.9,53.7 M472.1,62.7 L475.2,57.5 M474.8,66.2 L478.3,61.6 M477.4,70.0 L481.2,65.8 M479.8,73.9 L484.0,70.3 M482.0,77.9 L486.6,75.0 " stroke="#555" stroke-width="0.8" fill="none"/>
<path d="M478.1,85.6 L478.6,86.8 L479.0,88.0 L479.3,89.2 L479.6,90.5 L479.8,91.7 L479.9,93.0 L480.0,94.2 L480.1,95.4 L480.2,96.6 L480.3,97.8 L480.5,99.0 L480.7,100.1 L481.1,101.2 L481.5,102.4 L481.9,103.5 L482.5,104.6 L483.1,105.8 L483.7,106.9 L484.4,108.1 L485.0,109.3 L485.6,110.5 L486.2,111.8 L486.7,113.0 L487.1,114.2 L487.5,115.4 L487.7,116.6 L487.8,117.8 L487.8,118.9 L487.6,120.0 L487.5,121.1 L487.2,122.1 L486.9,123.1 L486.6,124.0 L486.3,124.9 L486.0,125.9 L485.7,126.8 L485.6,127.8 L485.5,128.8 L485.4,129.8 L485.5,130.9 L485.7,132.0 L485.9,133.2 L486.1,134.4 L486.4,135.7 L486.7,137.0 L487.0,138.3 L487.2,139.5 L487.4,140.8 L487.5,142.0 L487.5,143.1 L487.4,144.2 L487.2,145.1 L486.9,146.0 L486.5,146.8 L485.9,147.5 L485.4,148.1 L484.7,148.7 L484.1,149.2 L483.4,149.7 L482.7,150.1 L482.1,150.6 L481.5,151.2 L481.0,151.8 L480.6,152.5 L480.3,153.2 L480.0,154.1 L479.8,155.0 L479.6,156.0 L479.5,157.1 L479.4,158.2 L479.2,159.3 L479.1,160.4 L478.9,161.5 L478.6,162.5 L478.3,163.4 L477.9,164.2 L477.4,164.8 L476.8,165.4 L476.1,165.7 L475.4,166.0 L474.6,166.1 L473.7,166.2 L472.8,166.2 L472.0,166.1 L471.1,166.0 L470.2,165.9 L469.4,165.9 L468.6,166.0 L467.9,166.1 L467.2,166.4 L466.6,166.7 L466.0,167.2 L465.4,167.8 L464.9,168.4 L464.4,169.1 L463.9,169.8 L463.4,170.6 L462.8,171.3 L462.3,171.9 L461.6,172.4 L461.0,172.8 L460.2,173.1 L459.4,173.2 L458.6,173.2 L457.7,173.0 L456.8,172.6 L455.9,172.2 L455.0,171.7 L454.0,171.1 L453.1,170.4 L452.2,169.8 L451.3,169.2 L450.4,168.7 L449.5,168.3 L448.7,167.9 L447.9,167.7 L447.1,167.6 L446.3,167.6 L445.5,167.7 L444.8,167.8 L444.0,168.0 L443.2,168.2 L442.4,168.4 L441.5,168.6 L440.7,168.6 L439.8,168.6 L439.0,168.4 L438.1,168.1 L437.2,167.6 L436.3,167.0 L435.4,166.3 L434.6,165.4 L433.7,164.5 L432.9,163.5 L432.1,162.4 L431.3,161.4 L430.6,160.3 L429.8,159.4 L429.0,158.4 L428.2,157.6 L427.5,156.9 L426.6,156.2 L425.8,155.6 L425.0,155.2 L424.1,154.7 L423.2,154.4 L422.3,154.0 L421.3,153.6 L420.4,153.2 L419.5,152.8 L418.5,152.2 L417.6,151.6 L416.8,150.9 L415.9,150.1 L415.1,149.2 L414.4,148.1 L413.8,147.0 L413.1,145.8 L412.6,144.6 L412.0,143.4 L411.5,142.1 L411.0,140.8 L410.6,139.6 L410.1,138.4 L409.5,137.2 L409.0,136.2 L408.4,135.1 L407.7,134.2 L407.0,133.2 L406.2,132.4 L405.4,131.5 L404.6,130.6 L403.7,129.8 L402.8,128.9 L401.9,128.0 L401.1,127.1 L400.3,126.1 L399.5,125.0 L398.9,124.0 L398.3,122.8 L397.8,121.6 L397.4,120.4 L397.1,119.2 L396.8,117.9 L396.6,116.7 L396.5,115.4 L396.4,114.2 L396.3,113.0 L396.2,111.8 L396.1,110.6 L395.9,109.4 L395.7,108.3 L395.3,107.2 L394.9,106.0 L394.5,104.9 L393.9,103.8 L393.3,102.6 L392.7,101.5 L392.0,100.3 L391.4,99.1 L390.8,97.9 L390.2,96.6 L389.7,95.4 L389.3,94.2 L388.9,93.0 L388.7,91.8 L388.6,90.6 L388.6,89.5 L388.8,88.4 L388.9,87.3 L389.2,86.3 L389.5,85.3 L389.8,84.4 L390.1,83.5 L390.4,82.5 L390.7,81.6 L390.8,80.6 L390.9,79.6 L391.0,78.6 L390.9,77.5 L390.7,76.4 L390.5,75.2 L390.3,74.0 L390.0,72.7 L389.7,71.4 L389.4,70.1 L389.2,68.9 L389.0,67.6 L388.9,66.4 L388.9,65.3 L389.0,64.2 L389.2,63.3 L389.5,62.4 L389.9,61.6 L390.5,60.9 L391.0,60.3 L391.7,59.7 L392.3,59.2 L393.0,58.7 L393.7,58.3 L394.3,57.8 L394.9,57.2 L395.4,56.6 L395.8,55.9 L396.1,55.2 L396.4,54.3 L396.6,53.4 L396.8,52.4 L396.9,51.3 L397.0,50.2 L397.2,49.1 L397.3,48.0 L397.5,46.9 L397.8,45.9 L398.1,45.0 L398.5,44.2 L399.0,43.6 L399.6,43.0 L400.3,42.7 L401.0,42.4 L401.8,42.3 L402.7,42.2 L403.6,42.2 L404.4,42.3 L405.3,42.4 L406.2,42.5 L407.0,42.5 L407.8,42.4 L408.5,42.3 L409.2,42.0 L409.8,41.7 L410.4,41.2 L411.0,40.6 L411.5,40.0 L412.0,39.3 L412.5,38.6 L413.0,37.8 L413.6,37.1 L414.1,36.5 L414.8,36.0 L415.4,35.6 L416.2,35.3 L417.0,35.2 L417.8,35.2 L418.7,35.4 L419.6,35.8 L420.5,36.2 L421.4,36.7 L422.4,37.3 L423.3,38.0 L424.2,38.6 L425.1,39.2 L426.0,39.7 L426.9,40.1 L427.7,40.5 L428.5,40.7 L429.3,40.8 L430.1,40.8 L430.9,40.7 L431.6,40.6 L432.4,40.4 L433.2,40.2 L434.0,40.0 L434.9,39.8 L435.7,39.8 L436.6,39.8 L437.4,40.0 L438.3,40.3 L439.2,40.8 L440.1,41.4 L441.0,42.1 L441.8,43.0 L442.7,43.9 L443.5,44.9 L444.3,46.0 L445.1,47.0 L445.8,48.1 L446.6,49.0 L447.4,50.0 L448.2,50.8 L448.9,51.5 L449.8,52.2 L450.6,52.8 L451.4,53.2 L452.3,53.7 L453.2,54.0 L454.1,54.4 L455.1,54.8 L456.0,55.2 L456.9,55.6 L457.9,56.2 L458.8,56.8 L459.6,57.5 L460.5,58.3 L461.3,59.2 L462.0,60.3 L462.6,61.4 L463.3,62.6 L463.8,63.8 L464.4,65.0 L464.9,66.3 L465.4,67.6 L465.8,68.8 L466.3,70.0 L466.9,71.2 L467.4,72.2 L468.0,73.3 L468.7,74.2 L469.4,75.2 L470.2,76.0 L471.0,76.9 L471.8,77.8 L472.7,78.6 L473.6,79.5 L474.5,80.4 L475.3,81.3 L476.1,82.3 L476.9,83.4 L477.5,84.4 Z M473.0,88.0 L474.4,91.1 L475.7,94.2 L476.8,97.3 L477.9,100.5 L478.9,103.7 L479.7,106.8 L480.4,110.0 L481.0,113.2 L481.5,116.3 L481.9,119.4 L482.1,122.5 L482.3,125.5 L482.3,128.4 L482.1,131.3 L481.9,134.1 L481.5,136.8 L481.0,139.4 L480.4,142.0 L479.7,144.4 L478.9,146.7 L477.9,148.9 L476.9,151.0 L475.7,152.9 L474.4,154.7 L473.0,156.4 L471.6,157.9 L470.0,159.2 L468.3,160.5 L466.6,161.5 L464.8,162.4 L462.9,163.1 L460.9,163.7 L458.9,164.1 L456.8,164.4 L454.7,164.4 L452.5,164.3 L450.3,164.1 L448.0,163.6 L445.8,163.0 L443.5,162.3 L441.1,161.4 L438.8,160.3 L436.5,159.0 L434.2,157.6 L431.9,156.1 L429.6,154.4 L427.3,152.6 L425.1,150.6 L422.8,148.5 L420.7,146.3 L418.6,144.0 L416.5,141.5 L414.5,139.0 L412.6,136.4 L410.7,133.6 L409.0,130.8 L407.3,127.9 L405.6,125.0 L404.1,122.0 L402.7,118.9 L401.4,115.8 L400.1,112.7 L399.0,109.5 L398.0,106.3 L397.1,103.1 L396.3,100.0 L395.7,96.8 L395.1,93.7 L394.7,90.5 L394.4,87.5 L394.2,84.4 L394.1,81.5 L394.2,78.5 L394.4,75.7 L394.7,72.9 L395.1,70.3 L395.6,67.7 L396.3,65.2 L397.1,62.8 L398.0,60.6 L399.0,58.5 L400.1,56.5 L401.3,54.6 L402.7,52.9 L404.1,51.3 L405.6,49.8 L407.2,48.5 L408.9,47.4 L410.7,46.4 L412.6,45.6 L414.5,44.9 L416.5,44.5 L418.5,44.1 L420.6,44.0 L422.8,44.0 L425.0,44.2 L427.2,44.5 L429.5,45.0 L431.8,45.7 L434.1,46.6 L436.4,47.6 L438.8,48.7 L441.1,50.0 L443.4,51.5 L445.7,53.1 L448.0,54.9 L450.2,56.8 L452.5,58.8 L454.6,61.0 L456.8,63.2 L458.9,65.6 L460.9,68.1 L462.8,70.7 L464.7,73.4 L466.6,76.2 L468.3,79.0 L470.0,81.9 L471.5,84.9 L473.0,88.0 Z" fill="#fff" fill-rule="evenodd" stroke="#111" stroke-width="1.3"/>
<path d="M474.9,87.4 L475.4,88.6 L475.8,89.8 L476.1,91.0 L476.4,92.3 L476.6,93.5 L476.7,94.8 L476.8,96.0 L476.9,97.2 L477.0,98.4 L477.1,99.6 L477.3,100.8 L477.5,101.9 L477.9,103.0 L478.3,104.2 L478.7,105.3 L479.3,106.4 L479.9,107.6 L480.5,108.7 L481.2,109.9 L481.8,111.1 L482.4,112.3 L483.0,113.6 L483.5,114.8 L483.9,116.0 L484.3,117.2 L484.5,118.4 L484.6,119.6 L484.6,120.7 L484.4,121.8 L484.3,122.9 L484.0,123.9 L483.7,124.9 L483.4,125.8 L483.1,126.7 L482.8,127.7 L482.5,128.6 L482.4,129.6 L482.3,130.6 L482.2,131.6 L482.3,132.7 L482.5,133.8 L482.7,135.0 L482.9,136.2 L483.2,137.5 L483.5,138.8 L483.8,140.1 L484.0,141.3 L484.2,142.6 L484.3,143.8 L484.3,144.9 L484.2,146.0 L484.0,146.9 L483.7,147.8 L483.3,148.6 L482.7,149.3 L482.2,149.9 L481.5,150.5 L480.9,151.0 L480.2,151.5 L479.5,151.9 L478.9,152.4 L478.3,153.0 L477.8,153.6 L477.4,154.3 L477.1,155.0 L476.8,155.9 L476.6,156.8 L476.4,157.8 L476.3,158.9 L476.2,160.0 L476.0,161.1 L475.9,162.2 L475.7,163.3 L475.4,164.3 L475.1,165.2 L474.7,166.0 L474.2,166.6 L473.6,167.2 L472.9,167.5 L472.2,167.8 L471.4,167.9 L470.5,168.0 L469.6,168.0 L468.8,167.9 L467.9,167.8 L467.0,167.7 L466.2,167.7 L465.4,167.8 L464.7,167.9 L464.0,168.2 L463.4,168.5 L462.8,169.0 L462.2,169.6 L461.7,170.2 L461.2,170.9 L460.7,171.6 L460.2,172.4 L459.6,173.1 L459.1,173.7 L458.4,174.2 L457.8,174.6 L457.0,174.9 L456.2,175.0 L455.4,175.0 L454.5,174.8 L453.6,174.4 L452.7,174.0 L451.8,173.5 L450.8,172.9 L449.9,172.2 L449.0,171.6 L448.1,171.0 L447.2,170.5 L446.3,170.1 L445.5,169.7 L444.7,169.5 L443.9,169.4 L443.1,169.4 L442.3,169.5 L441.6,169.6 L440.8,169.8 L440.0,170.0 L439.2,170.2 L438.3,170.4 L437.5,170.4 L436.6,170.4 L435.8,170.2 L434.9,169.9 L434.0,169.4 L433.1,168.8 L432.2,168.1 L431.4,167.2 L430.5,166.3 L429.7,165.3 L428.9,164.2 L428.1,163.2 L427.4,162.1 L426.6,161.2 L425.8,160.2 L425.0,159.4 L424.3,158.7 L423.4,158.0 L422.6,157.4 L421.8,157.0 L420.9,156.5 L420.0,156.2 L419.1,155.8 L418.1,155.4 L417.2,155.0 L416.3,154.6 L415.3,154.0 L414.4,153.4 L413.6,152.7 L412.7,151.9 L411.9,151.0 L411.2,149.9 L410.6,148.8 L409.9,147.6 L409.4,146.4 L408.8,145.2 L408.3,143.9 L407.8,142.6 L407.4,141.4 L406.9,140.2 L406.3,139.0 L405.8,138.0 L405.2,136.9 L404.5,136.0 L403.8,135.0 L403.0,134.2 L402.2,133.3 L401.4,132.4 L400.5,131.6 L399.6,130.7 L398.7,129.8 L397.9,128.9 L397.1,127.9 L396.3,126.8 L395.7,125.8 L395.1,124.6 L394.6,123.4 L394.2,122.2 L393.9,121.0 L393.6,119.7 L393.4,118.5 L393.3,117.2 L393.2,116.0 L393.1,114.8 L393.0,113.6 L392.9,112.4 L392.7,111.2 L392.5,110.1 L392.1,109.0 L391.7,107.8 L391.3,106.7 L390.7,105.6 L390.1,104.4 L389.5,103.3 L388.8,102.1 L388.2,100.9 L387.6,99.7 L387.0,98.4 L386.5,97.2 L386.1,96.0 L385.7,94.8 L385.5,93.6 L385.4,92.4 L385.4,91.3 L385.6,90.2 L385.7,89.1 L386.0,88.1 L386.3,87.1 L386.6,86.2 L386.9,85.3 L387.2,84.3 L387.5,83.4 L387.6,82.4 L387.7,81.4 L387.8,80.4 L387.7,79.3 L387.5,78.2 L387.3,77.0 L387.1,75.8 L386.8,74.5 L386.5,73.2 L386.2,71.9 L386.0,70.7 L385.8,69.4 L385.7,68.2 L385.7,67.1 L385.8,66.0 L386.0,65.1 L386.3,64.2 L386.7,63.4 L387.3,62.7 L387.8,62.1 L388.5,61.5 L389.1,61.0 L389.8,60.5 L390.5,60.1 L391.1,59.6 L391.7,59.0 L392.2,58.4 L392.6,57.7 L392.9,57.0 L393.2,56.1 L393.4,55.2 L393.6,54.2 L393.7,53.1 L393.8,52.0 L394.0,50.9 L394.1,49.8 L394.3,48.7 L394.6,47.7 L394.9,46.8 L395.3,46.0 L395.8,45.4 L396.4,44.8 L397.1,44.5 L397.8,44.2 L398.6,44.1 L399.5,44.0 L400.4,44.0 L401.2,44.1 L402.1,44.2 L403.0,44.3 L403.8,44.3 L404.6,44.2 L405.3,44.1 L406.0,43.8 L406.6,43.5 L407.2,43.0 L407.8,42.4 L408.3,41.8 L408.8,41.1 L409.3,40.4 L409.8,39.6 L410.4,38.9 L410.9,38.3 L411.6,37.8 L412.2,37.4 L413.0,37.1 L413.8,37.0 L414.6,37.0 L415.5,37.2 L416.4,37.6 L417.3,38.0 L418.2,38.5 L419.2,39.1 L420.1,39.8 L421.0,40.4 L421.9,41.0 L422.8,41.5 L423.7,41.9 L424.5,42.3 L425.3,42.5 L426.1,42.6 L426.9,42.6 L427.7,42.5 L428.4,42.4 L429.2,42.2 L430.0,42.0 L430.8,41.8 L431.7,41.6 L432.5,41.6 L433.4,41.6 L434.2,41.8 L435.1,42.1 L436.0,42.6 L436.9,43.2 L437.8,43.9 L438.6,44.8 L439.5,45.7 L440.3,46.7 L441.1,47.8 L441.9,48.8 L442.6,49.9 L443.4,50.8 L444.2,51.8 L445.0,52.6 L445.7,53.3 L446.6,54.0 L447.4,54.6 L448.2,55.0 L449.1,55.5 L450.0,55.8 L450.9,56.2 L451.9,56.6 L452.8,57.0 L453.7,57.4 L454.7,58.0 L455.6,58.6 L456.4,59.3 L457.3,60.1 L458.1,61.0 L458.8,62.1 L459.4,63.2 L460.1,64.4 L460.6,65.6 L461.2,66.8 L461.7,68.1 L462.2,69.4 L462.6,70.6 L463.1,71.8 L463.7,73.0 L464.2,74.0 L464.8,75.1 L465.5,76.0 L466.2,77.0 L467.0,77.8 L467.8,78.7 L468.6,79.6 L469.5,80.4 L470.4,81.3 L471.3,82.2 L472.1,83.1 L472.9,84.1 L473.7,85.2 L474.3,86.2 Z M469.8,89.8 L471.2,92.9 L472.5,96.0 L473.6,99.1 L474.7,102.3 L475.7,105.5 L476.5,108.6 L477.2,111.8 L477.8,115.0 L478.3,118.1 L478.7,121.2 L478.9,124.3 L479.1,127.3 L479.1,130.2 L478.9,133.1 L478.7,135.9 L478.3,138.6 L477.8,141.2 L477.2,143.8 L476.5,146.2 L475.7,148.5 L474.7,150.7 L473.7,152.8 L472.5,154.7 L471.2,156.5 L469.8,158.2 L468.4,159.7 L466.8,161.0 L465.1,162.3 L463.4,163.3 L461.6,164.2 L459.7,164.9 L457.7,165.5 L455.7,165.9 L453.6,166.2 L451.5,166.2 L449.3,166.1 L447.1,165.9 L444.8,165.4 L442.6,164.8 L440.3,164.1 L437.9,163.2 L435.6,162.1 L433.3,160.8 L431.0,159.4 L428.7,157.9 L426.4,156.2 L424.1,154.4 L421.9,152.4 L419.6,150.3 L417.5,148.1 L415.4,145.8 L413.3,143.3 L411.3,140.8 L409.4,138.2 L407.5,135.4 L405.8,132.6 L404.1,129.7 L402.4,126.8 L400.9,123.8 L399.5,120.7 L398.2,117.6 L396.9,114.5 L395.8,111.3 L394.8,108.1 L393.9,104.9 L393.1,101.8 L392.5,98.6 L391.9,95.5 L391.5,92.3 L391.2,89.3 L391.0,86.2 L390.9,83.3 L391.0,80.3 L391.2,77.5 L391.5,74.7 L391.9,72.1 L392.4,69.5 L393.1,67.0 L393.9,64.6 L394.8,62.4 L395.8,60.3 L396.9,58.3 L398.1,56.4 L399.5,54.7 L400.9,53.1 L402.4,51.6 L404.0,50.3 L405.7,49.2 L407.5,48.2 L409.4,47.4 L411.3,46.7 L413.3,46.3 L415.3,45.9 L417.4,45.8 L419.6,45.8 L421.8,46.0 L424.0,46.3 L426.3,46.8 L428.6,47.5 L430.9,48.4 L433.2,49.4 L435.6,50.5 L437.9,51.8 L440.2,53.3 L442.5,54.9 L444.8,56.7 L447.0,58.6 L449.3,60.6 L451.4,62.8 L453.6,65.0 L455.7,67.4 L457.7,69.9 L459.6,72.5 L461.5,75.2 L463.4,78.0 L465.1,80.8 L466.8,83.7 L468.3,86.7 L469.8,89.8 Z" fill="#fff" fill-rule="evenodd" stroke="#111" stroke-width="1.6"/>
<path d="M451.5,58.1 L453.4,59.9 L455.4,61.9 L457.3,64.0 L459.1,66.2 L460.9,68.4 L462.7,70.8 L464.4,73.2 L466.0,75.7 L467.6,78.2 L469.1,80.8 L470.6,83.5 L472.0,86.2 L473.3,89.0 L474.5,91.7 L475.6,94.5 L476.7,97.4 L477.6,100.2 L478.5,103.1 L479.3,105.9 L480.0,108.8 L480.5,111.6 L481.0,114.5 L481.4,117.3 L481.8,120.0 L482.0,122.8 L482.1,125.5 L482.1,128.1 L482.0,130.7 L481.8,133.3 L481.5,135.7 L481.1,138.1 L480.6,140.5 L480.0,142.7 L479.4,144.8 L478.6,146.9 L477.7,148.9 L476.8,150.7 L475.7,152.5 L474.6,154.2 L473.4,155.7 L472.1,157.1 L470.8,158.4 L469.3,159.6 L467.8,160.7 L466.3,161.6 L464.6,162.4 L462.9,163.1 L461.2,163.6 L459.4,164.0 L457.5,164.3 L455.6,164.4 L453.7,164.4 L451.7,164.3 L449.7,164.0 L447.7,163.6 L445.6,163.1 L443.6,162.4 L441.5,161.6 L439.4,160.6" stroke="#222" stroke-width="1.2" fill="none"/>
<path d="M448.0,102.1 L449.4,105.3 L450.8,108.6 L452.0,112.0 L453.2,115.4 L454.2,118.7 L455.1,122.1 L455.9,125.5 L456.5,128.8 L457.0,132.2 L457.4,135.5 L457.7,138.7 L457.8,141.9 L457.8,145.0 L457.7,148.1 L457.4,151.1 L457.0,153.9 L456.5,156.7 L455.9,159.4 L455.1,162.0 L454.2,164.5 L453.2,166.8 L452.1,169.0 L450.8,171.0 L449.5,173.0 L448.0,174.7 L446.5,176.3 L444.8,177.8 L443.0,179.1 L441.2,180.2 L439.2,181.2 L437.2,181.9 L435.2,182.5 L433.0,183.0 L430.8,183.2 L428.5,183.3 L426.2,183.2 L423.8,182.9 L421.5,182.4 L419.0,181.8 L416.6,181.0 L414.1,180.0 L411.6,178.9 L409.2,177.6 L406.7,176.1 L404.3,174.4 L401.8,172.6 L399.4,170.7 L397.0,168.6 L394.7,166.4 L392.4,164.1 L390.2,161.6 L388.0,159.0 L385.8,156.3 L383.8,153.5 L381.8,150.6 L379.9,147.6 L378.1,144.5 L376.4,141.4 L374.8,138.2 L373.3,134.9 L371.9,131.6 L370.6,128.3 L369.4,124.9 L368.3,121.6 L367.3,118.2 L366.5,114.8 L365.8,111.4 L365.2,108.1 L364.8,104.8 L364.4,101.5 L364.2,98.3 L364.2,95.1 L364.2,92.0 L364.4,89.0 L364.7,86.1 L365.2,83.3 L365.8,80.5 L366.5,77.9 L367.3,75.4 L368.3,73.0 L369.3,70.7 L370.5,68.6 L371.8,66.6 L373.2,64.7 L374.8,63.1 L376.4,61.5 L378.1,60.1 L379.9,58.9 L381.8,57.9 L383.7,57.0 L385.8,56.3 L387.9,55.8 L390.1,55.5 L392.3,55.3 L394.6,55.3 L397.0,55.5 L399.3,55.9 L401.8,56.4 L404.2,57.2 L406.6,58.1 L409.1,59.1 L411.6,60.4 L414.1,61.8 L416.5,63.3 L419.0,65.0 L421.4,66.9 L423.8,68.9 L426.1,71.1 L428.5,73.4 L430.7,75.8 L432.9,78.3 L435.1,81.0 L437.2,83.7 L439.2,86.6 L441.1,89.5 L443.0,92.6 L444.7,95.7 L446.4,98.8 L448.0,102.1 Z M441.2,105.2 L441.4,106.2 L441.5,107.2 L441.6,108.2 L441.6,109.2 L441.5,110.1 L441.5,111.1 L441.4,112.0 L441.3,113.0 L441.2,113.9 L441.1,114.7 L441.1,115.6 L441.1,116.4 L441.2,117.2 L441.3,118.0 L441.5,118.8 L441.7,119.6 L442.0,120.4 L442.4,121.2 L442.9,122.0 L443.4,122.8 L443.9,123.7 L444.5,124.6 L445.1,125.5 L445.7,126.4 L446.3,127.4 L446.9,128.3 L447.5,129.3 L448.0,130.3 L448.4,131.3 L448.8,132.2 L449.1,133.2 L449.3,134.1 L449.4,135.0 L449.4,135.9 L449.4,136.7 L449.2,137.5 L449.0,138.2 L448.6,138.9 L448.2,139.5 L447.8,140.1 L447.3,140.6 L446.8,141.1 L446.3,141.5 L445.7,142.0 L445.2,142.4 L444.7,142.9 L444.3,143.3 L443.9,143.8 L443.6,144.3 L443.4,144.8 L443.2,145.4 L443.1,146.1 L443.0,146.8 L443.1,147.6 L443.2,148.5 L443.3,149.4 L443.5,150.3 L443.7,151.4 L443.9,152.4 L444.1,153.5 L444.3,154.5 L444.5,155.6 L444.6,156.6 L444.7,157.6 L444.7,158.6 L444.7,159.5 L444.5,160.3 L444.3,161.0 L444.0,161.6 L443.6,162.1 L443.2,162.5 L442.6,162.8 L442.0,163.0 L441.4,163.1 L440.7,163.1 L440.0,163.0 L439.2,162.9 L438.4,162.7 L437.7,162.5 L436.9,162.3 L436.2,162.1 L435.5,162.0 L434.8,161.9 L434.2,161.8 L433.6,161.8 L433.1,161.9 L432.6,162.1 L432.2,162.4 L431.8,162.8 L431.5,163.2 L431.2,163.8 L430.9,164.4 L430.6,165.1 L430.4,165.9 L430.1,166.7 L429.9,167.5 L429.6,168.2 L429.3,169.0 L428.9,169.7 L428.5,170.3 L428.1,170.9 L427.6,171.3 L427.1,171.7 L426.6,171.9 L426.0,172.0 L425.3,172.0 L424.7,171.8 L424.0,171.5 L423.3,171.1 L422.5,170.6 L421.8,170.0 L421.1,169.3 L420.3,168.6 L419.6,167.8 L418.9,167.0 L418.2,166.3 L417.5,165.5 L416.8,164.8 L416.2,164.2 L415.6,163.6 L415.0,163.1 L414.4,162.7 L413.8,162.4 L413.2,162.2 L412.7,162.1 L412.1,162.1 L411.5,162.1 L410.9,162.3 L410.3,162.4 L409.7,162.6 L409.1,162.8 L408.4,163.1 L407.8,163.3 L407.1,163.4 L406.4,163.5 L405.7,163.6 L405.0,163.5 L404.3,163.3 L403.6,163.1 L402.9,162.7 L402.2,162.3 L401.6,161.7 L401.0,161.0 L400.4,160.3 L399.8,159.4 L399.3,158.5 L398.8,157.5 L398.3,156.5 L397.9,155.4 L397.5,154.3 L397.1,153.3 L396.7,152.2 L396.3,151.2 L396.0,150.2 L395.6,149.3 L395.2,148.5 L394.8,147.7 L394.4,146.9 L393.9,146.3 L393.4,145.6 L392.8,145.1 L392.3,144.6 L391.6,144.1 L390.9,143.7 L390.2,143.2 L389.5,142.8 L388.7,142.4 L388.0,142.0 L387.2,141.5 L386.4,141.0 L385.6,140.4 L384.9,139.9 L384.1,139.2 L383.5,138.5 L382.9,137.8 L382.3,137.0 L381.8,136.1 L381.4,135.2 L381.1,134.3 L380.8,133.4 L380.6,132.4 L380.5,131.4 L380.4,130.4 L380.4,129.4 L380.5,128.5 L380.5,127.5 L380.6,126.6 L380.7,125.6 L380.8,124.7 L380.9,123.9 L380.9,123.0 L380.9,122.2 L380.8,121.4 L380.7,120.6 L380.5,119.8 L380.3,119.0 L380.0,118.2 L379.6,117.4 L379.1,116.6 L378.6,115.8 L378.1,114.9 L377.5,114.0 L376.9,113.1 L376.3,112.2 L375.7,111.2 L375.1,110.3 L374.5,109.3 L374.0,108.3 L373.6,107.3 L373.2,106.4 L372.9,105.4 L372.7,104.5 L372.6,103.6 L372.6,102.7 L372.6,101.9 L372.8,101.1 L373.0,100.4 L373.4,99.7 L373.8,99.1 L374.2,98.5 L374.7,98.0 L375.2,97.5 L375.7,97.1 L376.3,96.6 L376.8,96.2 L377.3,95.7 L377.7,95.3 L378.1,94.8 L378.4,94.3 L378.6,93.8 L378.8,93.2 L378.9,92.5 L379.0,91.8 L378.9,91.0 L378.8,90.1 L378.7,89.2 L378.5,88.3 L378.3,87.2 L378.1,86.2 L377.9,85.1 L377.7,84.1 L377.5,83.0 L377.4,82.0 L377.3,81.0 L377.3,80.0 L377.3,79.1 L377.5,78.3 L377.7,77.6 L378.0,77.0 L378.4,76.5 L378.8,76.1 L379.4,75.8 L380.0,75.6 L380.6,75.5 L381.3,75.5 L382.0,75.6 L382.8,75.7 L383.6,75.9 L384.3,76.1 L385.1,76.3 L385.8,76.5 L386.5,76.6 L387.2,76.7 L387.8,76.8 L388.4,76.8 L388.9,76.7 L389.4,76.5 L389.8,76.2 L390.2,75.8 L390.5,75.4 L390.8,74.8 L391.1,74.2 L391.4,73.5 L391.6,72.7 L391.9,71.9 L392.1,71.1 L392.4,70.4 L392.7,69.6 L393.1,68.9 L393.5,68.3 L393.9,67.7 L394.4,67.3 L394.9,66.9 L395.4,66.7 L396.0,66.6 L396.7,66.6 L397.3,66.8 L398.0,67.1 L398.7,67.5 L399.5,68.0 L400.2,68.6 L400.9,69.3 L401.7,70.0 L402.4,70.8 L403.1,71.6 L403.8,72.3 L404.5,73.1 L405.2,73.8 L405.8,74.4 L406.4,75.0 L407.0,75.5 L407.6,75.9 L408.2,76.2 L408.8,76.4 L409.3,76.5 L409.9,76.5 L410.5,76.5 L411.1,76.3 L411.7,76.2 L412.3,76.0 L412.9,75.8 L413.6,75.5 L414.2,75.3 L414.9,75.2 L415.6,75.1 L416.3,75.0 L417.0,75.1 L417.7,75.3 L418.4,75.5 L419.1,75.9 L419.8,76.3 L420.4,76.9 L421.0,77.6 L421.6,78.3 L422.2,79.2 L422.7,80.1 L423.2,81.1 L423.7,82.1 L424.1,83.2 L424.5,84.3 L424.9,85.3 L425.3,86.4 L425.7,87.4 L426.0,88.4 L426.4,89.3 L426.8,90.1 L427.2,90.9 L427.6,91.7 L428.1,92.3 L428.6,93.0 L429.2,93.5 L429.7,94.0 L430.4,94.5 L431.1,94.9 L431.8,95.4 L432.5,95.8 L433.3,96.2 L434.0,96.6 L434.8,97.1 L435.6,97.6 L436.4,98.2 L437.1,98.7 L437.9,99.4 L438.5,100.1 L439.1,100.8 L439.7,101.6 L440.2,102.5 L440.6,103.4 L440.9,104.3 Z" fill="#fff" fill-rule="evenodd" stroke="#111" stroke-width="1.3"/>
<path d="M445.0,103.8 L446.4,107.0 L447.8,110.3 L449.0,113.7 L450.2,117.1 L451.2,120.4 L452.1,123.8 L452.9,127.2 L453.5,130.5 L454.0,133.9 L454.4,137.2 L454.7,140.4 L454.8,143.6 L454.8,146.7 L454.7,149.8 L454.4,152.8 L454.0,155.6 L453.5,158.4 L452.9,161.1 L452.1,163.7 L451.2,166.2 L450.2,168.5 L449.1,170.7 L447.8,172.7 L446.5,174.7 L445.0,176.4 L443.5,178.0 L441.8,179.5 L440.0,180.8 L438.2,181.9 L436.2,182.9 L434.2,183.6 L432.2,184.2 L430.0,184.7 L427.8,184.9 L425.5,185.0 L423.2,184.9 L420.8,184.6 L418.5,184.1 L416.0,183.5 L413.6,182.7 L411.1,181.7 L408.6,180.6 L406.2,179.3 L403.7,177.8 L401.3,176.1 L398.8,174.3 L396.4,172.4 L394.0,170.3 L391.7,168.1 L389.4,165.8 L387.2,163.3 L385.0,160.7 L382.8,158.0 L380.8,155.2 L378.8,152.3 L376.9,149.3 L375.1,146.2 L373.4,143.1 L371.8,139.9 L370.3,136.6 L368.9,133.3 L367.6,130.0 L366.4,126.6 L365.3,123.3 L364.3,119.9 L363.5,116.5 L362.8,113.1 L362.2,109.8 L361.8,106.5 L361.4,103.2 L361.2,100.0 L361.2,96.8 L361.2,93.7 L361.4,90.7 L361.7,87.8 L362.2,85.0 L362.8,82.2 L363.5,79.6 L364.3,77.1 L365.3,74.7 L366.3,72.4 L367.5,70.3 L368.8,68.3 L370.2,66.4 L371.8,64.8 L373.4,63.2 L375.1,61.8 L376.9,60.6 L378.8,59.6 L380.7,58.7 L382.8,58.0 L384.9,57.5 L387.1,57.2 L389.3,57.0 L391.6,57.0 L394.0,57.2 L396.3,57.6 L398.8,58.1 L401.2,58.9 L403.6,59.8 L406.1,60.8 L408.6,62.1 L411.1,63.5 L413.5,65.0 L416.0,66.7 L418.4,68.6 L420.8,70.6 L423.1,72.8 L425.5,75.1 L427.7,77.5 L429.9,80.0 L432.1,82.7 L434.2,85.4 L436.2,88.3 L438.1,91.2 L440.0,94.3 L441.7,97.4 L443.4,100.5 L445.0,103.8 Z M438.2,106.9 L438.4,107.9 L438.5,108.9 L438.6,109.9 L438.6,110.9 L438.5,111.8 L438.5,112.8 L438.4,113.7 L438.3,114.7 L438.2,115.6 L438.1,116.4 L438.1,117.3 L438.1,118.1 L438.2,118.9 L438.3,119.7 L438.5,120.5 L438.7,121.3 L439.0,122.1 L439.4,122.9 L439.9,123.7 L440.4,124.5 L440.9,125.4 L441.5,126.3 L442.1,127.2 L442.7,128.1 L443.3,129.1 L443.9,130.0 L444.5,131.0 L445.0,132.0 L445.4,133.0 L445.8,133.9 L446.1,134.9 L446.3,135.8 L446.4,136.7 L446.4,137.6 L446.4,138.4 L446.2,139.2 L446.0,139.9 L445.6,140.6 L445.2,141.2 L444.8,141.8 L444.3,142.3 L443.8,142.8 L443.3,143.2 L442.7,143.7 L442.2,144.1 L441.7,144.6 L441.3,145.0 L440.9,145.5 L440.6,146.0 L440.4,146.5 L440.2,147.1 L440.1,147.8 L440.0,148.5 L440.1,149.3 L440.2,150.2 L440.3,151.1 L440.5,152.0 L440.7,153.1 L440.9,154.1 L441.1,155.2 L441.3,156.2 L441.5,157.3 L441.6,158.3 L441.7,159.3 L441.7,160.3 L441.7,161.2 L441.5,162.0 L441.3,162.7 L441.0,163.3 L440.6,163.8 L440.2,164.2 L439.6,164.5 L439.0,164.7 L438.4,164.8 L437.7,164.8 L437.0,164.7 L436.2,164.6 L435.4,164.4 L434.7,164.2 L433.9,164.0 L433.2,163.8 L432.5,163.7 L431.8,163.6 L431.2,163.5 L430.6,163.5 L430.1,163.6 L429.6,163.8 L429.2,164.1 L428.8,164.5 L428.5,164.9 L428.2,165.5 L427.9,166.1 L427.6,166.8 L427.4,167.6 L427.1,168.4 L426.9,169.2 L426.6,169.9 L426.3,170.7 L425.9,171.4 L425.5,172.0 L425.1,172.6 L424.6,173.0 L424.1,173.4 L423.6,173.6 L423.0,173.7 L422.3,173.7 L421.7,173.5 L421.0,173.2 L420.3,172.8 L419.5,172.3 L418.8,171.7 L418.1,171.0 L417.3,170.3 L416.6,169.5 L415.9,168.7 L415.2,168.0 L414.5,167.2 L413.8,166.5 L413.2,165.9 L412.6,165.3 L412.0,164.8 L411.4,164.4 L410.8,164.1 L410.2,163.9 L409.7,163.8 L409.1,163.8 L408.5,163.8 L407.9,164.0 L407.3,164.1 L406.7,164.3 L406.1,164.5 L405.4,164.8 L404.8,165.0 L404.1,165.1 L403.4,165.2 L402.7,165.3 L402.0,165.2 L401.3,165.0 L400.6,164.8 L399.9,164.4 L399.2,164.0 L398.6,163.4 L398.0,162.7 L397.4,162.0 L396.8,161.1 L396.3,160.2 L395.8,159.2 L395.3,158.2 L394.9,157.1 L394.5,156.0 L394.1,155.0 L393.7,153.9 L393.3,152.9 L393.0,151.9 L392.6,151.0 L392.2,150.2 L391.8,149.4 L391.4,148.6 L390.9,148.0 L390.4,147.3 L389.8,146.8 L389.3,146.3 L388.6,145.8 L387.9,145.4 L387.2,144.9 L386.5,144.5 L385.7,144.1 L385.0,143.7 L384.2,143.2 L383.4,142.7 L382.6,142.1 L381.9,141.6 L381.1,140.9 L380.5,140.2 L379.9,139.5 L379.3,138.7 L378.8,137.8 L378.4,136.9 L378.1,136.0 L377.8,135.1 L377.6,134.1 L377.5,133.1 L377.4,132.1 L377.4,131.1 L377.5,130.2 L377.5,129.2 L377.6,128.3 L377.7,127.3 L377.8,126.4 L377.9,125.6 L377.9,124.7 L377.9,123.9 L377.8,123.1 L377.7,122.3 L377.5,121.5 L377.3,120.7 L377.0,119.9 L376.6,119.1 L376.1,118.3 L375.6,117.5 L375.1,116.6 L374.5,115.7 L373.9,114.8 L373.3,113.9 L372.7,112.9 L372.1,112.0 L371.5,111.0 L371.0,110.0 L370.6,109.0 L370.2,108.1 L369.9,107.1 L369.7,106.2 L369.6,105.3 L369.6,104.4 L369.6,103.6 L369.8,102.8 L370.0,102.1 L370.4,101.4 L370.8,100.8 L371.2,100.2 L371.7,99.7 L372.2,99.2 L372.7,98.8 L373.3,98.3 L373.8,97.9 L374.3,97.4 L374.7,97.0 L375.1,96.5 L375.4,96.0 L375.6,95.5 L375.8,94.9 L375.9,94.2 L376.0,93.5 L375.9,92.7 L375.8,91.8 L375.7,90.9 L375.5,90.0 L375.3,88.9 L375.1,87.9 L374.9,86.8 L374.7,85.8 L374.5,84.7 L374.4,83.7 L374.3,82.7 L374.3,81.7 L374.3,80.8 L374.5,80.0 L374.7,79.3 L375.0,78.7 L375.4,78.2 L375.8,77.8 L376.4,77.5 L377.0,77.3 L377.6,77.2 L378.3,77.2 L379.0,77.3 L379.8,77.4 L380.6,77.6 L381.3,77.8 L382.1,78.0 L382.8,78.2 L383.5,78.3 L384.2,78.4 L384.8,78.5 L385.4,78.5 L385.9,78.4 L386.4,78.2 L386.8,77.9 L387.2,77.5 L387.5,77.1 L387.8,76.5 L388.1,75.9 L388.4,75.2 L388.6,74.4 L388.9,73.6 L389.1,72.8 L389.4,72.1 L389.7,71.3 L390.1,70.6 L390.5,70.0 L390.9,69.4 L391.4,69.0 L391.9,68.6 L392.4,68.4 L393.0,68.3 L393.7,68.3 L394.3,68.5 L395.0,68.8 L395.7,69.2 L396.5,69.7 L397.2,70.3 L397.9,71.0 L398.7,71.7 L399.4,72.5 L400.1,73.3 L400.8,74.0 L401.5,74.8 L402.2,75.5 L402.8,76.1 L403.4,76.7 L404.0,77.2 L404.6,77.6 L405.2,77.9 L405.8,78.1 L406.3,78.2 L406.9,78.2 L407.5,78.2 L408.1,78.0 L408.7,77.9 L409.3,77.7 L409.9,77.5 L410.6,77.2 L411.2,77.0 L411.9,76.9 L412.6,76.8 L413.3,76.7 L414.0,76.8 L414.7,77.0 L415.4,77.2 L416.1,77.6 L416.8,78.0 L417.4,78.6 L418.0,79.3 L418.6,80.0 L419.2,80.9 L419.7,81.8 L420.2,82.8 L420.7,83.8 L421.1,84.9 L421.5,86.0 L421.9,87.0 L422.3,88.1 L422.7,89.1 L423.0,90.1 L423.4,91.0 L423.8,91.8 L424.2,92.6 L424.6,93.4 L425.1,94.0 L425.6,94.7 L426.2,95.2 L426.7,95.7 L427.4,96.2 L428.1,96.6 L428.8,97.1 L429.5,97.5 L430.3,97.9 L431.0,98.3 L431.8,98.8 L432.6,99.3 L433.4,99.9 L434.1,100.4 L434.9,101.1 L435.5,101.8 L436.1,102.5 L436.7,103.3 L437.2,104.2 L437.6,105.1 L437.9,106.0 Z" fill="#fff" fill-rule="evenodd" stroke="#111" stroke-width="1.5"/>
<ellipse cx="408.0" cy="121.0" rx="35.4" ry="59.0" transform="rotate(-25 408.0 121.0)" stroke="#222" stroke-width="1.1" fill="none" />
<path d="M440.1,106.0 L445.0,103.8 M441.9,110.3 L447.1,108.6 M443.6,114.6 L449.0,113.6 M445.0,118.9 L450.7,118.6 M446.2,123.3 L452.0,123.6 M447.2,127.6 L453.2,128.7 M447.9,131.9 L454.0,133.6 M448.4,136.2 L454.5,138.5 M448.6,140.3 L454.8,143.3 M448.6,144.4 L454.8,147.9 M448.3,148.2 L454.5,152.4 M447.8,151.9 L453.9,156.7 M447.0,155.5 L453.0,160.7 M446.0,158.8 L451.8,164.5 M444.8,161.9 L450.4,168.1 M443.3,164.7 L448.7,171.3 M441.6,167.2 L446.8,174.3 M439.7,169.5 L444.6,176.9 M437.6,171.5 L442.2,179.2 M435.4,173.1 L439.6,181.1 M432.9,174.5 L436.7,182.6 M430.3,175.5 L433.7,183.8 M427.6,176.2 L430.6,184.6 M424.8,176.5 L427.3,185.0 M421.8,176.5 L423.9,184.9 M418.8,176.1 L420.4,184.5 M415.7,175.4 L416.8,183.7 M412.5,174.4 L413.2,182.6 M409.3,173.1 L409.5,181.0 M406.1,171.4 L405.8,179.1 M402.9,169.4 L402.2,176.8 M399.8,167.1 L398.5,174.1 M396.7,164.5 L395.0,171.2 M393.7,161.7 L391.5,167.9 M390.7,158.6 L388.1,164.3 M387.9,155.3 L384.8,160.5 M385.2,151.8 L381.7,156.4 M382.6,148.0 L378.8,152.2 M380.2,144.1 L376.0,147.7 M378.0,140.1 L373.4,143.0 M375.9,136.0 L371.0,138.2 M374.1,131.7 L368.9,133.4 M372.4,127.4 L367.0,128.4 M371.0,123.1 L365.3,123.4 M369.8,118.7 L364.0,118.4 M368.8,114.4 L362.8,113.3 M368.1,110.1 L362.0,108.4 M367.6,105.8 L361.5,103.5 M367.4,101.7 L361.2,98.7 M367.4,97.6 L361.2,94.1 M367.7,93.8 L361.5,89.6 M368.2,90.1 L362.1,85.3 M369.0,86.5 L363.0,81.3 M370.0,83.2 L364.2,77.5 M371.2,80.1 L365.6,73.9 M372.7,77.3 L367.3,70.7 M374.4,74.8 L369.2,67.7 M376.3,72.5 L371.4,65.1 M378.4,70.5 L373.8,62.8 M380.6,68.9 L376.4,60.9 M383.1,67.5 L379.3,59.4 M385.7,66.5 L382.3,58.2 M388.4,65.8 L385.4,57.4 M391.2,65.5 L388.7,57.0 M394.2,65.5 L392.1,57.1 M397.2,65.9 L395.6,57.5 M400.3,66.6 L399.2,58.3 M403.5,67.6 L402.8,59.4 M406.7,68.9 L406.5,61.0 M409.9,70.6 L410.2,62.9 M413.1,72.6 L413.8,65.2 M416.2,74.9 L417.5,67.9 M419.3,77.5 L421.0,70.8 M422.3,80.3 L424.5,74.1 M425.3,83.4 L427.9,77.7 M428.1,86.7 L431.2,81.5 M430.8,90.2 L434.3,85.6 M433.4,94.0 L437.2,89.8 M435.8,97.9 L440.0,94.3 M438.0,101.9 L442.6,99.0 " stroke="#555" stroke-width="0.8" fill="none"/>
<path d="M434.1,109.6 L434.6,110.8 L435.0,112.0 L435.3,113.2 L435.6,114.5 L435.8,115.7 L435.9,117.0 L436.0,118.2 L436.1,119.4 L436.2,120.6 L436.3,121.8 L436.5,123.0 L436.7,124.1 L437.1,125.2 L437.5,126.4 L437.9,127.5 L438.5,128.6 L439.1,129.8 L439.7,130.9 L440.4,132.1 L441.0,133.3 L441.6,134.5 L442.2,135.8 L442.7,137.0 L443.1,138.2 L443.5,139.4 L443.7,140.6 L443.8,141.8 L443.8,142.9 L443.6,144.0 L443.5,145.1 L443.2,146.1 L442.9,147.1 L442.6,148.0 L442.3,148.9 L442.0,149.9 L441.7,150.8 L441.6,151.8 L441.5,152.8 L441.4,153.8 L441.5,154.9 L441.7,156.0 L441.9,157.2 L442.1,158.4 L442.4,159.7 L442.7,161.0 L443.0,162.3 L443.2,163.5 L443.4,164.8 L443.5,166.0 L443.5,167.1 L443.4,168.2 L443.2,169.1 L442.9,170.0 L442.5,170.8 L441.9,171.5 L441.4,172.1 L440.7,172.7 L440.1,173.2 L439.4,173.7 L438.7,174.1 L438.1,174.6 L437.5,175.2 L437.0,175.8 L436.6,176.5 L436.3,177.2 L436.0,178.1 L435.8,179.0 L435.6,180.0 L435.5,181.1 L435.4,182.2 L435.2,183.3 L435.1,184.4 L434.9,185.5 L434.6,186.5 L434.3,187.4 L433.9,188.2 L433.4,188.8 L432.8,189.4 L432.1,189.7 L431.4,190.0 L430.6,190.1 L429.7,190.2 L428.8,190.2 L428.0,190.1 L427.1,190.0 L426.2,189.9 L425.4,189.9 L424.6,190.0 L423.9,190.1 L423.2,190.4 L422.6,190.7 L422.0,191.2 L421.4,191.8 L420.9,192.4 L420.4,193.1 L419.9,193.8 L419.4,194.6 L418.8,195.3 L418.3,195.9 L417.6,196.4 L417.0,196.8 L416.2,197.1 L415.4,197.2 L414.6,197.2 L413.7,197.0 L412.8,196.6 L411.9,196.2 L411.0,195.7 L410.0,195.1 L409.1,194.4 L408.2,193.8 L407.3,193.2 L406.4,192.7 L405.5,192.3 L404.7,191.9 L403.9,191.7 L403.1,191.6 L402.3,191.6 L401.5,191.7 L400.8,191.8 L400.0,192.0 L399.2,192.2 L398.4,192.4 L397.5,192.6 L396.7,192.6 L395.8,192.6 L395.0,192.4 L394.1,192.1 L393.2,191.6 L392.3,191.0 L391.4,190.3 L390.6,189.4 L389.7,188.5 L388.9,187.5 L388.1,186.4 L387.3,185.4 L386.6,184.3 L385.8,183.4 L385.0,182.4 L384.2,181.6 L383.5,180.9 L382.6,180.2 L381.8,179.6 L381.0,179.2 L380.1,178.7 L379.2,178.4 L378.3,178.0 L377.3,177.6 L376.4,177.2 L375.5,176.8 L374.5,176.2 L373.6,175.6 L372.8,174.9 L371.9,174.1 L371.1,173.2 L370.4,172.1 L369.8,171.0 L369.1,169.8 L368.6,168.6 L368.0,167.4 L367.5,166.1 L367.0,164.8 L366.6,163.6 L366.1,162.4 L365.5,161.2 L365.0,160.2 L364.4,159.1 L363.7,158.2 L363.0,157.2 L362.2,156.4 L361.4,155.5 L360.6,154.6 L359.7,153.8 L358.8,152.9 L357.9,152.0 L357.1,151.1 L356.3,150.1 L355.5,149.0 L354.9,148.0 L354.3,146.8 L353.8,145.6 L353.4,144.4 L353.1,143.2 L352.8,141.9 L352.6,140.7 L352.5,139.4 L352.4,138.2 L352.3,137.0 L352.2,135.8 L352.1,134.6 L351.9,133.4 L351.7,132.3 L351.3,131.2 L350.9,130.0 L350.5,128.9 L349.9,127.8 L349.3,126.6 L348.7,125.5 L348.0,124.3 L347.4,123.1 L346.8,121.9 L346.2,120.6 L345.7,119.4 L345.3,118.2 L344.9,117.0 L344.7,115.8 L344.6,114.6 L344.6,113.5 L344.8,112.4 L344.9,111.3 L345.2,110.3 L345.5,109.3 L345.8,108.4 L346.1,107.5 L346.4,106.5 L346.7,105.6 L346.8,104.6 L346.9,103.6 L347.0,102.6 L346.9,101.5 L346.7,100.4 L346.5,99.2 L346.3,98.0 L346.0,96.7 L345.7,95.4 L345.4,94.1 L345.2,92.9 L345.0,91.6 L344.9,90.4 L344.9,89.3 L345.0,88.2 L345.2,87.3 L345.5,86.4 L345.9,85.6 L346.5,84.9 L347.0,84.3 L347.7,83.7 L348.3,83.2 L349.0,82.7 L349.7,82.3 L350.3,81.8 L350.9,81.2 L351.4,80.6 L351.8,79.9 L352.1,79.2 L352.4,78.3 L352.6,77.4 L352.8,76.4 L352.9,75.3 L353.0,74.2 L353.2,73.1 L353.3,72.0 L353.5,70.9 L353.8,69.9 L354.1,69.0 L354.5,68.2 L355.0,67.6 L355.6,67.0 L356.3,66.7 L357.0,66.4 L357.8,66.3 L358.7,66.2 L359.6,66.2 L360.4,66.3 L361.3,66.4 L362.2,66.5 L363.0,66.5 L363.8,66.4 L364.5,66.3 L365.2,66.0 L365.8,65.7 L366.4,65.2 L367.0,64.6 L367.5,64.0 L368.0,63.3 L368.5,62.6 L369.0,61.8 L369.6,61.1 L370.1,60.5 L370.8,60.0 L371.4,59.6 L372.2,59.3 L373.0,59.2 L373.8,59.2 L374.7,59.4 L375.6,59.8 L376.5,60.2 L377.4,60.7 L378.4,61.3 L379.3,62.0 L380.2,62.6 L381.1,63.2 L382.0,63.7 L382.9,64.1 L383.7,64.5 L384.5,64.7 L385.3,64.8 L386.1,64.8 L386.9,64.7 L387.6,64.6 L388.4,64.4 L389.2,64.2 L390.0,64.0 L390.9,63.8 L391.7,63.8 L392.6,63.8 L393.4,64.0 L394.3,64.3 L395.2,64.8 L396.1,65.4 L397.0,66.1 L397.8,67.0 L398.7,67.9 L399.5,68.9 L400.3,70.0 L401.1,71.0 L401.8,72.1 L402.6,73.0 L403.4,74.0 L404.2,74.8 L404.9,75.5 L405.8,76.2 L406.6,76.8 L407.4,77.2 L408.3,77.7 L409.2,78.0 L410.1,78.4 L411.1,78.8 L412.0,79.2 L412.9,79.6 L413.9,80.2 L414.8,80.8 L415.6,81.5 L416.5,82.3 L417.3,83.2 L418.0,84.3 L418.6,85.4 L419.3,86.6 L419.8,87.8 L420.4,89.0 L420.9,90.3 L421.4,91.6 L421.8,92.8 L422.3,94.0 L422.9,95.2 L423.4,96.2 L424.0,97.3 L424.7,98.2 L425.4,99.2 L426.2,100.0 L427.0,100.9 L427.8,101.8 L428.7,102.6 L429.6,103.5 L430.5,104.4 L431.3,105.3 L432.1,106.3 L432.9,107.4 L433.5,108.4 Z M429.0,112.0 L430.4,115.1 L431.7,118.2 L432.8,121.3 L433.9,124.5 L434.9,127.7 L435.7,130.8 L436.4,134.0 L437.0,137.2 L437.5,140.3 L437.9,143.4 L438.1,146.5 L438.3,149.5 L438.3,152.4 L438.1,155.3 L437.9,158.1 L437.5,160.8 L437.0,163.4 L436.4,166.0 L435.7,168.4 L434.9,170.7 L433.9,172.9 L432.9,175.0 L431.7,176.9 L430.4,178.7 L429.0,180.4 L427.6,181.9 L426.0,183.2 L424.3,184.5 L422.6,185.5 L420.8,186.4 L418.9,187.1 L416.9,187.7 L414.9,188.1 L412.8,188.4 L410.7,188.4 L408.5,188.3 L406.3,188.1 L404.0,187.6 L401.8,187.0 L399.5,186.3 L397.1,185.4 L394.8,184.3 L392.5,183.0 L390.2,181.6 L387.9,180.1 L385.6,178.4 L383.3,176.6 L381.1,174.6 L378.8,172.5 L376.7,170.3 L374.6,168.0 L372.5,165.5 L370.5,163.0 L368.6,160.4 L366.7,157.6 L365.0,154.8 L363.3,151.9 L361.6,149.0 L360.1,146.0 L358.7,142.9 L357.4,139.8 L356.1,136.7 L355.0,133.5 L354.0,130.3 L353.1,127.1 L352.3,124.0 L351.7,120.8 L351.1,117.7 L350.7,114.5 L350.4,111.5 L350.2,108.4 L350.1,105.5 L350.2,102.5 L350.4,99.7 L350.7,96.9 L351.1,94.3 L351.6,91.7 L352.3,89.2 L353.1,86.8 L354.0,84.6 L355.0,82.5 L356.1,80.5 L357.3,78.6 L358.7,76.9 L360.1,75.3 L361.6,73.8 L363.2,72.5 L364.9,71.4 L366.7,70.4 L368.6,69.6 L370.5,68.9 L372.5,68.5 L374.5,68.1 L376.6,68.0 L378.8,68.0 L381.0,68.2 L383.2,68.5 L385.5,69.0 L387.8,69.7 L390.1,70.6 L392.4,71.6 L394.8,72.7 L397.1,74.0 L399.4,75.5 L401.7,77.1 L404.0,78.9 L406.2,80.8 L408.5,82.8 L410.6,85.0 L412.8,87.2 L414.9,89.6 L416.9,92.1 L418.8,94.7 L420.7,97.4 L422.6,100.2 L424.3,103.0 L426.0,105.9 L427.5,108.9 L429.0,112.0 Z" fill="#fff" fill-rule="evenodd" stroke="#111" stroke-width="1.3"/>
<path d="M430.9,111.4 L431.4,112.6 L431.8,113.8 L432.1,115.0 L432.4,116.3 L432.6,117.5 L432.7,118.8 L432.8,120.0 L432.9,121.2 L433.0,122.4 L433.1,123.6 L433.3,124.8 L433.5,125.9 L433.9,127.0 L434.3,128.2 L434.7,129.3 L435.3,130.4 L435.9,131.6 L436.5,132.7 L437.2,133.9 L437.8,135.1 L438.4,136.3 L439.0,137.6 L439.5,138.8 L439.9,140.0 L440.3,141.2 L440.5,142.4 L440.6,143.6 L440.6,144.7 L440.4,145.8 L440.3,146.9 L440.0,147.9 L439.7,148.9 L439.4,149.8 L439.1,150.7 L438.8,151.7 L438.5,152.6 L438.4,153.6 L438.3,154.6 L438.2,155.6 L438.3,156.7 L438.5,157.8 L438.7,159.0 L438.9,160.2 L439.2,161.5 L439.5,162.8 L439.8,164.1 L440.0,165.3 L440.2,166.6 L440.3,167.8 L440.3,168.9 L440.2,170.0 L440.0,170.9 L439.7,171.8 L439.3,172.6 L438.7,173.3 L438.2,173.9 L437.5,174.5 L436.9,175.0 L436.2,175.5 L435.5,175.9 L434.9,176.4 L434.3,177.0 L433.8,177.6 L433.4,178.3 L433.1,179.0 L432.8,179.9 L432.6,180.8 L432.4,181.8 L432.3,182.9 L432.2,184.0 L432.0,185.1 L431.9,186.2 L431.7,187.3 L431.4,188.3 L431.1,189.2 L430.7,190.0 L430.2,190.6 L429.6,191.2 L428.9,191.5 L428.2,191.8 L427.4,191.9 L426.5,192.0 L425.6,192.0 L424.8,191.9 L423.9,191.8 L423.0,191.7 L422.2,191.7 L421.4,191.8 L420.7,191.9 L420.0,192.2 L419.4,192.5 L418.8,193.0 L418.2,193.6 L417.7,194.2 L417.2,194.9 L416.7,195.6 L416.2,196.4 L415.6,197.1 L415.1,197.7 L414.4,198.2 L413.8,198.6 L413.0,198.9 L412.2,199.0 L411.4,199.0 L410.5,198.8 L409.6,198.4 L408.7,198.0 L407.8,197.5 L406.8,196.9 L405.9,196.2 L405.0,195.6 L404.1,195.0 L403.2,194.5 L402.3,194.1 L401.5,193.7 L400.7,193.5 L399.9,193.4 L399.1,193.4 L398.3,193.5 L397.6,193.6 L396.8,193.8 L396.0,194.0 L395.2,194.2 L394.3,194.4 L393.5,194.4 L392.6,194.4 L391.8,194.2 L390.9,193.9 L390.0,193.4 L389.1,192.8 L388.2,192.1 L387.4,191.2 L386.5,190.3 L385.7,189.3 L384.9,188.2 L384.1,187.2 L383.4,186.1 L382.6,185.2 L381.8,184.2 L381.0,183.4 L380.3,182.7 L379.4,182.0 L378.6,181.4 L377.8,181.0 L376.9,180.5 L376.0,180.2 L375.1,179.8 L374.1,179.4 L373.2,179.0 L372.3,178.6 L371.3,178.0 L370.4,177.4 L369.6,176.7 L368.7,175.9 L367.9,175.0 L367.2,173.9 L366.6,172.8 L365.9,171.6 L365.4,170.4 L364.8,169.2 L364.3,167.9 L363.8,166.6 L363.4,165.4 L362.9,164.2 L362.3,163.0 L361.8,162.0 L361.2,160.9 L360.5,160.0 L359.8,159.0 L359.0,158.2 L358.2,157.3 L357.4,156.4 L356.5,155.6 L355.6,154.7 L354.7,153.8 L353.9,152.9 L353.1,151.9 L352.3,150.8 L351.7,149.8 L351.1,148.6 L350.6,147.4 L350.2,146.2 L349.9,145.0 L349.6,143.7 L349.4,142.5 L349.3,141.2 L349.2,140.0 L349.1,138.8 L349.0,137.6 L348.9,136.4 L348.7,135.2 L348.5,134.1 L348.1,133.0 L347.7,131.8 L347.3,130.7 L346.7,129.6 L346.1,128.4 L345.5,127.3 L344.8,126.1 L344.2,124.9 L343.6,123.7 L343.0,122.4 L342.5,121.2 L342.1,120.0 L341.7,118.8 L341.5,117.6 L341.4,116.4 L341.4,115.3 L341.6,114.2 L341.7,113.1 L342.0,112.1 L342.3,111.1 L342.6,110.2 L342.9,109.3 L343.2,108.3 L343.5,107.4 L343.6,106.4 L343.7,105.4 L343.8,104.4 L343.7,103.3 L343.5,102.2 L343.3,101.0 L343.1,99.8 L342.8,98.5 L342.5,97.2 L342.2,95.9 L342.0,94.7 L341.8,93.4 L341.7,92.2 L341.7,91.1 L341.8,90.0 L342.0,89.1 L342.3,88.2 L342.7,87.4 L343.3,86.7 L343.8,86.1 L344.5,85.5 L345.1,85.0 L345.8,84.5 L346.5,84.1 L347.1,83.6 L347.7,83.0 L348.2,82.4 L348.6,81.7 L348.9,81.0 L349.2,80.1 L349.4,79.2 L349.6,78.2 L349.7,77.1 L349.8,76.0 L350.0,74.9 L350.1,73.8 L350.3,72.7 L350.6,71.7 L350.9,70.8 L351.3,70.0 L351.8,69.4 L352.4,68.8 L353.1,68.5 L353.8,68.2 L354.6,68.1 L355.5,68.0 L356.4,68.0 L357.2,68.1 L358.1,68.2 L359.0,68.3 L359.8,68.3 L360.6,68.2 L361.3,68.1 L362.0,67.8 L362.6,67.5 L363.2,67.0 L363.8,66.4 L364.3,65.8 L364.8,65.1 L365.3,64.4 L365.8,63.6 L366.4,62.9 L366.9,62.3 L367.6,61.8 L368.2,61.4 L369.0,61.1 L369.8,61.0 L370.6,61.0 L371.5,61.2 L372.4,61.6 L373.3,62.0 L374.2,62.5 L375.2,63.1 L376.1,63.8 L377.0,64.4 L377.9,65.0 L378.8,65.5 L379.7,65.9 L380.5,66.3 L381.3,66.5 L382.1,66.6 L382.9,66.6 L383.7,66.5 L384.4,66.4 L385.2,66.2 L386.0,66.0 L386.8,65.8 L387.7,65.6 L388.5,65.6 L389.4,65.6 L390.2,65.8 L391.1,66.1 L392.0,66.6 L392.9,67.2 L393.8,67.9 L394.6,68.8 L395.5,69.7 L396.3,70.7 L397.1,71.8 L397.9,72.8 L398.6,73.9 L399.4,74.8 L400.2,75.8 L401.0,76.6 L401.7,77.3 L402.6,78.0 L403.4,78.6 L404.2,79.0 L405.1,79.5 L406.0,79.8 L406.9,80.2 L407.9,80.6 L408.8,81.0 L409.7,81.4 L410.7,82.0 L411.6,82.6 L412.4,83.3 L413.3,84.1 L414.1,85.0 L414.8,86.1 L415.4,87.2 L416.1,88.4 L416.6,89.6 L417.2,90.8 L417.7,92.1 L418.2,93.4 L418.6,94.6 L419.1,95.8 L419.7,97.0 L420.2,98.0 L420.8,99.1 L421.5,100.0 L422.2,101.0 L423.0,101.8 L423.8,102.7 L424.6,103.6 L425.5,104.4 L426.4,105.3 L427.3,106.2 L428.1,107.1 L428.9,108.1 L429.7,109.2 L430.3,110.2 Z M425.8,113.8 L427.2,116.9 L428.5,120.0 L429.6,123.1 L430.7,126.3 L431.7,129.5 L432.5,132.6 L433.2,135.8 L433.8,139.0 L434.3,142.1 L434.7,145.2 L434.9,148.3 L435.1,151.3 L435.1,154.2 L434.9,157.1 L434.7,159.9 L434.3,162.6 L433.8,165.2 L433.2,167.8 L432.5,170.2 L431.7,172.5 L430.7,174.7 L429.7,176.8 L428.5,178.7 L427.2,180.5 L425.8,182.2 L424.4,183.7 L422.8,185.0 L421.1,186.3 L419.4,187.3 L417.6,188.2 L415.7,188.9 L413.7,189.5 L411.7,189.9 L409.6,190.2 L407.5,190.2 L405.3,190.1 L403.1,189.9 L400.8,189.4 L398.6,188.8 L396.3,188.1 L393.9,187.2 L391.6,186.1 L389.3,184.8 L387.0,183.4 L384.7,181.9 L382.4,180.2 L380.1,178.4 L377.9,176.4 L375.6,174.3 L373.5,172.1 L371.4,169.8 L369.3,167.3 L367.3,164.8 L365.4,162.2 L363.5,159.4 L361.8,156.6 L360.1,153.7 L358.4,150.8 L356.9,147.8 L355.5,144.7 L354.2,141.6 L352.9,138.5 L351.8,135.3 L350.8,132.1 L349.9,128.9 L349.1,125.8 L348.5,122.6 L347.9,119.5 L347.5,116.3 L347.2,113.3 L347.0,110.2 L346.9,107.3 L347.0,104.3 L347.2,101.5 L347.5,98.7 L347.9,96.1 L348.4,93.5 L349.1,91.0 L349.9,88.6 L350.8,86.4 L351.8,84.3 L352.9,82.3 L354.1,80.4 L355.5,78.7 L356.9,77.1 L358.4,75.6 L360.0,74.3 L361.7,73.2 L363.5,72.2 L365.4,71.4 L367.3,70.7 L369.3,70.3 L371.3,69.9 L373.4,69.8 L375.6,69.8 L377.8,70.0 L380.0,70.3 L382.3,70.8 L384.6,71.5 L386.9,72.4 L389.2,73.4 L391.6,74.5 L393.9,75.8 L396.2,77.3 L398.5,78.9 L400.8,80.7 L403.0,82.6 L405.3,84.6 L407.4,86.8 L409.6,89.0 L411.7,91.4 L413.7,93.9 L415.6,96.5 L417.5,99.2 L419.4,102.0 L421.1,104.8 L422.8,107.7 L424.3,110.7 L425.8,113.8 Z" fill="#fff" fill-rule="evenodd" stroke="#111" stroke-width="1.6"/>
<path d="M407.5,82.1 L409.4,83.9 L411.4,85.9 L413.3,88.0 L415.1,90.2 L416.9,92.4 L418.7,94.8 L420.4,97.2 L422.0,99.7 L423.6,102.2 L425.1,104.8 L426.6,107.5 L428.0,110.2 L429.3,113.0 L430.5,115.7 L431.6,118.5 L432.7,121.4 L433.6,124.2 L434.5,127.1 L435.3,129.9 L436.0,132.8 L436.5,135.6 L437.0,138.5 L437.4,141.3 L437.8,144.0 L438.0,146.8 L438.1,149.5 L438.1,152.1 L438.0,154.7 L437.8,157.3 L437.5,159.7 L437.1,162.1 L436.6,164.5 L436.0,166.7 L435.4,168.8 L434.6,170.9 L433.7,172.9 L432.8,174.7 L431.7,176.5 L430.6,178.2 L429.4,179.7 L428.1,181.1 L426.8,182.4 L425.3,183.6 L423.8,184.7 L422.3,185.6 L420.6,186.4 L418.9,187.1 L417.2,187.6 L415.4,188.0 L413.5,188.3 L411.6,188.4 L409.7,188.4 L407.7,188.3 L405.7,188.0 L403.7,187.6 L401.6,187.1 L399.6,186.4 L397.5,185.6 L395.4,184.6" stroke="#222" stroke-width="1.2" fill="none"/>
<line x1="352.3" y1="32.0" x2="393.0" y2="44.0" stroke="#111" stroke-width="1.5"/>
<line x1="342.0" y1="37.2" x2="354.0" y2="66.0" stroke="#111" stroke-width="1.5"/>
<path d="M292.3,231.6 L296.9,235.5 L301.5,238.9 L306.2,241.9 L310.9,244.3 L315.5,246.3 L320.1,247.7 L324.6,248.6 L328.9,249.0 L333.1,248.8 L337.1,248.1 L340.8,246.8 L344.3,245.0 L347.4,242.7 L350.3,240.0 L352.8,236.7 L355.0,233.0 L356.7,228.8 L358.1,224.3 L359.1,219.5 L359.7,214.3 L359.8,208.8 L359.6,203.2 L358.9,197.3 L357.8,191.3 L356.4,185.2 L354.5,179.1 L352.3,172.9 L349.7,166.9 L346.7,160.9 L343.5,155.1 L340.0,149.4 L336.2,144.0 L332.2,138.9 L328.0,134.1 L323.6,129.7 L319.1,125.6 L314.5,122.0 L309.8,118.8 L305.1,116.1 L300.4,113.9 L295.8,112.3 L291.3,111.1 L286.9,110.5 L282.6,110.4 L278.5,110.9 L274.7,111.9 L271.1,113.5 L267.8,115.5 L264.8,118.1 L262.1,121.1 L259.8,124.7 L257.8,128.6 L256.3,132.9 L255.1,137.6 L254.3,142.7 L254.0,148.0 L254.0,153.6 L254.5,159.4 L255.4,165.3" stroke="#111" stroke-width="3.0" fill="none" stroke-linecap="round"/>
<path d="M321.6,173.2 L326.0,181.7 L329.9,190.5 L333.1,199.4 L335.7,208.3 L337.6,217.0 L338.7,225.6 L339.2,233.9 L338.9,241.8 L337.8,249.3 L336.1,256.1 L333.6,262.3 L330.5,267.9 L326.7,272.6 L322.4,276.5 L317.5,279.6 L312.1,281.7 L306.2,282.9 L300.1,283.2 L293.6,282.5 L286.9,280.9 L280.1,278.4 L273.2,274.9 L266.3,270.7 L259.5,265.6 L252.8,259.7 L246.5,253.2 L240.4,246.1 L234.7,238.5 L229.5,230.4 L224.7,222.0 L220.6,213.3 L217.0,204.5 L214.1,195.6 L211.9,186.7 L210.3,178.0 L209.6,169.6 L209.5,161.5 L210.2,153.8 L211.6,146.6 L213.7,140.1 L216.5,134.2 L219.9,129.1 L224.0,124.7 L228.6,121.3 L233.8,118.7 L239.4,117.0 L245.4,116.2 L251.7,116.4 L258.3,117.6 L265.1,119.7 L272.0,122.6 L278.9,126.5 L285.7,131.2 L292.5,136.6 L299.0,142.8 L305.2,149.6 L311.1,157.0 L316.6,164.9 L321.6,173.2" stroke="#fff" stroke-width="6.2" fill="none"/>
<path d="M321.6,173.2 L326.0,181.7 L329.9,190.5 L333.1,199.4 L335.7,208.3 L337.6,217.0 L338.7,225.6 L339.2,233.9 L338.9,241.8 L337.8,249.3 L336.1,256.1 L333.6,262.3 L330.5,267.9 L326.7,272.6 L322.4,276.5 L317.5,279.6 L312.1,281.7 L306.2,282.9 L300.1,283.2 L293.6,282.5 L286.9,280.9 L280.1,278.4 L273.2,274.9 L266.3,270.7 L259.5,265.6 L252.8,259.7 L246.5,253.2 L240.4,246.1 L234.7,238.5 L229.5,230.4 L224.7,222.0 L220.6,213.3 L217.0,204.5 L214.1,195.6 L211.9,186.7 L210.3,178.0 L209.6,169.6 L209.5,161.5 L210.2,153.8 L211.6,146.6 L213.7,140.1 L216.5,134.2 L219.9,129.1 L224.0,124.7 L228.6,121.3 L233.8,118.7 L239.4,117.0 L245.4,116.2 L251.7,116.4 L258.3,117.6 L265.1,119.7 L272.0,122.6 L278.9,126.5 L285.7,131.2 L292.5,136.6 L299.0,142.8 L305.2,149.6 L311.1,157.0 L316.6,164.9 L321.6,173.2" stroke="#111" stroke-width="3.0" fill="none" stroke-linecap="round"/>
<path d="M149.1,197.9 L149.4,191.1 L150.3,184.6 L151.7,178.5 L153.6,172.9 L156.0,167.6 L158.9,162.9 L162.2,158.8 L165.9,155.2 L170.1,152.2 L178.1,147.2 L182.6,144.9 L187.5,143.1 L192.6,142.1 L198.1,141.7 L203.7,142.0 L209.5,143.0 L215.4,144.6 L221.3,146.9 L227.4,149.8 L233.3,153.3 L239.3,157.4 L245.1,162.0 L250.7,167.2 L256.2,172.8 L261.4,178.9 L266.3,185.3 L270.9,192.1 L275.2,199.1 L279.0,206.4 L282.5,213.8 L285.4,221.3 L287.9,228.9 L290.0,236.5 L291.5,244.0 L292.4,251.4 L292.9,258.6 L292.8,265.5 L292.2,272.2 L291.1,278.5 L289.4,284.4 L287.3,289.8 L284.6,294.8 L281.5,299.2 L278.0,303.1 L274.0,306.4 L266.0,311.4 L261.7,314.1 L257.0,316.1 L252.0,317.5 L246.7,318.2 L241.2,318.2 L235.5,317.6 L229.6,316.3 L223.7,314.3 L217.7,311.7 L211.6,308.5 L205.7,304.7 L199.8,300.4 L194.1,295.5 L188.5,290.1 L183.2,284.2 L178.1,278.0 L173.3,271.4 L168.9,264.4 L164.8,257.3 L161.2,249.9 L158.0,242.4 L155.2,234.9 L153.0,227.3 L151.2,219.7 L150.0,212.3 L149.3,205.0 Z M261.2,212.5 L263.1,216.3 L264.8,220.3 L266.4,224.2 L267.8,228.2 L269.0,232.2 L269.9,236.2 L270.7,240.1 L271.3,244.0 L271.7,247.8 L271.8,251.6 L271.8,255.2 L271.5,258.7 L271.0,262.0 L270.3,265.2 L269.4,268.2 L268.3,271.0 L267.0,273.6 L265.5,276.0 L263.8,278.1 L262.0,280.0 L260.0,281.7 L257.8,283.1 L255.5,284.2 L253.1,285.0 L250.5,285.6 L247.9,285.9 L245.1,285.9 L242.3,285.6 L239.4,285.0 L236.4,284.2 L233.4,283.1 L230.4,281.7 L227.4,280.1 L224.4,278.2 L221.4,276.1 L218.4,273.7 L215.5,271.1 L212.7,268.3 L209.9,265.3 L207.3,262.2 L204.7,258.8 L202.3,255.3 L200.0,251.7 L197.9,248.0 L195.9,244.2 L194.0,240.3 L192.4,236.4 L190.9,232.4 L189.6,228.4 L188.5,224.4 L187.6,220.4 L187.0,216.5 L186.5,212.7 L186.2,208.9 L186.2,205.2 L186.4,201.6 L186.7,198.2 L187.3,195.0 L188.1,191.9 L189.1,189.0 L190.3,186.3 L191.7,183.8 L193.3,181.5 L195.1,179.5 L197.0,177.7 L199.1,176.2 L201.3,175.0 L203.7,174.0 L206.2,173.3 L208.8,172.8 L211.5,172.7 L214.3,172.8 L217.2,173.2 L220.1,173.9 L223.1,174.9 L226.1,176.1 L229.1,177.7 L232.1,179.4 L235.1,181.4 L238.1,183.7 L241.0,186.2 L243.9,188.9 L246.7,191.8 L249.4,194.8 L252.0,198.1 L254.5,201.5 L256.9,205.0 L259.1,208.7 L261.2,212.5 Z" fill="#fff" fill-rule="evenodd" stroke="#111" stroke-width="1.2"/>
<ellipse cx="217.0" cy="232.5" rx="57.7" ry="93.0" transform="rotate(-29.5 217.0 232.5)" stroke="#111" stroke-width="1.2" fill="none" />
<path d="M168.9,153.2 L172.1,150.9 L175.6,149.0 L179.2,147.4 L183.0,146.3 L187.0,145.5 L191.1,145.2 L195.4,145.2 L199.8,145.6 L204.3,146.5 L208.8,147.7 L213.4,149.3 L218.0,151.3 L222.7,153.6 L227.3,156.3 L231.9,159.4 L236.4,162.8 L240.8,166.5 L245.2,170.5 L249.4,174.8 L253.5,179.4 L257.4,184.2 L261.2,189.2 L264.7,194.4 L268.1,199.8 L271.2,205.3 L274.1,210.9 L276.7,216.7 L279.1,222.4 L281.2,228.3 L283.0,234.1 L284.5,240.0 L285.7,245.8 L286.6,251.5 L287.2,257.1 L287.4,262.6 L287.4,268.0 L287.0,273.2 L286.3,278.1 L285.3,282.9 L284.0,287.4 L282.5,291.7 L280.6,295.7 L278.4,299.4 L275.9,302.7 L273.2,305.8 L270.3,308.4 L267.1,310.8 L263.7,312.7 L260.1,314.3" stroke="#333" stroke-width="0.7" fill="none"/>
<path d="M170.9,152.0 L174.1,149.7 L177.6,147.8 L181.2,146.2 L185.0,145.1 L189.0,144.3 L193.1,144.0 L197.4,144.0 L201.8,144.4 L206.3,145.3 L210.8,146.5 L215.4,148.1 L220.0,150.1 L224.7,152.4 L229.3,155.1 L233.9,158.2 L238.4,161.6 L242.8,165.3 L247.2,169.3 L251.4,173.6 L255.5,178.2 L259.4,183.0 L263.2,188.0 L266.7,193.2 L270.1,198.6 L273.2,204.1 L276.1,209.7 L278.7,215.5 L281.1,221.2 L283.2,227.1 L285.0,232.9 L286.5,238.8 L287.7,244.6 L288.6,250.3 L289.2,255.9 L289.4,261.4 L289.4,266.8 L289.0,272.0 L288.3,276.9 L287.3,281.7 L286.0,286.2 L284.5,290.5 L282.6,294.5 L280.4,298.2 L277.9,301.5 L275.2,304.6 L272.3,307.2 L269.1,309.6 L265.7,311.5 L262.1,313.1" stroke="#333" stroke-width="0.7" fill="none"/>
<path d="M172.4,151.1 L175.6,148.8 L179.1,146.9 L182.7,145.3 L186.5,144.2 L190.5,143.4 L194.6,143.1 L198.9,143.1 L203.3,143.5 L207.8,144.4 L212.3,145.6 L216.9,147.2 L221.5,149.2 L226.2,151.5 L230.8,154.2 L235.4,157.3 L239.9,160.7 L244.3,164.4 L248.7,168.4 L252.9,172.7 L257.0,177.3 L260.9,182.1 L264.7,187.1 L268.2,192.3 L271.6,197.7 L274.7,203.2 L277.6,208.8 L280.2,214.6 L282.6,220.3 L284.7,226.2 L286.5,232.0 L288.0,237.9 L289.2,243.7 L290.1,249.4 L290.7,255.0 L290.9,260.5 L290.9,265.9 L290.5,271.1 L289.8,276.0 L288.8,280.8 L287.5,285.3 L286.0,289.6 L284.1,293.6 L281.9,297.3 L279.4,300.6 L276.7,303.7 L273.8,306.3 L270.6,308.7 L267.2,310.6 L263.6,312.2" stroke="#333" stroke-width="0.7" fill="none"/>
<ellipse cx="218.0" cy="231.5" rx="50.2" ry="81.0" transform="rotate(-29.5 218.0 231.5)" stroke="#333" stroke-width="0.8" fill="none" />
<ellipse cx="219.0" cy="231.0" rx="45.9" ry="74.0" transform="rotate(-29.5 219.0 231.0)" stroke="#555" stroke-width="0.7" fill="none" />
<ellipse cx="228.0" cy="229.5" rx="39.0" ry="65.0" transform="rotate(-28 228.0 229.5)" stroke="#333" stroke-width="0.8" fill="none" />
<clipPath id="h15"><path d="M261.2,212.5 L263.1,216.3 L264.8,220.3 L266.4,224.2 L267.8,228.2 L269.0,232.2 L269.9,236.2 L270.7,240.1 L271.3,244.0 L271.7,247.8 L271.8,251.6 L271.8,255.2 L271.5,258.7 L271.0,262.0 L270.3,265.2 L269.4,268.2 L268.3,271.0 L267.0,273.6 L265.5,276.0 L263.8,278.1 L262.0,280.0 L260.0,281.7 L257.8,283.1 L255.5,284.2 L253.1,285.0 L250.5,285.6 L247.9,285.9 L245.1,285.9 L242.3,285.6 L239.4,285.0 L236.4,284.2 L233.4,283.1 L230.4,281.7 L227.4,280.1 L224.4,278.2 L221.4,276.1 L218.4,273.7 L215.5,271.1 L212.7,268.3 L209.9,265.3 L207.3,262.2 L204.7,258.8 L202.3,255.3 L200.0,251.7 L197.9,248.0 L195.9,244.2 L194.0,240.3 L192.4,236.4 L190.9,232.4 L189.6,228.4 L188.5,224.4 L187.6,220.4 L187.0,216.5 L186.5,212.7 L186.2,208.9 L186.2,205.2 L186.4,201.6 L186.7,198.2 L187.3,195.0 L188.1,191.9 L189.1,189.0 L190.3,186.3 L191.7,183.8 L193.3,181.5 L195.1,179.5 L197.0,177.7 L199.1,176.2 L201.3,175.0 L203.7,174.0 L206.2,173.3 L208.8,172.8 L211.5,172.7 L214.3,172.8 L217.2,173.2 L220.1,173.9 L223.1,174.9 L226.1,176.1 L229.1,177.7 L232.1,179.4 L235.1,181.4 L238.1,183.7 L241.0,186.2 L243.9,188.9 L246.7,191.8 L249.4,194.8 L252.0,198.1 L254.5,201.5 L256.9,205.0 L259.1,208.7 L261.2,212.5 Z"/></clipPath>
<g clip-path="url(#h15)">
<ellipse cx="236.0" cy="225.1" rx="36.3" ry="61.0" transform="rotate(-27.6 236.0 225.1)" stroke="#222" stroke-width="1.4" fill="none" />
</g>
<ellipse cx="213.5" cy="163.5" rx="1.3" ry="1.6" transform="rotate(0 213.5 163.5)" stroke="#111" stroke-width="0.9" fill="none" />
<path d="M169.5,230.9 L169.5,230.3 L169.6,229.7 L169.7,229.2 L169.8,228.7 L170.0,228.2 L170.2,227.8 L170.5,227.4 L170.8,227.1 L171.2,226.8 L171.6,226.6 L196.0,213.5 L196.4,213.3 L196.9,213.2 L197.3,213.1 L197.8,213.1 L198.3,213.2 L198.9,213.3 L199.4,213.5 L199.9,213.7 L200.5,214.0 L201.0,214.4 L201.5,214.8 L202.1,215.2 L202.6,215.7 L203.0,216.2 L203.5,216.7 L203.9,217.3 L204.3,217.9 L204.7,218.6 L205.0,219.2 L205.3,219.9 L205.6,220.5 L205.8,221.2 L205.9,221.8 L206.0,222.5 L206.1,223.1 L206.1,223.7 L206.1,224.3 L206.0,224.9 L205.9,225.4 L205.7,225.9 L205.5,226.3 L205.2,226.7 L204.9,227.1 L204.6,227.4 L204.2,227.6 L179.8,240.7 L179.4,240.9 L179.0,241.1 L178.5,241.1 L178.0,241.2 L177.5,241.1 L177.0,241.0 L176.5,240.9 L175.9,240.7 L175.4,240.4 L174.8,240.1 L174.3,239.7 L173.8,239.3 L173.3,238.9 L172.8,238.4 L172.3,237.8 L171.9,237.3 L171.5,236.7 L171.1,236.1 L170.7,235.4 L170.4,234.8 L170.2,234.1 L169.9,233.5 L169.8,232.8 L169.6,232.1 L169.5,231.5 Z" stroke="#111" stroke-width="1.5" fill="#fff" stroke-linejoin="round"/>
<path d="M174.2,225.2 L174.7,224.9 L175.2,224.8 L175.8,224.7 L176.4,224.7 L177.0,224.8 L177.7,225.0 L178.3,225.3 L179.0,225.6 L179.6,226.0 L180.3,226.5 L180.9,227.1 L181.5,227.7 L182.0,228.4 L182.6,229.1 L183.0,229.9 L183.4,230.7 L183.8,231.5 L184.1,232.3 L184.3,233.1 L184.5,233.9 L184.6,234.6 L184.6,235.4 L184.5,236.1 L184.4,236.8 L184.2,237.4 L183.9,237.9 L183.6,238.4 L183.2,238.8 L182.8,239.1" stroke="#111" stroke-width="1.5" fill="none"/>
<path d="M177.0,223.6 L177.5,223.4 L178.1,223.2 L178.6,223.2 L179.2,223.2 L179.9,223.3 L180.5,223.4 L181.2,223.7 L181.8,224.1 L182.5,224.5 L183.1,225.0 L183.8,225.6 L184.4,226.2 L184.9,226.9 L185.4,227.6 L185.9,228.3 L186.3,229.1 L186.7,229.9 L187.0,230.7 L187.2,231.5 L187.3,232.3 L187.4,233.1 L187.4,233.8 L187.4,234.6 L187.3,235.2 L187.1,235.8 L186.8,236.4 L186.5,236.9 L186.1,237.3 L185.7,237.6" stroke="#111" stroke-width="1.5" fill="none"/>
<path d="M179.9,222.1 L180.4,221.9 L180.9,221.7 L181.5,221.6 L182.1,221.6 L182.7,221.7 L183.4,221.9 L184.1,222.2 L184.7,222.5 L185.4,223.0 L186.0,223.4 L186.6,224.0 L187.2,224.6 L187.8,225.3 L188.3,226.0 L188.8,226.8 L189.2,227.6 L189.5,228.4 L189.8,229.2 L190.1,230.0 L190.2,230.8 L190.3,231.6 L190.3,232.3 L190.3,233.0 L190.1,233.7 L189.9,234.3 L189.7,234.8 L189.3,235.3 L189.0,235.7 L188.5,236.1" stroke="#111" stroke-width="1.5" fill="none"/>
<path d="M182.8,220.6 L183.3,220.3 L183.8,220.1 L184.4,220.1 L185.0,220.1 L185.6,220.2 L186.3,220.4 L186.9,220.6 L187.6,221.0 L188.2,221.4 L188.9,221.9 L189.5,222.5 L190.1,223.1 L190.7,223.8 L191.2,224.5 L191.6,225.2 L192.0,226.0 L192.4,226.8 L192.7,227.6 L192.9,228.4 L193.1,229.2 L193.2,230.0 L193.2,230.8 L193.1,231.5 L193.0,232.1 L192.8,232.7 L192.5,233.3 L192.2,233.8 L191.8,234.2 L191.4,234.5" stroke="#111" stroke-width="1.5" fill="none"/>
<path d="M185.6,219.0 L186.1,218.8 L186.7,218.6 L187.3,218.5 L187.9,218.5 L188.5,218.6 L189.1,218.8 L189.8,219.1 L190.5,219.4 L191.1,219.9 L191.8,220.4 L192.4,220.9 L193.0,221.6 L193.5,222.2 L194.0,222.9 L194.5,223.7 L194.9,224.5 L195.3,225.3 L195.6,226.1 L195.8,226.9 L196.0,227.7 L196.0,228.5 L196.1,229.2 L196.0,229.9 L195.9,230.6 L195.7,231.2 L195.4,231.8 L195.1,232.2 L194.7,232.6 L194.3,233.0" stroke="#111" stroke-width="1.5" fill="none"/>
<path d="M188.5,217.5 L189.0,217.2 L189.5,217.1 L190.1,217.0 L190.7,217.0 L191.4,217.1 L192.0,217.3 L192.7,217.6 L193.3,217.9 L194.0,218.3 L194.6,218.8 L195.2,219.4 L195.8,220.0 L196.4,220.7 L196.9,221.4 L197.4,222.2 L197.8,222.9 L198.1,223.7 L198.4,224.6 L198.7,225.4 L198.8,226.2 L198.9,226.9 L198.9,227.7 L198.9,228.4 L198.7,229.1 L198.6,229.7 L198.3,230.2 L198.0,230.7 L197.6,231.1 L197.1,231.4" stroke="#111" stroke-width="1.5" fill="none"/>
<path d="M191.4,215.9 L191.9,215.7 L192.4,215.5 L193.0,215.4 L193.6,215.5 L194.2,215.6 L194.9,215.7 L195.5,216.0 L196.2,216.4 L196.9,216.8 L197.5,217.3 L198.1,217.8 L198.7,218.5 L199.3,219.1 L199.8,219.9 L200.2,220.6 L200.7,221.4 L201.0,222.2 L201.3,223.0 L201.5,223.8 L201.7,224.6 L201.8,225.4 L201.8,226.1 L201.7,226.8 L201.6,227.5 L201.4,228.1 L201.2,228.7 L200.8,229.2 L200.4,229.6 L200.0,229.9" stroke="#111" stroke-width="1.5" fill="none"/>
<path d="M194.3,214.4 L194.7,214.1 L195.3,214.0 L195.9,213.9 L196.5,213.9 L197.1,214.0 L197.8,214.2 L198.4,214.5 L199.1,214.8 L199.7,215.2 L200.4,215.7 L201.0,216.3 L201.6,216.9 L202.1,217.6 L202.7,218.3 L203.1,219.1 L203.5,219.9 L203.9,220.7 L204.2,221.5 L204.4,222.3 L204.6,223.1 L204.7,223.9 L204.7,224.6 L204.6,225.3 L204.5,226.0 L204.3,226.6 L204.0,227.1 L203.7,227.6 L203.3,228.0 L202.9,228.3" stroke="#111" stroke-width="1.5" fill="none"/>
<ellipse cx="175.6" cy="233.7" rx="5.1" ry="8.2" transform="rotate(-31.7 175.6 233.7)" stroke="#111" stroke-width="1.5" fill="#fff" />
<ellipse cx="175.6" cy="233.7" rx="3.1" ry="4.9" transform="rotate(-31.7 175.6 233.7)" stroke="#111" stroke-width="1.5" fill="none" />
<path d="M192.4,273.2 L192.4,272.6 L192.5,272.0 L192.6,271.5 L192.7,271.0 L192.9,270.5 L193.1,270.1 L193.4,269.7 L193.7,269.4 L194.1,269.1 L194.5,268.9 L220.6,254.3 L221.0,254.1 L221.5,254.0 L221.9,253.9 L222.4,253.9 L222.9,254.0 L223.5,254.1 L224.0,254.3 L224.5,254.5 L225.1,254.8 L225.6,255.2 L226.1,255.6 L226.7,256.0 L227.2,256.5 L227.6,257.0 L228.1,257.5 L228.5,258.1 L228.9,258.7 L229.3,259.4 L229.6,260.0 L229.9,260.7 L230.2,261.3 L230.4,262.0 L230.5,262.6 L230.6,263.3 L230.7,263.9 L230.7,264.5 L230.7,265.1 L230.6,265.7 L230.5,266.2 L230.3,266.7 L230.1,267.1 L229.8,267.5 L229.5,267.9 L229.2,268.2 L228.8,268.4 L202.7,283.0 L202.3,283.2 L201.9,283.4 L201.4,283.4 L200.9,283.5 L200.4,283.4 L199.9,283.3 L199.4,283.2 L198.8,283.0 L198.3,282.7 L197.7,282.4 L197.2,282.0 L196.7,281.6 L196.2,281.2 L195.7,280.7 L195.2,280.1 L194.8,279.6 L194.4,279.0 L194.0,278.4 L193.6,277.7 L193.3,277.1 L193.1,276.4 L192.8,275.8 L192.7,275.1 L192.5,274.4 L192.4,273.8 Z" stroke="#111" stroke-width="1.5" fill="#fff" stroke-linejoin="round"/>
<path d="M197.3,267.3 L197.8,267.1 L198.3,266.9 L198.9,266.8 L199.5,266.8 L200.1,266.9 L200.8,267.1 L201.4,267.4 L202.1,267.7 L202.7,268.2 L203.4,268.7 L204.0,269.2 L204.6,269.8 L205.1,270.5 L205.7,271.2 L206.1,272.0 L206.5,272.8 L206.9,273.6 L207.2,274.4 L207.4,275.2 L207.6,276.0 L207.7,276.8 L207.7,277.5 L207.6,278.2 L207.5,278.9 L207.3,279.5 L207.0,280.0 L206.7,280.5 L206.3,280.9 L205.9,281.3" stroke="#111" stroke-width="1.5" fill="none"/>
<path d="M200.3,265.6 L200.8,265.3 L201.4,265.2 L201.9,265.1 L202.5,265.1 L203.2,265.2 L203.8,265.4 L204.5,265.7 L205.1,266.0 L205.8,266.4 L206.4,266.9 L207.1,267.5 L207.7,268.1 L208.2,268.8 L208.7,269.5 L209.2,270.3 L209.6,271.1 L210.0,271.9 L210.3,272.7 L210.5,273.5 L210.6,274.3 L210.7,275.0 L210.7,275.8 L210.7,276.5 L210.6,277.2 L210.4,277.8 L210.1,278.3 L209.8,278.8 L209.4,279.2 L209.0,279.5" stroke="#111" stroke-width="1.5" fill="none"/>
<path d="M203.4,263.9 L203.9,263.6 L204.4,263.5 L205.0,263.4 L205.6,263.4 L206.2,263.5 L206.9,263.7 L207.6,263.9 L208.2,264.3 L208.9,264.7 L209.5,265.2 L210.1,265.8 L210.7,266.4 L211.3,267.1 L211.8,267.8 L212.3,268.6 L212.7,269.3 L213.0,270.1 L213.3,270.9 L213.6,271.8 L213.7,272.6 L213.8,273.3 L213.8,274.1 L213.8,274.8 L213.6,275.4 L213.4,276.1 L213.2,276.6 L212.8,277.1 L212.5,277.5 L212.0,277.8" stroke="#111" stroke-width="1.5" fill="none"/>
<path d="M206.5,262.2 L207.0,261.9 L207.5,261.7 L208.1,261.7 L208.7,261.7 L209.3,261.8 L210.0,262.0 L210.6,262.2 L211.3,262.6 L211.9,263.0 L212.6,263.5 L213.2,264.1 L213.8,264.7 L214.4,265.4 L214.9,266.1 L215.3,266.8 L215.7,267.6 L216.1,268.4 L216.4,269.2 L216.6,270.0 L216.8,270.8 L216.9,271.6 L216.9,272.4 L216.8,273.1 L216.7,273.7 L216.5,274.3 L216.2,274.9 L215.9,275.4 L215.5,275.8 L215.1,276.1" stroke="#111" stroke-width="1.5" fill="none"/>
<path d="M209.5,260.4 L210.0,260.2 L210.6,260.0 L211.2,259.9 L211.8,260.0 L212.4,260.1 L213.0,260.2 L213.7,260.5 L214.4,260.9 L215.0,261.3 L215.7,261.8 L216.3,262.3 L216.9,263.0 L217.4,263.6 L217.9,264.4 L218.4,265.1 L218.8,265.9 L219.2,266.7 L219.5,267.5 L219.7,268.3 L219.9,269.1 L219.9,269.9 L220.0,270.6 L219.9,271.3 L219.8,272.0 L219.6,272.6 L219.3,273.2 L219.0,273.7 L218.6,274.1 L218.2,274.4" stroke="#111" stroke-width="1.5" fill="none"/>
<path d="M212.6,258.7 L213.1,258.5 L213.6,258.3 L214.2,258.2 L214.8,258.2 L215.5,258.3 L216.1,258.5 L216.8,258.8 L217.4,259.1 L218.1,259.6 L218.7,260.1 L219.3,260.6 L219.9,261.3 L220.5,261.9 L221.0,262.6 L221.5,263.4 L221.9,264.2 L222.2,265.0 L222.5,265.8 L222.8,266.6 L222.9,267.4 L223.0,268.2 L223.0,268.9 L223.0,269.6 L222.8,270.3 L222.7,270.9 L222.4,271.5 L222.1,271.9 L221.7,272.3 L221.2,272.7" stroke="#111" stroke-width="1.5" fill="none"/>
<path d="M215.7,257.0 L216.2,256.8 L216.7,256.6 L217.3,256.5 L217.9,256.5 L218.5,256.6 L219.2,256.8 L219.8,257.1 L220.5,257.4 L221.2,257.9 L221.8,258.3 L222.4,258.9 L223.0,259.5 L223.6,260.2 L224.1,260.9 L224.5,261.7 L225.0,262.5 L225.3,263.3 L225.6,264.1 L225.8,264.9 L226.0,265.7 L226.1,266.5 L226.1,267.2 L226.0,267.9 L225.9,268.6 L225.7,269.2 L225.5,269.7 L225.1,270.2 L224.7,270.6 L224.3,271.0" stroke="#111" stroke-width="1.5" fill="none"/>
<path d="M218.8,255.3 L219.2,255.0 L219.8,254.9 L220.4,254.8 L221.0,254.8 L221.6,254.9 L222.3,255.1 L222.9,255.4 L223.6,255.7 L224.2,256.1 L224.9,256.6 L225.5,257.2 L226.1,257.8 L226.6,258.5 L227.2,259.2 L227.6,260.0 L228.0,260.8 L228.4,261.6 L228.7,262.4 L228.9,263.2 L229.1,264.0 L229.2,264.7 L229.2,265.5 L229.1,266.2 L229.0,266.9 L228.8,267.5 L228.5,268.0 L228.2,268.5 L227.8,268.9 L227.4,269.2" stroke="#111" stroke-width="1.5" fill="none"/>
<ellipse cx="198.5" cy="276.0" rx="5.1" ry="8.2" transform="rotate(-31.7 198.5 276.0)" stroke="#111" stroke-width="1.5" fill="#fff" />
<ellipse cx="198.5" cy="276.0" rx="3.1" ry="4.9" transform="rotate(-31.7 198.5 276.0)" stroke="#111" stroke-width="1.5" fill="none" />
<path d="M170.6,325.6 L170.6,325.0 L170.7,324.4 L170.8,323.9 L170.9,323.4 L171.1,322.9 L171.3,322.5 L171.6,322.1 L171.9,321.8 L172.3,321.5 L172.7,321.3 L190.3,311.8 L190.7,311.6 L191.2,311.5 L191.6,311.4 L192.1,311.4 L192.6,311.5 L193.2,311.6 L193.7,311.8 L194.2,312.0 L194.8,312.3 L195.3,312.7 L195.8,313.1 L196.4,313.5 L196.9,314.0 L197.3,314.5 L197.8,315.0 L198.2,315.6 L198.6,316.2 L199.0,316.9 L199.3,317.5 L199.6,318.2 L199.9,318.8 L200.1,319.5 L200.2,320.1 L200.3,320.8 L200.4,321.4 L200.4,322.0 L200.4,322.6 L200.3,323.2 L200.2,323.7 L200.0,324.2 L199.8,324.6 L199.5,325.0 L199.2,325.4 L198.9,325.7 L198.5,325.9 L180.9,335.4 L180.5,335.6 L180.1,335.8 L179.6,335.8 L179.1,335.9 L178.6,335.8 L178.1,335.7 L177.6,335.6 L177.0,335.4 L176.5,335.1 L175.9,334.8 L175.4,334.4 L174.9,334.0 L174.4,333.6 L173.9,333.1 L173.4,332.5 L173.0,332.0 L172.6,331.4 L172.2,330.8 L171.8,330.1 L171.5,329.5 L171.3,328.8 L171.0,328.2 L170.9,327.5 L170.7,326.8 L170.6,326.2 Z" stroke="#111" stroke-width="1.5" fill="#fff" stroke-linejoin="round"/>
<path d="M174.5,320.3 L175.0,320.1 L175.5,319.9 L176.1,319.8 L176.7,319.8 L177.3,319.9 L178.0,320.1 L178.6,320.4 L179.3,320.7 L179.9,321.2 L180.6,321.7 L181.2,322.2 L181.8,322.8 L182.3,323.5 L182.9,324.2 L183.3,325.0 L183.7,325.8 L184.1,326.6 L184.4,327.4 L184.6,328.2 L184.8,329.0 L184.9,329.8 L184.9,330.5 L184.8,331.2 L184.7,331.9 L184.5,332.5 L184.2,333.0 L183.9,333.5 L183.5,333.9 L183.1,334.3" stroke="#111" stroke-width="1.5" fill="none"/>
<path d="M176.5,319.2 L177.0,318.9 L177.6,318.8 L178.1,318.7 L178.7,318.7 L179.4,318.8 L180.0,319.0 L180.7,319.3 L181.3,319.6 L182.0,320.0 L182.6,320.5 L183.3,321.1 L183.9,321.7 L184.4,322.4 L184.9,323.1 L185.4,323.9 L185.8,324.7 L186.2,325.5 L186.5,326.3 L186.7,327.1 L186.8,327.9 L186.9,328.6 L186.9,329.4 L186.9,330.1 L186.8,330.8 L186.6,331.4 L186.3,331.9 L186.0,332.4 L185.6,332.8 L185.2,333.1" stroke="#111" stroke-width="1.5" fill="none"/>
<path d="M178.6,318.1 L179.1,317.8 L179.6,317.7 L180.2,317.6 L180.8,317.6 L181.4,317.7 L182.1,317.9 L182.8,318.1 L183.4,318.5 L184.1,318.9 L184.7,319.4 L185.3,320.0 L185.9,320.6 L186.5,321.3 L187.0,322.0 L187.5,322.8 L187.9,323.5 L188.2,324.3 L188.5,325.1 L188.8,326.0 L188.9,326.8 L189.0,327.5 L189.0,328.3 L189.0,329.0 L188.8,329.6 L188.6,330.3 L188.4,330.8 L188.0,331.3 L187.7,331.7 L187.2,332.0" stroke="#111" stroke-width="1.5" fill="none"/>
<path d="M180.7,317.0 L181.2,316.7 L181.7,316.5 L182.3,316.5 L182.9,316.5 L183.5,316.6 L184.2,316.8 L184.8,317.0 L185.5,317.4 L186.1,317.8 L186.8,318.3 L187.4,318.9 L188.0,319.5 L188.6,320.2 L189.1,320.9 L189.5,321.6 L189.9,322.4 L190.3,323.2 L190.6,324.0 L190.8,324.8 L191.0,325.6 L191.1,326.4 L191.1,327.2 L191.0,327.9 L190.9,328.5 L190.7,329.1 L190.4,329.7 L190.1,330.2 L189.7,330.6 L189.3,330.9" stroke="#111" stroke-width="1.5" fill="none"/>
<path d="M182.7,315.8 L183.2,315.6 L183.8,315.4 L184.4,315.3 L185.0,315.4 L185.6,315.5 L186.2,315.6 L186.9,315.9 L187.6,316.3 L188.2,316.7 L188.9,317.2 L189.5,317.7 L190.1,318.4 L190.6,319.0 L191.1,319.8 L191.6,320.5 L192.0,321.3 L192.4,322.1 L192.7,322.9 L192.9,323.7 L193.1,324.5 L193.1,325.3 L193.2,326.0 L193.1,326.7 L193.0,327.4 L192.8,328.0 L192.5,328.6 L192.2,329.1 L191.8,329.5 L191.4,329.8" stroke="#111" stroke-width="1.5" fill="none"/>
<path d="M184.8,314.7 L185.3,314.5 L185.8,314.3 L186.4,314.2 L187.0,314.2 L187.7,314.3 L188.3,314.5 L189.0,314.8 L189.6,315.1 L190.3,315.6 L190.9,316.1 L191.5,316.6 L192.1,317.3 L192.7,317.9 L193.2,318.6 L193.7,319.4 L194.1,320.2 L194.4,321.0 L194.7,321.8 L195.0,322.6 L195.1,323.4 L195.2,324.2 L195.2,324.9 L195.2,325.6 L195.0,326.3 L194.9,326.9 L194.6,327.5 L194.3,327.9 L193.9,328.3 L193.4,328.7" stroke="#111" stroke-width="1.5" fill="none"/>
<path d="M186.9,313.6 L187.4,313.4 L187.9,313.2 L188.5,313.1 L189.1,313.1 L189.7,313.2 L190.4,313.4 L191.0,313.7 L191.7,314.0 L192.4,314.5 L193.0,314.9 L193.6,315.5 L194.2,316.1 L194.8,316.8 L195.3,317.5 L195.7,318.3 L196.2,319.1 L196.5,319.9 L196.8,320.7 L197.0,321.5 L197.2,322.3 L197.3,323.1 L197.3,323.8 L197.2,324.5 L197.1,325.2 L196.9,325.8 L196.7,326.3 L196.3,326.8 L195.9,327.2 L195.5,327.6" stroke="#111" stroke-width="1.5" fill="none"/>
<path d="M189.0,312.5 L189.4,312.2 L190.0,312.1 L190.6,312.0 L191.2,312.0 L191.8,312.1 L192.5,312.3 L193.1,312.6 L193.8,312.9 L194.4,313.3 L195.1,313.8 L195.7,314.4 L196.3,315.0 L196.8,315.7 L197.4,316.4 L197.8,317.2 L198.2,318.0 L198.6,318.8 L198.9,319.6 L199.1,320.4 L199.3,321.2 L199.4,321.9 L199.4,322.7 L199.3,323.4 L199.2,324.1 L199.0,324.7 L198.7,325.2 L198.4,325.7 L198.0,326.1 L197.6,326.4" stroke="#111" stroke-width="1.5" fill="none"/>
<ellipse cx="176.7" cy="328.4" rx="5.1" ry="8.2" transform="rotate(-31.7 176.7 328.4)" stroke="#111" stroke-width="1.5" fill="#fff" />
<ellipse cx="176.7" cy="328.4" rx="3.1" ry="4.9" transform="rotate(-31.7 176.7 328.4)" stroke="#111" stroke-width="1.5" fill="none" />
<path d="M191.6,310.7 L191.6,310.1 L191.7,309.5 L191.8,309.0 L191.9,308.5 L192.1,308.0 L192.3,307.6 L192.6,307.2 L192.9,306.9 L193.3,306.6 L217.1,293.0 L217.5,292.8 L217.9,292.6 L218.4,292.5 L218.8,292.4 L219.3,292.4 L219.8,292.5 L220.4,292.6 L220.9,292.8 L221.4,293.0 L222.0,293.3 L222.5,293.7 L223.0,294.1 L223.6,294.5 L224.1,295.0 L224.5,295.5 L225.0,296.0 L225.4,296.6 L225.8,297.2 L226.2,297.9 L226.5,298.5 L226.8,299.2 L227.1,299.8 L227.3,300.5 L227.4,301.1 L227.5,301.8 L227.6,302.4 L227.6,303.0 L227.6,303.6 L227.5,304.2 L227.4,304.7 L227.2,305.2 L227.0,305.6 L226.7,306.0 L226.4,306.4 L226.1,306.7 L225.7,306.9 L201.9,320.5 L201.5,320.7 L201.1,320.9 L200.6,320.9 L200.1,321.0 L199.6,320.9 L199.1,320.8 L198.6,320.7 L198.0,320.5 L197.5,320.2 L196.9,319.9 L196.4,319.5 L195.9,319.1 L195.4,318.7 L194.9,318.2 L194.4,317.6 L194.0,317.1 L193.6,316.5 L193.2,315.9 L192.8,315.2 L192.5,314.6 L192.3,313.9 L192.0,313.3 L191.9,312.6 L191.7,311.9 L191.6,311.3 Z" stroke="#111" stroke-width="1.5" fill="#fff" stroke-linejoin="round"/>
<path d="M196.2,304.9 L196.7,304.7 L197.2,304.5 L197.8,304.4 L198.4,304.4 L199.0,304.5 L199.7,304.7 L200.3,305.0 L201.0,305.3 L201.7,305.8 L202.3,306.3 L202.9,306.8 L203.5,307.5 L204.1,308.1 L204.6,308.9 L205.1,309.6 L205.5,310.4 L205.8,311.2 L206.1,312.0 L206.3,312.8 L206.5,313.6 L206.6,314.4 L206.6,315.1 L206.5,315.8 L206.4,316.5 L206.2,317.1 L206.0,317.7 L205.6,318.1 L205.3,318.5 L204.8,318.9" stroke="#111" stroke-width="1.5" fill="none"/>
<path d="M199.0,303.3 L199.5,303.1 L200.0,302.9 L200.6,302.8 L201.2,302.8 L201.8,302.9 L202.5,303.1 L203.1,303.4 L203.8,303.7 L204.5,304.2 L205.1,304.7 L205.7,305.2 L206.3,305.9 L206.9,306.5 L207.4,307.3 L207.9,308.0 L208.3,308.8 L208.6,309.6 L208.9,310.4 L209.1,311.2 L209.3,312.0 L209.4,312.8 L209.4,313.5 L209.3,314.2 L209.2,314.9 L209.0,315.5 L208.8,316.1 L208.4,316.5 L208.1,316.9 L207.6,317.3" stroke="#111" stroke-width="1.5" fill="none"/>
<path d="M201.8,301.7 L202.3,301.5 L202.8,301.3 L203.4,301.2 L204.0,301.2 L204.6,301.3 L205.3,301.5 L205.9,301.8 L206.6,302.1 L207.3,302.6 L207.9,303.1 L208.5,303.6 L209.1,304.3 L209.7,304.9 L210.2,305.7 L210.7,306.4 L211.1,307.2 L211.4,308.0 L211.7,308.8 L211.9,309.6 L212.1,310.4 L212.2,311.2 L212.2,311.9 L212.1,312.6 L212.0,313.3 L211.8,313.9 L211.6,314.5 L211.2,314.9 L210.9,315.3 L210.4,315.7" stroke="#111" stroke-width="1.5" fill="none"/>
<path d="M204.6,300.1 L205.1,299.9 L205.6,299.7 L206.2,299.6 L206.8,299.6 L207.4,299.7 L208.1,299.9 L208.7,300.2 L209.4,300.5 L210.1,301.0 L210.7,301.5 L211.3,302.0 L211.9,302.7 L212.5,303.3 L213.0,304.1 L213.5,304.8 L213.9,305.6 L214.2,306.4 L214.5,307.2 L214.7,308.0 L214.9,308.8 L215.0,309.6 L215.0,310.3 L214.9,311.0 L214.8,311.7 L214.6,312.3 L214.4,312.9 L214.0,313.3 L213.7,313.7 L213.2,314.1" stroke="#111" stroke-width="1.5" fill="none"/>
<path d="M207.4,298.5 L207.9,298.3 L208.4,298.1 L209.0,298.0 L209.6,298.0 L210.2,298.1 L210.9,298.3 L211.5,298.6 L212.2,298.9 L212.9,299.4 L213.5,299.9 L214.1,300.4 L214.7,301.1 L215.3,301.7 L215.8,302.5 L216.3,303.2 L216.7,304.0 L217.0,304.8 L217.3,305.6 L217.5,306.4 L217.7,307.2 L217.8,308.0 L217.8,308.7 L217.7,309.4 L217.6,310.1 L217.4,310.7 L217.2,311.3 L216.8,311.7 L216.5,312.1 L216.0,312.5" stroke="#111" stroke-width="1.5" fill="none"/>
<path d="M210.2,296.9 L210.7,296.7 L211.2,296.5 L211.8,296.4 L212.4,296.4 L213.0,296.5 L213.7,296.7 L214.3,297.0 L215.0,297.3 L215.7,297.8 L216.3,298.3 L216.9,298.8 L217.5,299.5 L218.1,300.1 L218.6,300.9 L219.1,301.6 L219.5,302.4 L219.8,303.2 L220.1,304.0 L220.3,304.8 L220.5,305.6 L220.6,306.4 L220.6,307.1 L220.5,307.8 L220.4,308.5 L220.2,309.1 L220.0,309.7 L219.6,310.1 L219.3,310.5 L218.8,310.9" stroke="#111" stroke-width="1.5" fill="none"/>
<path d="M213.0,295.3 L213.5,295.1 L214.0,294.9 L214.6,294.8 L215.2,294.8 L215.8,294.9 L216.5,295.1 L217.1,295.4 L217.8,295.7 L218.5,296.2 L219.1,296.7 L219.7,297.2 L220.3,297.9 L220.9,298.5 L221.4,299.3 L221.9,300.0 L222.3,300.8 L222.6,301.6 L222.9,302.4 L223.1,303.2 L223.3,304.0 L223.4,304.8 L223.4,305.5 L223.3,306.2 L223.2,306.9 L223.0,307.5 L222.8,308.1 L222.4,308.5 L222.1,308.9 L221.6,309.3" stroke="#111" stroke-width="1.5" fill="none"/>
<path d="M215.8,293.7 L216.3,293.5 L216.8,293.3 L217.4,293.2 L218.0,293.2 L218.6,293.3 L219.3,293.5 L219.9,293.8 L220.6,294.1 L221.3,294.6 L221.9,295.1 L222.5,295.6 L223.1,296.3 L223.7,296.9 L224.2,297.7 L224.7,298.4 L225.1,299.2 L225.4,300.0 L225.7,300.8 L225.9,301.6 L226.1,302.4 L226.2,303.2 L226.2,303.9 L226.1,304.6 L226.0,305.3 L225.8,305.9 L225.6,306.5 L225.2,306.9 L224.9,307.3 L224.4,307.7" stroke="#111" stroke-width="1.5" fill="none"/>
<ellipse cx="197.7" cy="313.5" rx="5.1" ry="8.2" transform="rotate(-31.7 197.7 313.5)" stroke="#111" stroke-width="1.5" fill="#fff" />
<ellipse cx="197.7" cy="313.5" rx="3.1" ry="4.9" transform="rotate(-31.7 197.7 313.5)" stroke="#111" stroke-width="1.5" fill="none" />
<path d="M121.8,203.0 L121.8,202.3 L121.8,201.7 L121.9,201.1 L122.1,200.6 L122.3,200.1 L122.5,199.6 L122.8,199.2 L123.2,198.9 L123.6,198.6 L149.7,183.1 L150.1,182.8 L150.5,182.7 L151.0,182.5 L151.5,182.5 L152.1,182.5 L152.6,182.6 L153.2,182.7 L153.8,182.9 L154.3,183.1 L154.9,183.5 L155.5,183.8 L156.1,184.2 L156.6,184.7 L157.2,185.2 L157.7,185.8 L158.2,186.4 L158.6,187.0 L159.0,187.6 L159.4,188.3 L159.8,189.0 L160.1,189.7 L160.4,190.4 L160.6,191.1 L160.7,191.8 L160.9,192.5 L160.9,193.2 L161.0,193.8 L160.9,194.5 L160.8,195.1 L160.7,195.6 L160.5,196.2 L160.3,196.6 L160.0,197.1 L159.7,197.5 L159.3,197.8 L158.9,198.0 L132.8,213.5 L132.4,213.8 L131.9,213.9 L131.4,214.0 L130.9,214.0 L130.4,214.0 L129.8,213.9 L129.2,213.7 L128.6,213.5 L128.1,213.2 L127.5,212.9 L126.9,212.5 L126.4,212.0 L125.8,211.5 L125.3,211.0 L124.8,210.4 L124.3,209.8 L123.9,209.2 L123.5,208.5 L123.1,207.9 L122.8,207.2 L122.5,206.4 L122.2,205.7 L122.0,205.0 L121.9,204.3 L121.8,203.6 Z" stroke="#111" stroke-width="1.5" fill="#fff" stroke-linejoin="round"/>
<path d="M126.4,196.9 L127.0,196.6 L127.5,196.4 L128.1,196.4 L128.8,196.4 L129.5,196.5 L130.2,196.7 L130.9,197.0 L131.6,197.3 L132.3,197.8 L133.0,198.3 L133.6,198.9 L134.3,199.6 L134.9,200.3 L135.4,201.1 L135.9,201.9 L136.4,202.8 L136.8,203.6 L137.1,204.5 L137.3,205.3 L137.5,206.2 L137.6,207.0 L137.6,207.8 L137.5,208.6 L137.4,209.3 L137.2,210.0 L136.9,210.5 L136.6,211.1 L136.1,211.5 L135.7,211.9" stroke="#111" stroke-width="1.5" fill="none"/>
<path d="M129.2,195.2 L129.7,195.0 L130.3,194.8 L130.9,194.7 L131.5,194.7 L132.2,194.8 L132.9,195.0 L133.6,195.3 L134.3,195.7 L135.0,196.2 L135.7,196.7 L136.4,197.3 L137.0,198.0 L137.6,198.7 L138.2,199.5 L138.7,200.3 L139.1,201.1 L139.5,202.0 L139.8,202.8 L140.1,203.7 L140.2,204.6 L140.3,205.4 L140.3,206.2 L140.3,207.0 L140.2,207.7 L139.9,208.3 L139.7,208.9 L139.3,209.4 L138.9,209.9 L138.4,210.2" stroke="#111" stroke-width="1.5" fill="none"/>
<path d="M131.9,193.6 L132.4,193.4 L133.0,193.2 L133.6,193.1 L134.3,193.1 L135.0,193.2 L135.7,193.4 L136.4,193.7 L137.1,194.1 L137.8,194.5 L138.5,195.1 L139.1,195.7 L139.8,196.3 L140.4,197.1 L140.9,197.8 L141.4,198.6 L141.9,199.5 L142.3,200.3 L142.6,201.2 L142.8,202.1 L143.0,202.9 L143.1,203.8 L143.1,204.6 L143.0,205.3 L142.9,206.0 L142.7,206.7 L142.4,207.3 L142.1,207.8 L141.6,208.2 L141.2,208.6" stroke="#111" stroke-width="1.5" fill="none"/>
<path d="M134.7,192.0 L135.2,191.7 L135.8,191.5 L136.4,191.5 L137.0,191.5 L137.7,191.6 L138.4,191.8 L139.1,192.1 L139.8,192.4 L140.5,192.9 L141.2,193.4 L141.9,194.0 L142.5,194.7 L143.1,195.4 L143.7,196.2 L144.2,197.0 L144.6,197.9 L145.0,198.7 L145.3,199.6 L145.6,200.4 L145.7,201.3 L145.8,202.1 L145.8,202.9 L145.8,203.7 L145.6,204.4 L145.4,205.1 L145.2,205.7 L144.8,206.2 L144.4,206.6 L143.9,207.0" stroke="#111" stroke-width="1.5" fill="none"/>
<path d="M137.4,190.4 L137.9,190.1 L138.5,189.9 L139.1,189.8 L139.8,189.8 L140.5,189.9 L141.2,190.1 L141.9,190.4 L142.6,190.8 L143.3,191.3 L144.0,191.8 L144.6,192.4 L145.3,193.1 L145.9,193.8 L146.4,194.6 L146.9,195.4 L147.4,196.2 L147.7,197.1 L148.1,198.0 L148.3,198.8 L148.5,199.7 L148.6,200.5 L148.6,201.3 L148.5,202.1 L148.4,202.8 L148.2,203.4 L147.9,204.0 L147.6,204.5 L147.1,205.0 L146.7,205.3" stroke="#111" stroke-width="1.5" fill="none"/>
<path d="M140.2,188.7 L140.7,188.5 L141.3,188.3 L141.9,188.2 L142.5,188.2 L143.2,188.3 L143.9,188.5 L144.6,188.8 L145.3,189.2 L146.0,189.6 L146.7,190.2 L147.4,190.8 L148.0,191.4 L148.6,192.2 L149.2,192.9 L149.7,193.8 L150.1,194.6 L150.5,195.5 L150.8,196.3 L151.1,197.2 L151.2,198.0 L151.3,198.9 L151.3,199.7 L151.3,200.4 L151.1,201.1 L150.9,201.8 L150.6,202.4 L150.3,202.9 L149.9,203.3 L149.4,203.7" stroke="#111" stroke-width="1.5" fill="none"/>
<path d="M142.9,187.1 L143.4,186.8 L144.0,186.7 L144.6,186.6 L145.3,186.6 L146.0,186.7 L146.7,186.9 L147.4,187.2 L148.1,187.5 L148.8,188.0 L149.5,188.5 L150.1,189.1 L150.8,189.8 L151.4,190.5 L151.9,191.3 L152.4,192.1 L152.9,193.0 L153.2,193.8 L153.6,194.7 L153.8,195.6 L154.0,196.4 L154.1,197.2 L154.1,198.0 L154.0,198.8 L153.9,199.5 L153.7,200.2 L153.4,200.8 L153.0,201.3 L152.6,201.7 L152.2,202.1" stroke="#111" stroke-width="1.5" fill="none"/>
<path d="M145.7,185.5 L146.2,185.2 L146.8,185.0 L147.4,184.9 L148.0,184.9 L148.7,185.1 L149.4,185.3 L150.1,185.5 L150.8,185.9 L151.5,186.4 L152.2,186.9 L152.9,187.5 L153.5,188.2 L154.1,188.9 L154.7,189.7 L155.2,190.5 L155.6,191.3 L156.0,192.2 L156.3,193.1 L156.5,193.9 L156.7,194.8 L156.8,195.6 L156.8,196.4 L156.8,197.2 L156.6,197.9 L156.4,198.5 L156.1,199.1 L155.8,199.6 L155.4,200.1 L154.9,200.4" stroke="#111" stroke-width="1.5" fill="none"/>
<path d="M148.4,183.8 L148.9,183.6 L149.5,183.4 L150.1,183.3 L150.8,183.3 L151.5,183.4 L152.2,183.6 L152.9,183.9 L153.6,184.3 L154.3,184.7 L155.0,185.3 L155.6,185.9 L156.3,186.6 L156.9,187.3 L157.4,188.0 L157.9,188.9 L158.4,189.7 L158.7,190.6 L159.1,191.4 L159.3,192.3 L159.5,193.1 L159.6,194.0 L159.6,194.8 L159.5,195.5 L159.4,196.3 L159.2,196.9 L158.9,197.5 L158.5,198.0 L158.1,198.4 L157.7,198.8" stroke="#111" stroke-width="1.5" fill="none"/>
<ellipse cx="128.3" cy="206.0" rx="5.5" ry="8.8" transform="rotate(-31.7 128.3 206.0)" stroke="#111" stroke-width="1.5" fill="#fff" />
<ellipse cx="128.3" cy="206.0" rx="3.3" ry="5.3" transform="rotate(-31.7 128.3 206.0)" stroke="#111" stroke-width="1.5" fill="none" />
<path d="M99.8,221.0 L99.8,220.3 L99.8,219.7 L99.9,219.1 L100.1,218.6 L100.3,218.1 L100.5,217.6 L100.8,217.2 L101.2,216.9 L101.6,216.6 L102.0,216.3 L121.7,205.3 L122.1,205.2 L122.6,205.0 L123.1,205.0 L123.7,205.0 L124.2,205.1 L124.8,205.2 L125.4,205.4 L125.9,205.6 L126.5,206.0 L127.1,206.3 L127.7,206.7 L128.2,207.2 L128.8,207.7 L129.3,208.3 L129.8,208.9 L130.2,209.5 L130.6,210.1 L131.0,210.8 L131.4,211.5 L131.7,212.2 L132.0,212.9 L132.2,213.6 L132.3,214.3 L132.5,215.0 L132.5,215.7 L132.6,216.3 L132.5,217.0 L132.4,217.6 L132.3,218.1 L132.1,218.7 L131.9,219.1 L131.6,219.6 L131.3,220.0 L130.9,220.3 L130.5,220.5 L110.8,231.5 L110.4,231.8 L109.9,231.9 L109.4,232.0 L108.9,232.0 L108.4,232.0 L107.8,231.9 L107.2,231.7 L106.6,231.5 L106.1,231.2 L105.5,230.9 L104.9,230.5 L104.4,230.0 L103.8,229.5 L103.3,229.0 L102.8,228.4 L102.3,227.8 L101.9,227.2 L101.5,226.5 L101.1,225.9 L100.8,225.2 L100.5,224.4 L100.2,223.7 L100.0,223.0 L99.9,222.3 L99.8,221.6 Z" stroke="#111" stroke-width="1.5" fill="#fff" stroke-linejoin="round"/>
<path d="M104.3,215.0 L104.8,214.8 L105.4,214.6 L106.0,214.5 L106.7,214.5 L107.4,214.6 L108.1,214.8 L108.8,215.1 L109.5,215.5 L110.2,216.0 L110.9,216.5 L111.5,217.1 L112.2,217.8 L112.8,218.5 L113.3,219.3 L113.8,220.1 L114.3,220.9 L114.6,221.8 L115.0,222.6 L115.2,223.5 L115.4,224.4 L115.5,225.2 L115.5,226.0 L115.4,226.8 L115.3,227.5 L115.1,228.1 L114.8,228.7 L114.4,229.2 L114.0,229.7 L113.6,230.0" stroke="#111" stroke-width="1.5" fill="none"/>
<path d="M106.9,213.6 L107.5,213.3 L108.0,213.1 L108.7,213.1 L109.3,213.1 L110.0,213.2 L110.7,213.4 L111.4,213.7 L112.1,214.0 L112.8,214.5 L113.5,215.0 L114.2,215.6 L114.8,216.3 L115.4,217.0 L115.9,217.8 L116.4,218.6 L116.9,219.4 L117.3,220.3 L117.6,221.2 L117.8,222.0 L118.0,222.9 L118.1,223.7 L118.1,224.5 L118.0,225.3 L117.9,226.0 L117.7,226.7 L117.4,227.2 L117.1,227.8 L116.7,228.2 L116.2,228.6" stroke="#111" stroke-width="1.5" fill="none"/>
<path d="M109.6,212.1 L110.1,211.8 L110.7,211.7 L111.3,211.6 L111.9,211.6 L112.6,211.7 L113.3,211.9 L114.0,212.2 L114.7,212.6 L115.4,213.0 L116.1,213.6 L116.8,214.2 L117.4,214.8 L118.0,215.6 L118.6,216.3 L119.1,217.1 L119.5,218.0 L119.9,218.8 L120.2,219.7 L120.4,220.6 L120.6,221.4 L120.7,222.3 L120.7,223.1 L120.7,223.8 L120.5,224.5 L120.3,225.2 L120.0,225.8 L119.7,226.3 L119.3,226.7 L118.8,227.1" stroke="#111" stroke-width="1.5" fill="none"/>
<path d="M112.2,210.6 L112.7,210.4 L113.3,210.2 L113.9,210.1 L114.6,210.1 L115.2,210.2 L115.9,210.4 L116.6,210.7 L117.4,211.1 L118.1,211.6 L118.7,212.1 L119.4,212.7 L120.0,213.4 L120.6,214.1 L121.2,214.9 L121.7,215.7 L122.1,216.5 L122.5,217.4 L122.8,218.2 L123.1,219.1 L123.2,220.0 L123.3,220.8 L123.4,221.6 L123.3,222.4 L123.2,223.1 L123.0,223.7 L122.7,224.3 L122.3,224.8 L121.9,225.3 L121.4,225.6" stroke="#111" stroke-width="1.5" fill="none"/>
<path d="M114.8,209.2 L115.3,208.9 L115.9,208.7 L116.5,208.7 L117.2,208.7 L117.9,208.8 L118.6,209.0 L119.3,209.3 L120.0,209.6 L120.7,210.1 L121.4,210.6 L122.0,211.2 L122.7,211.9 L123.3,212.6 L123.8,213.4 L124.3,214.2 L124.8,215.0 L125.1,215.9 L125.5,216.8 L125.7,217.6 L125.9,218.5 L126.0,219.3 L126.0,220.1 L125.9,220.9 L125.8,221.6 L125.6,222.3 L125.3,222.8 L124.9,223.4 L124.5,223.8 L124.1,224.2" stroke="#111" stroke-width="1.5" fill="none"/>
<path d="M117.4,207.7 L118.0,207.4 L118.5,207.3 L119.2,207.2 L119.8,207.2 L120.5,207.3 L121.2,207.5 L121.9,207.8 L122.6,208.2 L123.3,208.6 L124.0,209.2 L124.7,209.8 L125.3,210.4 L125.9,211.2 L126.4,211.9 L126.9,212.7 L127.4,213.6 L127.8,214.4 L128.1,215.3 L128.3,216.2 L128.5,217.0 L128.6,217.9 L128.6,218.7 L128.6,219.4 L128.4,220.1 L128.2,220.8 L127.9,221.4 L127.6,221.9 L127.2,222.3 L126.7,222.7" stroke="#111" stroke-width="1.5" fill="none"/>
<path d="M120.1,206.2 L120.6,206.0 L121.2,205.8 L121.8,205.7 L122.4,205.7 L123.1,205.8 L123.8,206.0 L124.5,206.3 L125.2,206.7 L125.9,207.2 L126.6,207.7 L127.3,208.3 L127.9,209.0 L128.5,209.7 L129.1,210.5 L129.6,211.3 L130.0,212.1 L130.4,213.0 L130.7,213.8 L131.0,214.7 L131.1,215.6 L131.2,216.4 L131.2,217.2 L131.2,218.0 L131.0,218.7 L130.8,219.3 L130.6,219.9 L130.2,220.4 L129.8,220.9 L129.3,221.2" stroke="#111" stroke-width="1.5" fill="none"/>
<ellipse cx="106.3" cy="224.0" rx="5.5" ry="8.8" transform="rotate(-31.7 106.3 224.0)" stroke="#111" stroke-width="1.5" fill="#fff" />
<ellipse cx="106.3" cy="224.0" rx="3.3" ry="5.3" transform="rotate(-31.7 106.3 224.0)" stroke="#111" stroke-width="1.5" fill="none" />
<path d="M118.0,252.3 L118.1,251.7 L118.1,251.1 L118.2,250.6 L118.4,250.1 L118.5,249.6 L118.8,249.2 L119.0,248.8 L119.4,248.5 L119.7,248.3 L130.7,241.3 L131.1,241.0 L131.5,240.9 L131.9,240.8 L132.4,240.7 L132.9,240.7 L133.4,240.8 L133.9,240.9 L134.4,241.1 L134.9,241.3 L135.5,241.6 L136.0,241.9 L136.5,242.3 L137.0,242.7 L137.5,243.2 L138.0,243.7 L138.4,244.2 L138.8,244.8 L139.2,245.4 L139.6,246.0 L139.9,246.6 L140.2,247.3 L140.4,247.9 L140.6,248.6 L140.8,249.2 L140.9,249.8 L140.9,250.4 L141.0,251.0 L140.9,251.6 L140.8,252.2 L140.7,252.7 L140.6,253.2 L140.3,253.6 L140.1,254.0 L139.8,254.3 L139.5,254.6 L139.1,254.9 L128.1,261.9 L127.7,262.1 L127.3,262.2 L126.8,262.3 L126.4,262.3 L125.9,262.3 L125.4,262.2 L124.8,262.0 L124.3,261.8 L123.8,261.6 L123.3,261.2 L122.7,260.9 L122.2,260.5 L121.7,260.0 L121.3,259.6 L120.8,259.0 L120.4,258.5 L120.0,257.9 L119.6,257.3 L119.3,256.7 L119.0,256.0 L118.7,255.4 L118.5,254.8 L118.3,254.1 L118.2,253.5 L118.1,252.9 Z" stroke="#111" stroke-width="1.5" fill="#fff" stroke-linejoin="round"/>
<path d="M122.2,246.6 L122.7,246.4 L123.2,246.2 L123.8,246.2 L124.4,246.2 L125.0,246.3 L125.7,246.4 L126.3,246.7 L126.9,247.1 L127.6,247.5 L128.2,248.0 L128.8,248.5 L129.4,249.1 L129.9,249.8 L130.4,250.5 L130.9,251.2 L131.3,252.0 L131.6,252.8 L131.9,253.5 L132.1,254.3 L132.3,255.1 L132.4,255.9 L132.4,256.6 L132.3,257.3 L132.2,257.9 L132.0,258.5 L131.8,259.1 L131.5,259.5 L131.1,259.9 L130.6,260.3" stroke="#111" stroke-width="1.5" fill="none"/>
<path d="M124.7,245.1 L125.2,244.8 L125.7,244.7 L126.3,244.6 L126.8,244.6 L127.5,244.7 L128.1,244.9 L128.7,245.2 L129.4,245.5 L130.0,245.9 L130.6,246.4 L131.3,246.9 L131.8,247.6 L132.4,248.2 L132.9,248.9 L133.3,249.7 L133.7,250.4 L134.1,251.2 L134.4,252.0 L134.6,252.8 L134.7,253.6 L134.8,254.3 L134.8,255.0 L134.8,255.7 L134.7,256.4 L134.5,257.0 L134.2,257.5 L133.9,258.0 L133.5,258.4 L133.1,258.7" stroke="#111" stroke-width="1.5" fill="none"/>
<path d="M127.1,243.5 L127.6,243.3 L128.1,243.1 L128.7,243.1 L129.3,243.1 L129.9,243.2 L130.5,243.3 L131.2,243.6 L131.8,243.9 L132.5,244.4 L133.1,244.8 L133.7,245.4 L134.3,246.0 L134.8,246.7 L135.3,247.4 L135.8,248.1 L136.2,248.9 L136.5,249.6 L136.8,250.4 L137.0,251.2 L137.2,252.0 L137.3,252.8 L137.3,253.5 L137.2,254.2 L137.1,254.8 L136.9,255.4 L136.7,256.0 L136.3,256.4 L136.0,256.8 L135.5,257.1" stroke="#111" stroke-width="1.5" fill="none"/>
<path d="M129.6,242.0 L130.1,241.7 L130.6,241.6 L131.1,241.5 L131.7,241.5 L132.4,241.6 L133.0,241.8 L133.6,242.0 L134.3,242.4 L134.9,242.8 L135.5,243.3 L136.1,243.8 L136.7,244.4 L137.3,245.1 L137.8,245.8 L138.2,246.5 L138.6,247.3 L139.0,248.1 L139.3,248.9 L139.5,249.7 L139.6,250.4 L139.7,251.2 L139.7,251.9 L139.7,252.6 L139.6,253.3 L139.4,253.9 L139.1,254.4 L138.8,254.9 L138.4,255.3 L138.0,255.6" stroke="#111" stroke-width="1.5" fill="none"/>
<ellipse cx="124.0" cy="255.0" rx="5.0" ry="8.0" transform="rotate(-31.7 124.0 255.0)" stroke="#111" stroke-width="1.5" fill="#fff" />
<ellipse cx="124.0" cy="255.0" rx="3.0" ry="4.8" transform="rotate(-31.7 124.0 255.0)" stroke="#111" stroke-width="1.5" fill="none" />
<path d="M140.0,289.3 L140.1,288.7 L140.1,288.1 L140.2,287.6 L140.4,287.1 L140.5,286.6 L140.8,286.2 L141.0,285.8 L141.4,285.5 L141.7,285.3 L150.2,279.8 L150.6,279.5 L151.0,279.4 L151.4,279.3 L151.9,279.2 L152.4,279.2 L152.9,279.3 L153.4,279.4 L153.9,279.6 L154.4,279.8 L155.0,280.1 L155.5,280.4 L156.0,280.8 L156.5,281.2 L157.0,281.7 L157.5,282.2 L157.9,282.7 L158.3,283.3 L158.7,283.9 L159.1,284.5 L159.4,285.1 L159.7,285.8 L159.9,286.4 L160.1,287.1 L160.3,287.7 L160.4,288.3 L160.4,288.9 L160.5,289.5 L160.4,290.1 L160.3,290.7 L160.2,291.2 L160.1,291.7 L159.8,292.1 L159.6,292.5 L159.3,292.8 L159.0,293.1 L158.6,293.4 L150.1,298.9 L149.7,299.1 L149.3,299.2 L148.8,299.3 L148.4,299.3 L147.9,299.3 L147.4,299.2 L146.8,299.0 L146.3,298.8 L145.8,298.6 L145.3,298.2 L144.7,297.9 L144.2,297.5 L143.7,297.0 L143.3,296.6 L142.8,296.0 L142.4,295.5 L142.0,294.9 L141.6,294.3 L141.3,293.7 L141.0,293.0 L140.7,292.4 L140.5,291.8 L140.3,291.1 L140.2,290.5 L140.1,289.9 Z" stroke="#111" stroke-width="1.5" fill="#fff" stroke-linejoin="round"/>
<path d="M143.7,284.0 L144.2,283.7 L144.7,283.6 L145.3,283.5 L145.8,283.5 L146.5,283.6 L147.1,283.8 L147.7,284.0 L148.4,284.4 L149.0,284.8 L149.6,285.3 L150.3,285.8 L150.8,286.4 L151.4,287.1 L151.9,287.8 L152.3,288.5 L152.7,289.3 L153.1,290.1 L153.4,290.9 L153.6,291.7 L153.7,292.4 L153.8,293.2 L153.8,293.9 L153.8,294.6 L153.7,295.3 L153.5,295.9 L153.2,296.4 L152.9,296.9 L152.5,297.3 L152.1,297.6" stroke="#111" stroke-width="1.5" fill="none"/>
<path d="M145.6,282.7 L146.1,282.5 L146.6,282.3 L147.1,282.3 L147.7,282.3 L148.4,282.4 L149.0,282.6 L149.6,282.8 L150.3,283.2 L150.9,283.6 L151.5,284.1 L152.1,284.6 L152.7,285.2 L153.3,285.9 L153.8,286.6 L154.2,287.3 L154.6,288.1 L155.0,288.9 L155.3,289.7 L155.5,290.4 L155.6,291.2 L155.7,292.0 L155.7,292.7 L155.7,293.4 L155.6,294.0 L155.4,294.6 L155.1,295.2 L154.8,295.6 L154.4,296.0 L154.0,296.4" stroke="#111" stroke-width="1.5" fill="none"/>
<path d="M147.5,281.5 L147.9,281.3 L148.5,281.1 L149.0,281.1 L149.6,281.1 L150.2,281.2 L150.9,281.3 L151.5,281.6 L152.2,281.9 L152.8,282.4 L153.4,282.8 L154.0,283.4 L154.6,284.0 L155.2,284.7 L155.7,285.4 L156.1,286.1 L156.5,286.9 L156.9,287.6 L157.1,288.4 L157.4,289.2 L157.5,290.0 L157.6,290.8 L157.6,291.5 L157.6,292.2 L157.4,292.8 L157.3,293.4 L157.0,294.0 L156.7,294.4 L156.3,294.8 L155.9,295.1" stroke="#111" stroke-width="1.5" fill="none"/>
<path d="M149.4,280.3 L149.8,280.1 L150.4,279.9 L150.9,279.8 L151.5,279.8 L152.1,279.9 L152.8,280.1 L153.4,280.4 L154.1,280.7 L154.7,281.1 L155.3,281.6 L155.9,282.2 L156.5,282.8 L157.0,283.4 L157.5,284.1 L158.0,284.9 L158.4,285.6 L158.7,286.4 L159.0,287.2 L159.3,288.0 L159.4,288.8 L159.5,289.5 L159.5,290.3 L159.5,291.0 L159.3,291.6 L159.1,292.2 L158.9,292.7 L158.6,293.2 L158.2,293.6 L157.8,293.9" stroke="#111" stroke-width="1.5" fill="none"/>
<ellipse cx="146.0" cy="292.0" rx="5.0" ry="8.0" transform="rotate(-31.7 146.0 292.0)" stroke="#111" stroke-width="1.5" fill="#fff" />
<ellipse cx="146.0" cy="292.0" rx="3.0" ry="4.8" transform="rotate(-31.7 146.0 292.0)" stroke="#111" stroke-width="1.5" fill="none" />
<path d="M63.8,274.6 L63.8,270.6 L64.2,266.7 L64.9,263.0 L65.9,259.6 L67.2,256.4 L68.8,253.5 L70.7,251.0 L72.9,248.8 L75.3,246.9 L78.8,244.8 L81.4,243.3 L84.3,242.2 L87.4,241.4 L90.6,241.1 L93.9,241.1 L97.4,241.6 L101.0,242.4 L104.6,243.6 L108.2,245.2 L111.9,247.2 L115.5,249.5 L119.1,252.1 L122.6,255.0 L126.0,258.3 L129.2,261.8 L132.3,265.5 L135.2,269.4 L137.9,273.5 L140.3,277.8 L142.6,282.1 L144.5,286.5 L146.2,291.0 L147.5,295.5 L148.6,299.9 L149.4,304.3 L149.8,308.6 L149.9,312.7 L149.7,316.7 L149.2,320.5 L148.3,324.0 L147.2,327.3 L145.7,330.4 L144.0,333.1 L141.9,335.5 L139.6,337.5 L137.1,339.2 L133.6,341.3 L130.9,342.6 L127.9,343.6 L124.8,344.1 L121.5,344.3 L118.1,344.0 L114.5,343.4 L110.9,342.4 L107.3,340.9 L103.6,339.2 L100.0,337.0 L96.4,334.6 L92.9,331.8 L89.4,328.7 L86.1,325.3 L82.9,321.7 L79.9,317.9 L77.1,313.9 L74.6,309.7 L72.2,305.4 L70.1,301.0 L68.3,296.5 L66.8,292.1 L65.6,287.6 L64.7,283.2 L64.1,278.9 Z" stroke="#111" stroke-width="1.2" fill="#fff" stroke-linejoin="round"/>
<ellipse cx="105.1" cy="293.7" rx="34.4" ry="55.5" transform="rotate(-31.7 105.1 293.7)" stroke="#111" stroke-width="1.2" fill="#fff" />
<ellipse cx="105.0" cy="294.0" rx="17.4" ry="28.0" transform="rotate(-31.7 105.0 294.0)" stroke="#111" stroke-width="1.1" fill="none" />
<ellipse cx="105.0" cy="294.0" rx="15.5" ry="25.0" transform="rotate(-31.7 105.0 294.0)" stroke="#666" stroke-width="0.7" fill="none" />
<clipPath id="c7"><ellipse cx="105.5" cy="294.5" rx="12.1" ry="19.5" transform="rotate(-31.7 105.5 294.5)"/></clipPath>
<g clip-path="url(#c7)">
<ellipse cx="109.0" cy="292.3" rx="12.1" ry="19.5" transform="rotate(-31.7 109.0 292.3)" stroke="#111" stroke-width="0.9" fill="none" />
</g>
<ellipse cx="105.5" cy="294.5" rx="12.1" ry="19.5" transform="rotate(-31.7 105.5 294.5)" stroke="#111" stroke-width="1.4" fill="none" />
<ellipse cx="80.0" cy="268.0" rx="3.2" ry="5.0" transform="rotate(-20 80.0 268.0)" stroke="#111" stroke-width="1.1" fill="none" />
<ellipse cx="78.3" cy="296.0" rx="2.6" ry="8.5" transform="rotate(-25 78.3 296.0)" stroke="#111" stroke-width="1.1" fill="none" />
<ellipse cx="127.0" cy="293.0" rx="2.6" ry="8.5" transform="rotate(-25 127.0 293.0)" stroke="#111" stroke-width="1.1" fill="none" />
<ellipse cx="127.5" cy="322.5" rx="3.2" ry="5.0" transform="rotate(-20 127.5 322.5)" stroke="#111" stroke-width="1.1" fill="none" />
<ellipse cx="66.8" cy="274.0" rx="1.3" ry="1.6" transform="rotate(0 66.8 274.0)" stroke="#111" stroke-width="0.9" fill="none" />
<ellipse cx="138.2" cy="316.8" rx="1.3" ry="1.6" transform="rotate(0 138.2 316.8)" stroke="#111" stroke-width="0.9" fill="none" />
<path d="M33.3,315.8 L33.4,314.0 L33.7,312.3 L34.1,310.7 L34.6,309.2 L35.3,307.8 L36.1,306.5 L37.0,305.4 L38.1,304.4 L39.2,303.6 L47.2,299.1 L48.4,298.4 L49.8,297.9 L51.2,297.6 L52.6,297.5 L54.1,297.5 L55.7,297.7 L57.3,298.1 L58.9,298.6 L60.5,299.3 L62.1,300.2 L63.7,301.2 L65.3,302.3 L66.8,303.6 L68.2,305.1 L69.6,306.6 L70.9,308.2 L72.1,310.0 L73.2,311.8 L74.2,313.6 L75.1,315.6 L75.9,317.5 L76.5,319.5 L77.0,321.4 L77.4,323.4 L77.6,325.3 L77.7,327.2 L77.7,329.0 L77.5,330.8 L77.1,332.4 L76.7,334.0 L76.1,335.4 L75.3,336.8 L74.5,338.0 L73.5,339.0 L72.4,339.9 L71.2,340.7 L63.2,345.2 L61.9,345.7 L60.5,346.1 L59.1,346.4 L57.6,346.4 L56.1,346.3 L54.5,346.0 L52.9,345.6 L51.3,345.0 L49.7,344.2 L48.1,343.2 L46.5,342.2 L45.0,340.9 L43.5,339.6 L42.1,338.1 L40.7,336.5 L39.5,334.8 L38.3,333.0 L37.3,331.2 L36.3,329.3 L35.5,327.4 L34.8,325.4 L34.2,323.4 L33.8,321.5 L33.5,319.5 L33.3,317.6 Z" stroke="#111" stroke-width="1.4" fill="#fff" stroke-linejoin="round"/>
<ellipse cx="51.5" cy="324.2" rx="15.8" ry="24.0" transform="rotate(-30 51.5 324.2)" stroke="#111" stroke-width="1.4" fill="#fff" />
<ellipse cx="51.5" cy="324.2" rx="12.9" ry="19.5" transform="rotate(-30 51.5 324.2)" stroke="#111" stroke-width="1.2" fill="none" />
<ellipse cx="52.0" cy="324.2" rx="11.2" ry="17.0" transform="rotate(-30 52.0 324.2)" stroke="#666" stroke-width="0.7" fill="none" />
<ellipse cx="52.5" cy="324.2" rx="9.6" ry="14.5" transform="rotate(-30 52.5 324.2)" stroke="#111" stroke-width="1.7" fill="none" />
<clipPath id="c8"><ellipse cx="53.0" cy="324.4" rx="6.9" ry="10.5" transform="rotate(-30 53.0 324.4)"/></clipPath>
<g clip-path="url(#c8)">
<ellipse cx="58.0" cy="321.4" rx="6.9" ry="10.5" transform="rotate(-30 58.0 321.4)" stroke="#111" stroke-width="1.2" fill="none" />
</g>
<ellipse cx="53.0" cy="324.4" rx="6.9" ry="10.5" transform="rotate(-30 53.0 324.4)" stroke="#111" stroke-width="1.3" fill="none" />
<path d="M43.3,286.4 L43.4,286.2 L43.4,286.0 L43.4,285.8 L43.5,285.7 L43.6,285.5 L43.6,285.4 L43.7,285.3 L43.8,285.2 L44.0,285.1 L53.0,279.6 L53.1,279.5 L53.2,279.4 L53.4,279.4 L53.5,279.4 L53.7,279.4 L53.9,279.4 L54.0,279.5 L54.2,279.5 L54.4,279.6 L54.6,279.7 L54.7,279.8 L54.9,279.9 L55.1,280.1 L55.2,280.2 L55.4,280.4 L55.5,280.6 L55.6,280.8 L55.8,281.0 L55.9,281.2 L56.0,281.4 L56.1,281.6 L56.1,281.8 L56.2,282.0 L56.2,282.2 L56.2,282.4 L56.3,282.6 L56.3,282.8 L56.2,283.0 L56.2,283.2 L56.1,283.4 L56.1,283.5 L56.0,283.7 L55.9,283.8 L55.8,283.9 L55.7,284.0 L55.6,284.1 L46.6,289.6 L46.4,289.6 L46.3,289.7 L46.1,289.7 L46.0,289.7 L45.8,289.7 L45.6,289.7 L45.5,289.6 L45.3,289.5 L45.1,289.5 L44.9,289.4 L44.8,289.2 L44.6,289.1 L44.5,289.0 L44.3,288.8 L44.2,288.6 L44.0,288.4 L43.9,288.2 L43.8,288.0 L43.7,287.8 L43.6,287.6 L43.5,287.4 L43.4,287.2 L43.4,287.0 L43.4,286.8 L43.3,286.6 Z" stroke="#111" stroke-width="1.1" fill="#fff" stroke-linejoin="round"/>
<ellipse cx="45.3" cy="287.3" rx="1.7" ry="2.6" transform="rotate(-30 45.3 287.3)" stroke="#111" stroke-width="1.1" fill="#fff" />
<path d="M3.5,868.5 L3.5,15.5 L728.8,15.5 L728.8,868.5 L3.5,868.5" stroke="#333" stroke-width="1.8" fill="none" stroke-linejoin="round"/>
<path d="M492.4,73.2 L553.5,39.5 L553.5,201.0 L63.5,479.2 L63.5,669.8 L86.0,657.5" stroke="#888" stroke-width="1.1" fill="none" stroke-linejoin="round"/>
<path d="M656.6,332.1 L695.8,311.2 L695.8,418.8 L229.4,686.0 L229.4,839.6 L262.0,822.0" stroke="#888" stroke-width="1.1" fill="none" stroke-linejoin="round"/>
<rect x="551.5" y="112" width="4" height="6.3" fill="#fff"/>
<rect x="551.5" y="125.2" width="4" height="5.2" fill="#fff"/>
<rect x="693.8" y="359.5" width="4" height="6.3" fill="#fff"/>
<rect x="693.8" y="372.1" width="4" height="5.7" fill="#fff"/>
<rect x="61.5" y="557" width="4" height="6.9" fill="#fff"/>
<rect x="61.5" y="569.9" width="4" height="6.0" fill="#fff"/>
<rect x="227.4" y="757.7" width="4" height="6.4" fill="#fff"/>
<rect x="227.4" y="770.6" width="4" height="6.4" fill="#fff"/>
<line x1="279.3" y1="356.8" x2="284.4" y2="353.9" stroke="#fff" stroke-width="3.5"/>
<line x1="289.5" y1="351.0" x2="296.3" y2="347.1" stroke="#fff" stroke-width="3.5"/>
<line x1="471.3" y1="547.4" x2="476.7" y2="544.3" stroke="#fff" stroke-width="3.5"/>
<line x1="482.2" y1="541.2" x2="487.6" y2="538.1" stroke="#fff" stroke-width="3.5"/>
<circle cx="44" cy="15" r="13.5" stroke="#111" stroke-width="1.9" fill="#fff"/>
<path d="M43.77,21.20 L47.19,21.20 L47.19,7.95 L44.64,7.95 L44.30,9.18 L43.02,10.10 L40.25,10.25 L40.25,12.13 L43.77,12.13 Z" fill="#111"/>
<circle cx="388.1" cy="344" r="12.4" stroke="#111" stroke-width="1.7" fill="#fff"/>
<text class="lb" transform="translate(382.83,349.7) scale(1.154,1)" font-size="18">2</text>
<circle cx="279.5" cy="676" r="13" stroke="#111" stroke-width="1.7" fill="#fff"/>
<text class="lb" transform="translate(273.82,682.4) scale(1.128,1)" font-size="18">5</text>
<path d="M400.4,336.7 L473.7,295.8 L480.3,306.9" stroke="#111" stroke-width="1.5" fill="none" stroke-linejoin="round"/>
<path d="M428.0,321.1 L435.6,332.6" stroke="#111" stroke-width="1.5" fill="none" stroke-linejoin="round"/>
<path d="M489.8,328.8 L497.5,338.3 L452.7,363.4 L446.0,352.5" stroke="#111" stroke-width="1.5" fill="none" stroke-linejoin="round"/>
<path d="M476.5,350.6 L488.0,369.6" stroke="#111" stroke-width="1.5" fill="none" stroke-linejoin="round"/>
<path d="M292.5,668.3 L364.3,627.7 L369.5,636.5" stroke="#111" stroke-width="1.5" fill="none" stroke-linejoin="round"/>
<path d="M320.0,655.2 L323.6,661.2" stroke="#111" stroke-width="1.5" fill="none" stroke-linejoin="round"/>
<path d="M379.0,655.0 L383.7,663.0 L337.8,687.7 L333.3,680.0" stroke="#111" stroke-width="1.5" fill="none" stroke-linejoin="round"/>
<path d="M364.3,675.3 L367.8,682.4" stroke="#111" stroke-width="1.5" fill="none" stroke-linejoin="round"/>
<text class="lb" transform="translate(179.58,65.6) scale(1.065,1)" font-size="18">2</text>
<text class="lb" transform="translate(190.25,65.6) scale(1.065,1)" font-size="18">2</text>
<text class="lb" transform="translate(254.56,48.0) scale(1.103,1)" font-size="18">2</text>
<path d="M270.81,48.00 L273.75,48.00 L273.75,35.11 L271.57,35.11 L271.27,36.30 L270.18,37.20 L267.79,37.34 L267.79,39.18 L270.81,39.18 Z" fill="#111"/>
<path d="M331.88,35.50 L334.94,35.50 L334.94,22.61 L332.67,22.61 L332.36,23.80 L331.22,24.70 L328.75,24.84 L328.75,26.68 L331.88,26.68 Z" fill="#111"/>
<text class="lb" transform="translate(337.95,35.5) scale(1.145,1)" font-size="18">9</text>
<path d="M125.40,96.00 L128.47,96.00 L128.47,83.11 L126.19,83.11 L125.88,84.30 L124.74,85.20 L122.25,85.34 L122.25,87.18 L125.40,87.18 Z" fill="#111"/>
<text class="lb" transform="translate(131.50,96.0) scale(1.152,1)" font-size="18">5</text>
<path d="M71.28,167.40 L74.33,167.40 L74.33,154.51 L72.06,154.51 L71.75,155.70 L70.62,156.60 L68.15,156.74 L68.15,158.58 L71.28,158.58 Z" fill="#111"/>
<text class="lb" transform="translate(77.34,167.4) scale(1.144,1)" font-size="18">6</text>
<text class="lb" transform="translate(16.10,241.0) scale(1.092,1)" font-size="18">3</text>
<text class="lb" transform="translate(27.03,241.0) scale(1.092,1)" font-size="18">0</text>
<text class="lb" transform="translate(43.09,405.0) scale(1.053,1)" font-size="18">2</text>
<text class="lb" transform="translate(53.64,405.0) scale(1.053,1)" font-size="18">5</text>
<path d="M134.99,405.00 L137.86,405.00 L137.86,392.11 L135.73,392.11 L135.44,393.30 L134.37,394.20 L132.05,394.34 L132.05,396.18 L134.99,396.18 Z" fill="#111"/>
<text class="lb" transform="translate(140.69,405.0) scale(1.075,1)" font-size="18">3</text>
<path d="M488.52,220.40 L491.42,220.40 L491.42,207.51 L489.27,207.51 L488.97,208.70 L487.90,209.60 L485.55,209.74 L485.55,211.58 L488.52,211.58 Z" fill="#111"/>
<text class="lb" transform="translate(494.28,220.4) scale(1.086,1)" font-size="18">8</text>
<text class="lb" transform="translate(590.93,237.0) scale(0.998,1)" font-size="18">9</text>
<text class="lb" transform="translate(434.54,348.7) scale(1.006,1)" font-size="18">3</text>
<text class="lb" transform="translate(481.29,324.0) scale(0.950,1)" font-size="18">4</text>
<path d="M349.30,386.60 L352.28,386.60 L352.28,373.71 L350.07,373.71 L349.77,374.90 L348.66,375.80 L346.25,375.94 L346.25,377.78 L349.30,377.78 Z" fill="#111"/>
<path d="M360.48,386.60 L363.45,386.60 L363.45,373.71 L361.24,373.71 L360.94,374.90 L359.83,375.80 L357.42,375.94 L357.42,377.78 L360.48,377.78 Z" fill="#111"/>
<path d="M221.87,444.30 L224.43,444.30 L224.43,431.41 L222.53,431.41 L222.27,432.60 L221.32,433.50 L219.25,433.64 L219.25,435.48 L221.87,435.48 Z" fill="#111"/>
<text class="lb" transform="translate(226.96,444.3) scale(0.959,1)" font-size="18">0</text>
<text class="lb" transform="translate(307.16,442.3) scale(0.950,1)" font-size="18">2</text>
<text class="lb" transform="translate(316.67,442.3) scale(0.950,1)" font-size="18">6</text>
<path d="M191.19,511.10 L193.87,511.10 L193.87,498.21 L191.88,498.21 L191.61,499.40 L190.62,500.30 L188.45,500.44 L188.45,502.28 L191.19,502.28 Z" fill="#111"/>
<text class="lb" transform="translate(196.51,511.1) scale(1.003,1)" font-size="18">4</text>
<path d="M147.53,537.60 L150.52,537.60 L150.52,524.71 L148.30,524.71 L147.99,525.90 L146.88,526.80 L144.45,526.94 L144.45,528.78 L147.53,528.78 Z" fill="#111"/>
<text class="lb" transform="translate(153.48,537.6) scale(1.125,1)" font-size="18">7</text>
<path d="M98.65,563.30 L101.47,563.30 L101.47,550.41 L99.37,550.41 L99.09,551.60 L98.04,552.50 L95.75,552.64 L95.75,554.48 L98.65,554.48 Z" fill="#111"/>
<text class="lb" transform="translate(104.25,563.3) scale(1.059,1)" font-size="18">4</text>
<path d="M392.99,556.60 L396.05,556.60 L396.05,543.71 L393.78,543.71 L393.47,544.90 L392.33,545.80 L389.85,545.94 L389.85,547.78 L392.99,547.78 Z" fill="#111"/>
<text class="lb" transform="translate(399.08,556.6) scale(1.149,1)" font-size="18">2</text>
<text class="lb" transform="translate(119.78,724.7) scale(1.072,1)" font-size="18">2</text>
<text class="lb" transform="translate(130.51,724.7) scale(1.072,1)" font-size="18">3</text>
<text class="lb" transform="translate(422.06,636.5) scale(1.105,1)" font-size="18">2</text>
<text class="lb" transform="translate(433.12,636.5) scale(1.105,1)" font-size="18">9</text>
<text class="lb" transform="translate(367.12,651.7) scale(1.196,1)" font-size="18">7</text>
<text class="lb" transform="translate(321.33,677.0) scale(1.250,1)" font-size="18">6</text>
<text class="lb" transform="translate(576.60,683.6) scale(1.045,1)" font-size="18">2</text>
<text class="lb" transform="translate(587.06,683.6) scale(1.045,1)" font-size="18">0</text>
<text class="lb" transform="translate(535.12,751.3) scale(1.010,1)" font-size="18">2</text>
<text class="lb" transform="translate(545.23,751.3) scale(1.010,1)" font-size="18">4</text>
<text class="lb" transform="translate(545.10,814.0) scale(1.035,1)" font-size="18">2</text>
<text class="lb" transform="translate(555.46,814.0) scale(1.035,1)" font-size="18">8</text>
<text class="lb" transform="translate(376.20,841.4) scale(1.137,1)" font-size="18">8</text>
<text class="lb" transform="translate(490.90,854.0) scale(1.048,1)" font-size="18">2</text>
<text class="lb" transform="translate(501.39,854.0) scale(1.048,1)" font-size="18">7</text>
<text class="lb" transform="translate(643.66,858.0) scale(1.040,1)" font-size="18.5">4</text>
<text class="lb" transform="translate(654.36,858.0) scale(1.040,1)" font-size="18.5">4</text>
<text class="lb" transform="translate(665.05,858.0) scale(1.040,1)" font-size="18.5">0</text>
<text class="lb" transform="translate(675.75,858.0) scale(1.040,1)" font-size="18.5">6</text>
<text class="lb" transform="translate(686.45,858.0) scale(1.040,1)" font-size="18.5">0</text>
<text class="lb" transform="translate(697.14,858.0) scale(1.040,1)" font-size="18.5">0</text>
<line x1="196.5" y1="69.0" x2="223.6" y2="120.5" stroke="#111" stroke-width="1.5"/>
<line x1="265.8" y1="52.6" x2="275.3" y2="111.0" stroke="#111" stroke-width="1.5"/>
<line x1="139.4" y1="98.8" x2="169.3" y2="149.0" stroke="#111" stroke-width="1.5"/>
<line x1="86.2" y1="170.2" x2="114.4" y2="208.5" stroke="#111" stroke-width="1.5"/>
<line x1="32.0" y1="245.2" x2="48.0" y2="281.0" stroke="#111" stroke-width="1.5"/>
<line x1="56.0" y1="386.4" x2="58.4" y2="348.0" stroke="#111" stroke-width="1.5"/>
<line x1="138.6" y1="386.4" x2="128.4" y2="346.4" stroke="#111" stroke-width="1.5"/>
<line x1="484.0" y1="205.0" x2="452.9" y2="180.0" stroke="#111" stroke-width="1.5"/>
<line x1="493.2" y1="203.0" x2="488.2" y2="159.3" stroke="#111" stroke-width="1.5"/>
<line x1="596.3" y1="240.4" x2="599.6" y2="292.3" stroke="#111" stroke-width="1.5"/>
<line x1="234.2" y1="447.6" x2="260.0" y2="496.0" stroke="#111" stroke-width="1.5"/>
<line x1="324.6" y1="445.7" x2="346.0" y2="482.0" stroke="#111" stroke-width="1.5"/>
<line x1="382.0" y1="825.5" x2="364.3" y2="783.0" stroke="#111" stroke-width="1.5"/>
<line x1="426.0" y1="641.8" x2="408.4" y2="671.8" stroke="#111" stroke-width="1.5"/>
<line x1="575.5" y1="680.8" x2="525.5" y2="685.6" stroke="#111" stroke-width="1.5"/>
<line x1="532.7" y1="741.3" x2="482.8" y2="728.4" stroke="#111" stroke-width="1.5"/>
<line x1="494.2" y1="838.3" x2="477.6" y2="805.5" stroke="#111" stroke-width="1.5"/>
<line x1="544.0" y1="802.6" x2="507.0" y2="780.6" stroke="#111" stroke-width="1.5"/>
<filter id="emb" x="-2%" y="-30%" width="104%" height="160%" color-interpolation-filters="sRGB">
  <feOffset in="SourceAlpha" dx="2" dy="2" result="o1"/>
  <feComposite in="o1" in2="SourceAlpha" operator="out" result="sh"/>
  <feFlood flood-color="#5a5a5a" flood-opacity="0.8"/>
  <feComposite in2="sh" operator="in" result="shc"/>
  <feOffset in="SourceAlpha" dx="-1" dy="-1" result="o2"/>
  <feComposite in="o2" in2="SourceAlpha" operator="out" result="hl"/>
  <feFlood flood-color="#bbb" flood-opacity="0.6"/>
  <feComposite in2="hl" operator="in" result="hlc"/>
  <feFlood flood-color="#fff" flood-opacity="0.38"/>
  <feComposite in2="SourceAlpha" operator="in" result="body"/>
  <feMerge><feMergeNode in="body"/><feMergeNode in="shc"/><feMergeNode in="hlc"/></feMerge>
</filter>
<text class="wm" x="4.4" y="447.5" fill="#fff" filter="url(#emb)">spetszapchastina-grup.uagronom.com</text>
</svg>
</body></html>
